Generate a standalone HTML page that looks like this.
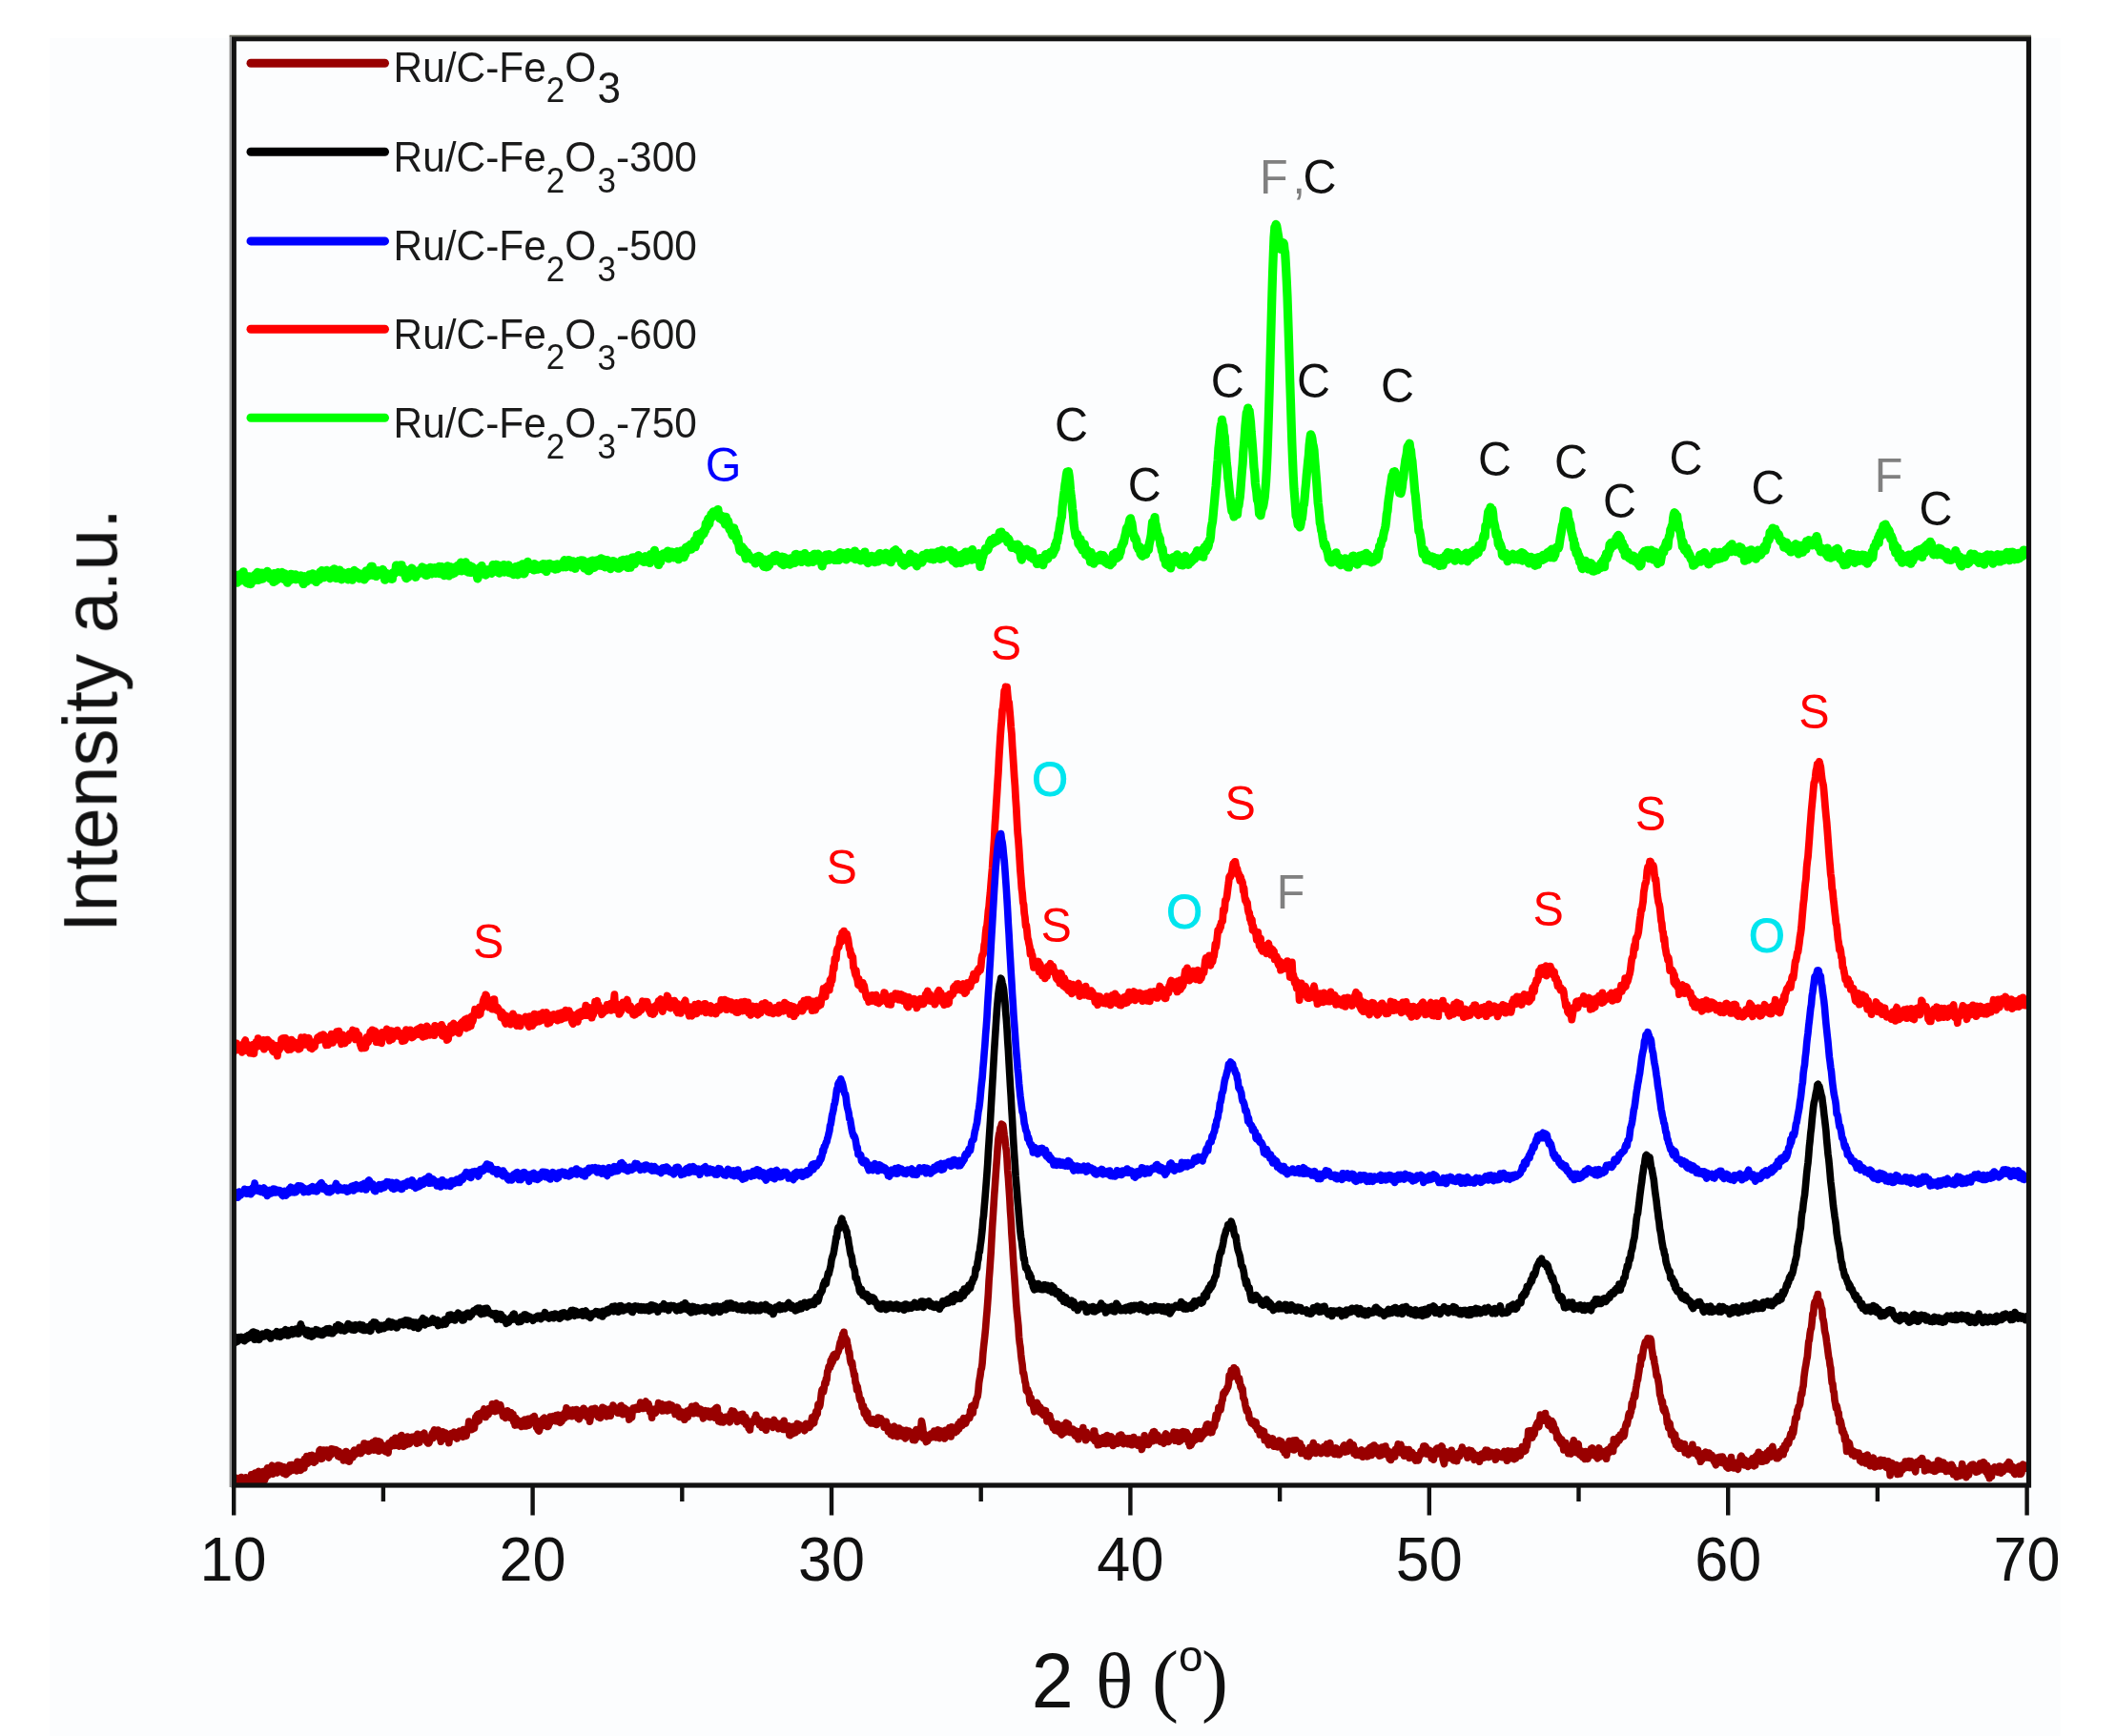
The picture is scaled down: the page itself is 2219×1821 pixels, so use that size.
<!DOCTYPE html>
<html lang="en">
<head>
<meta charset="utf-8">
<title>XRD patterns of Ru/C-Fe2O3 samples</title>
<style>
html,body{margin:0;padding:0;background:#fff;}
body{width:2219px;height:1821px;overflow:hidden;}
svg{display:block;}
#plot{filter:blur(0.75px);}
text{font-family:"Liberation Sans",sans-serif;}
.lg{font-size:42.4px;fill:#1a1a1a;}
.tk{font-size:63px;fill:#111;text-anchor:middle;}
.an{font-size:48.5px;}
.yl{font-size:78.5px;fill:#111;}
.xl{font-size:79px;fill:#111;}
.ser{font-family:"Liberation Serif",serif;}
</style>
</head>
<body>
<svg width="2219" height="1821" viewBox="0 0 2219 1821">
<rect x="0" y="0" width="2219" height="1821" fill="#ffffff"/>
<rect x="52" y="40" width="2109" height="1781" fill="#fcfdfe"/>
<g id="plot">
<defs><clipPath id="cp"><rect x="245.3" y="40.7" width="1882.2" height="1517.3"/></clipPath></defs>
<g clip-path="url(#cp)">
<polyline fill="none" stroke="#00ff00" stroke-width="9.2" stroke-linejoin="round" stroke-linecap="butt" points="243.3,608.8 244.0,610.3 244.7,609.6 245.4,605.2 246.1,603.4 246.8,610.5 247.5,608.2 248.2,603.4 248.9,611.1 249.6,610.4 250.3,604.3 251.0,609.2 251.7,602.5 252.4,604.8 253.1,608.8 253.8,603.6 254.5,603.8 255.2,599.8 255.9,607.8 256.6,605.1 257.3,603.5 258.0,608.6 258.7,611.3 259.4,607.2 260.1,610.0 260.8,612.2 261.5,604.9 262.2,609.1 262.9,612.6 263.6,605.6 264.3,606.0 265.0,608.2 265.7,609.4 266.4,606.0 267.1,607.0 267.8,602.7 268.5,607.7 269.2,603.0 269.9,600.4 270.6,608.5 271.3,605.5 272.0,604.5 272.7,607.8 273.4,603.6 274.1,601.1 274.8,605.7 275.5,607.2 276.2,605.1 276.9,601.1 277.6,604.5 278.3,603.8 279.0,603.2 279.7,600.2 280.4,599.3 281.1,602.8 281.8,605.0 282.5,601.6 283.2,606.8 283.9,605.8 284.6,603.2 285.3,607.6 286.0,606.9 286.7,610.4 287.4,601.7 288.1,608.4 288.8,609.3 289.5,607.7 290.2,604.2 290.9,607.9 291.6,600.7 292.3,602.3 293.0,606.5 293.7,604.1 294.4,605.0 295.1,602.9 295.8,600.4 296.5,602.9 297.2,606.9 297.9,607.7 298.6,601.8 299.3,606.3 300.0,606.0 300.7,605.6 301.4,611.2 302.1,607.2 302.8,605.0 303.5,605.1 304.2,608.6 304.9,602.3 305.6,605.2 306.3,604.8 307.0,605.3 307.7,602.9 308.4,606.0 309.1,607.1 309.8,602.8 310.5,607.7 311.2,606.2 311.9,606.7 312.6,604.8 313.3,605.5 314.0,606.8 314.7,605.1 315.4,603.8 316.1,608.8 316.8,605.7 317.5,608.2 318.2,612.5 318.9,609.3 319.6,604.7 320.3,605.8 321.0,609.6 321.7,609.9 322.4,608.3 323.1,607.9 323.8,604.0 324.5,602.8 325.2,602.9 325.9,606.6 326.6,608.0 327.3,602.9 328.0,601.8 328.7,605.2 329.4,602.7 330.1,606.1 330.8,604.7 331.5,610.4 332.2,604.1 332.9,606.1 333.6,606.1 334.3,605.2 335.0,607.7 335.7,600.0 336.4,605.3 337.1,599.8 337.8,598.5 338.5,599.1 339.2,603.5 339.9,605.7 340.6,602.9 341.3,600.2 342.0,601.9 342.7,598.3 343.4,601.7 344.1,600.5 344.8,599.7 345.5,601.8 346.2,606.6 346.9,604.1 347.6,600.7 348.3,598.2 349.0,605.7 349.7,599.1 350.4,596.8 351.1,597.3 351.8,604.2 352.5,606.5 353.2,598.3 353.9,604.0 354.6,603.8 355.3,602.9 356.0,598.1 356.7,606.4 357.4,603.9 358.1,607.8 358.8,607.4 359.5,605.3 360.2,600.7 360.9,602.4 361.6,603.5 362.3,605.8 363.0,601.9 363.7,602.7 364.4,604.6 365.1,607.8 365.8,600.4 366.5,602.6 367.2,603.4 367.9,604.2 368.6,602.5 369.3,608.2 370.0,605.2 370.7,599.5 371.4,598.4 372.1,601.2 372.8,603.2 373.5,599.9 374.2,600.4 374.9,604.7 375.6,604.4 376.3,606.3 377.0,606.8 377.7,602.0 378.4,603.5 379.1,604.8 379.8,605.7 380.5,605.9 381.2,607.2 381.9,608.0 382.6,607.1 383.3,600.2 384.0,598.9 384.7,599.9 385.4,604.4 386.1,599.3 386.8,603.6 387.5,601.3 388.2,603.1 388.9,594.4 389.6,598.2 390.3,594.3 391.0,601.8 391.7,603.4 392.4,601.8 393.1,601.0 393.8,603.5 394.5,604.5 395.2,601.8 395.9,602.8 396.6,598.7 397.3,602.5 398.0,602.4 398.7,601.1 399.4,602.9 400.1,602.6 400.8,600.9 401.5,597.4 402.2,600.3 402.9,601.1 403.6,608.2 404.3,605.0 405.0,605.9 405.7,601.6 406.4,603.4 407.1,604.3 407.8,603.0 408.5,603.8 409.2,603.8 409.9,607.1 410.6,606.6 411.3,607.4 412.0,600.8 412.7,601.9 413.4,602.1 414.1,599.4 414.8,600.6 415.5,593.0 416.2,598.7 416.9,593.3 417.6,597.5 418.3,596.8 419.0,596.5 419.7,599.9 420.4,592.9 421.1,592.9 421.8,600.5 422.5,598.2 423.2,598.9 423.9,597.0 424.6,601.2 425.3,604.8 426.0,606.6 426.7,601.5 427.4,599.0 428.1,605.2 428.8,601.3 429.5,602.6 430.2,602.7 430.9,603.3 431.6,596.2 432.3,596.6 433.0,599.1 433.7,601.9 434.4,599.7 435.1,599.4 435.8,605.3 436.5,599.9 437.2,599.7 437.9,600.1 438.6,602.1 439.3,598.5 440.0,599.6 440.7,600.1 441.4,601.0 442.1,598.6 442.8,594.9 443.5,599.3 444.2,599.2 444.9,598.8 445.6,596.2 446.3,603.3 447.0,597.3 447.7,603.5 448.4,601.2 449.1,598.0 449.8,601.9 450.5,601.0 451.2,595.4 451.9,598.9 452.6,601.9 453.3,599.3 454.0,596.0 454.7,596.6 455.4,600.9 456.1,595.7 456.8,601.4 457.5,598.6 458.2,598.2 458.9,598.7 459.6,598.5 460.3,594.4 461.0,601.6 461.7,597.2 462.4,600.0 463.1,594.6 463.8,602.3 464.5,601.0 465.2,596.2 465.9,603.6 466.6,602.5 467.3,598.7 468.0,596.6 468.7,600.5 469.4,593.9 470.1,602.9 470.8,603.9 471.5,594.7 472.2,602.1 472.9,596.7 473.6,601.1 474.3,602.2 475.0,595.4 475.7,596.1 476.4,601.2 477.1,598.9 477.8,599.3 478.5,595.2 479.2,599.2 479.9,593.3 480.6,594.0 481.3,594.5 482.0,594.1 482.7,596.4 483.4,590.1 484.1,598.9 484.8,593.8 485.5,595.6 486.2,594.4 486.9,591.6 487.6,594.2 488.3,589.9 489.0,593.2 489.7,599.4 490.4,593.5 491.1,600.1 491.8,599.1 492.5,593.5 493.2,596.3 493.9,600.5 494.6,594.8 495.3,594.9 496.0,595.5 496.7,600.0 497.4,599.6 498.1,598.9 498.8,601.0 499.5,601.8 500.2,603.8 500.9,607.0 501.6,603.1 502.3,596.7 503.0,595.6 503.7,596.1 504.4,601.7 505.1,593.5 505.8,598.9 506.5,597.9 507.2,597.1 507.9,601.0 508.6,602.7 509.3,603.1 510.0,598.9 510.7,597.9 511.4,598.5 512.1,598.3 512.8,597.7 513.5,600.1 514.2,597.9 514.9,599.2 515.6,601.3 516.3,600.1 517.0,592.6 517.7,599.7 518.4,597.2 519.1,594.6 519.8,593.5 520.5,592.3 521.2,595.0 521.9,598.0 522.6,593.0 523.3,601.1 524.0,597.1 524.7,595.9 525.4,593.5 526.1,599.5 526.8,598.6 527.5,596.2 528.2,592.5 528.9,600.1 529.6,596.8 530.3,593.8 531.0,595.5 531.7,599.3 532.4,598.3 533.1,592.9 533.8,600.6 534.5,596.9 535.2,599.8 535.9,596.2 536.6,600.4 537.3,601.7 538.0,595.7 538.7,602.6 539.4,602.0 540.1,600.7 540.8,594.6 541.5,600.6 542.2,601.0 542.9,602.8 543.6,597.6 544.3,593.5 545.0,600.7 545.7,596.2 546.4,594.3 547.1,597.6 547.8,591.8 548.5,592.1 549.2,602.0 549.9,601.5 550.6,599.3 551.3,596.4 552.0,595.9 552.7,592.6 553.4,589.3 554.1,593.1 554.8,590.8 555.5,596.5 556.2,592.4 556.9,595.0 557.6,595.7 558.3,595.7 559.0,594.6 559.7,597.9 560.4,591.5 561.1,596.8 561.8,597.4 562.5,596.2 563.2,593.0 563.9,596.8 564.6,597.1 565.3,594.2 566.0,594.2 566.7,594.4 567.4,592.9 568.1,592.6 568.8,592.8 569.5,591.6 570.2,597.3 570.9,592.9 571.6,591.8 572.3,596.6 573.0,599.5 573.7,592.7 574.4,591.9 575.1,592.9 575.8,591.8 576.5,591.4 577.2,593.0 577.9,594.7 578.6,594.4 579.3,595.9 580.0,594.0 580.7,594.3 581.4,592.5 582.1,597.1 582.8,594.8 583.5,593.8 584.2,591.8 584.9,596.6 585.6,594.1 586.3,595.5 587.0,593.0 587.7,594.0 588.4,594.7 589.1,592.5 589.8,590.8 590.5,594.8 591.2,590.3 591.9,587.6 592.6,591.1 593.3,594.8 594.0,589.8 594.7,591.6 595.4,592.4 596.1,587.5 596.8,587.8 597.5,588.1 598.2,592.4 598.9,589.9 599.6,595.0 600.3,594.0 601.0,588.8 601.7,593.9 602.4,591.3 603.1,596.3 603.8,591.0 604.5,590.6 605.2,592.1 605.9,592.4 606.6,592.2 607.3,588.3 608.0,588.3 608.7,588.5 609.4,587.8 610.1,593.0 610.8,592.8 611.5,588.1 612.2,594.2 612.9,596.1 613.6,595.1 614.3,595.7 615.0,590.1 615.7,595.3 616.4,589.9 617.1,598.7 617.8,598.8 618.5,597.9 619.2,589.9 619.9,588.6 620.6,594.1 621.3,588.0 622.0,588.9 622.7,594.6 623.4,595.3 624.1,588.4 624.8,588.0 625.5,593.6 626.2,590.3 626.9,590.8 627.6,587.4 628.3,589.1 629.0,593.2 629.7,590.6 630.4,585.8 631.1,588.3 631.8,593.5 632.5,591.3 633.2,587.1 633.9,591.5 634.6,594.8 635.3,593.3 636.0,593.0 636.7,587.5 637.4,593.1 638.1,592.7 638.8,593.9 639.5,591.3 640.2,596.6 640.9,595.3 641.6,590.3 642.3,588.7 643.0,593.0 643.7,588.7 644.4,590.7 645.1,590.6 645.8,592.2 646.5,590.1 647.2,594.3 647.9,596.1 648.6,590.6 649.3,596.1 650.0,595.5 650.7,592.2 651.4,588.2 652.1,594.3 652.8,592.9 653.5,587.4 654.2,589.2 654.9,593.4 655.6,590.9 656.3,587.6 657.0,590.1 657.7,586.9 658.4,595.4 659.1,595.0 659.8,589.7 660.5,592.0 661.2,595.2 661.9,592.2 662.6,585.2 663.3,591.1 664.0,590.7 664.7,584.9 665.4,591.6 666.1,587.1 666.8,586.5 667.5,585.7 668.2,587.2 668.9,584.6 669.6,582.5 670.3,584.1 671.0,587.8 671.7,586.3 672.4,586.6 673.1,585.0 673.8,585.5 674.5,588.7 675.2,589.5 675.9,585.5 676.6,583.7 677.3,585.7 678.0,586.3 678.7,585.7 679.4,589.3 680.1,589.3 680.8,587.9 681.5,590.5 682.2,581.5 682.9,582.8 683.6,585.4 684.3,581.8 685.0,581.6 685.7,582.6 686.4,577.4 687.1,584.7 687.8,583.7 688.5,587.5 689.2,582.0 689.9,584.9 690.6,592.5 691.3,585.5 692.0,589.1 692.7,589.6 693.4,584.9 694.1,584.0 694.8,584.1 695.5,580.9 696.2,582.4 696.9,582.3 697.6,582.1 698.3,580.4 699.0,581.3 699.7,578.7 700.4,578.1 701.1,585.9 701.8,581.6 702.5,583.9 703.2,584.2 703.9,580.1 704.6,579.1 705.3,582.4 706.0,581.4 706.7,584.8 707.4,583.7 708.1,581.7 708.8,584.2 709.5,582.8 710.2,578.7 710.9,583.8 711.6,586.7 712.3,585.4 713.0,579.8 713.7,581.3 714.4,577.9 715.1,583.3 715.8,580.0 716.5,581.6 717.2,584.6 717.9,581.6 718.6,581.8 719.3,574.4 720.0,575.6 720.7,577.6 721.4,573.3 722.1,577.1 722.8,574.6 723.5,574.7 724.2,571.2 724.9,576.1 725.6,571.4 726.3,573.1 727.0,569.7 727.7,569.3 728.4,566.7 729.1,573.7 729.8,571.1 730.5,567.7 731.2,561.2 731.9,562.0 732.6,567.4 733.3,567.5 734.0,559.8 734.7,562.0 735.4,562.6 736.1,561.0 736.8,560.7 737.5,557.2 738.2,559.5 738.9,555.3 739.6,556.5 740.3,549.0 741.0,551.4 741.7,552.6 742.4,545.2 743.1,543.7 743.8,549.5 744.5,542.8 745.2,544.3 745.9,539.3 746.6,542.0 747.3,541.8 748.0,536.8 748.7,537.2 749.4,537.7 750.1,539.1 750.8,537.1 751.5,538.8 752.2,539.5 752.9,534.5 753.6,542.1 753.8,538.6 754.3,540.7 755.0,543.9 755.7,543.1 756.4,541.3 757.1,545.1 757.8,543.4 758.5,541.9 759.2,547.2 759.9,544.9 760.6,550.0 761.3,542.4 762.0,548.4 762.7,548.6 763.4,546.2 764.1,549.0 764.8,554.4 765.5,556.1 766.2,554.4 766.9,555.9 767.6,560.1 768.3,561.7 769.0,556.9 769.7,553.9 770.4,561.0 771.1,557.6 771.8,559.5 772.5,566.9 773.2,568.4 773.9,564.3 774.6,570.4 775.3,574.6 776.0,577.6 776.7,574.7 777.4,578.8 778.1,573.6 778.8,576.3 779.5,575.1 780.2,577.6 780.9,577.2 781.6,583.3 782.3,586.0 783.0,582.3 783.7,579.8 784.4,582.1 785.1,581.9 785.8,583.4 786.5,584.5 787.2,584.9 787.9,585.5 788.6,587.0 789.3,586.1 790.0,587.1 790.7,586.4 791.4,586.3 792.1,590.9 792.8,585.3 793.5,584.2 794.2,587.0 794.9,588.5 795.6,583.3 796.3,587.2 797.0,584.1 797.7,585.9 798.4,588.9 799.1,590.0 799.8,587.8 800.5,593.2 801.2,594.4 801.9,587.0 802.6,592.7 803.3,588.3 804.0,594.8 804.7,590.9 805.4,594.1 806.1,588.3 806.8,592.4 807.5,586.1 808.2,589.7 808.9,589.1 809.6,587.6 810.3,586.6 811.0,586.9 811.7,583.1 812.4,588.5 813.1,586.1 813.8,582.3 814.5,586.8 815.2,585.0 815.9,588.1 816.6,586.5 817.3,589.0 818.0,588.3 818.7,590.1 819.4,591.3 820.1,584.1 820.8,590.0 821.5,592.6 822.2,584.6 822.9,591.0 823.6,588.0 824.3,589.6 825.0,586.0 825.7,590.4 826.4,591.6 827.1,590.0 827.8,590.0 828.5,592.1 829.2,589.6 829.9,585.5 830.6,588.2 831.3,590.9 832.0,586.1 832.7,585.7 833.4,590.4 834.1,581.6 834.8,581.4 835.5,582.7 836.2,588.9 836.9,583.5 837.6,585.9 838.3,587.3 839.0,582.4 839.7,588.3 840.4,589.5 841.1,582.1 841.8,585.4 842.5,583.3 843.2,587.4 843.9,580.5 844.6,583.6 845.3,583.3 846.0,587.2 846.7,583.5 847.4,589.9 848.1,585.8 848.8,583.8 849.5,585.6 850.2,588.5 850.9,584.7 851.6,582.9 852.3,589.5 853.0,586.9 853.7,581.4 854.4,587.6 855.1,581.3 855.8,586.6 856.5,587.8 857.2,583.3 857.9,581.2 858.6,586.3 859.3,587.3 860.0,586.2 860.7,586.9 861.4,583.9 862.1,593.8 862.8,586.2 863.5,589.1 864.2,586.8 864.9,588.7 865.6,584.6 866.3,582.0 867.0,585.3 867.7,582.4 868.4,584.7 869.1,581.5 869.8,587.1 870.5,584.0 871.2,583.5 871.9,583.0 872.6,584.7 873.3,584.3 874.0,585.6 874.7,583.0 875.4,587.5 876.1,584.1 876.8,582.2 877.5,586.8 878.2,587.3 878.9,584.3 879.6,587.4 880.3,581.7 881.0,579.6 881.7,580.6 882.4,585.9 883.1,580.3 883.8,583.3 884.5,583.1 885.2,583.1 885.9,582.9 886.6,583.2 887.3,586.9 888.0,582.8 888.7,579.6 889.4,584.4 890.1,581.2 890.8,580.4 891.5,581.9 892.2,583.1 892.9,584.8 893.6,583.2 894.3,580.1 895.0,580.0 895.7,582.8 896.4,578.0 897.1,586.7 897.8,585.3 898.5,584.6 899.2,586.2 899.9,581.0 900.6,586.1 901.3,586.0 902.0,587.5 902.7,587.9 903.4,585.9 904.1,583.5 904.8,587.4 905.5,585.1 906.2,582.1 906.9,579.0 907.6,585.9 908.3,588.4 909.0,585.4 909.7,587.6 910.4,590.6 911.1,588.9 911.8,585.1 912.5,587.5 913.2,586.7 913.9,583.3 914.6,585.5 915.3,588.5 916.0,589.0 916.7,584.1 917.4,589.7 918.1,583.6 918.8,583.8 919.5,584.4 920.2,583.8 920.9,588.9 921.6,581.9 922.3,580.5 923.0,580.6 923.7,585.6 924.4,582.2 925.1,583.8 925.8,583.2 926.5,587.1 927.2,582.6 927.9,585.2 928.6,586.6 929.3,580.2 930.0,587.2 930.7,581.2 931.4,584.2 932.1,581.4 932.8,588.7 933.5,581.7 934.2,589.7 934.9,586.7 935.6,586.8 936.3,586.2 937.0,578.4 937.7,582.9 938.4,577.8 939.1,576.7 939.8,584.8 940.5,578.5 941.2,584.0 941.9,579.4 942.6,583.7 943.3,585.4 944.0,583.1 944.7,584.9 945.4,590.5 946.1,585.9 946.8,585.0 947.5,591.2 948.2,593.2 948.9,588.8 949.6,586.8 950.3,586.6 951.0,588.7 951.7,590.7 952.4,587.0 953.1,588.1 953.8,583.2 954.5,581.1 955.2,583.7 955.9,587.9 956.6,585.3 957.3,589.7 958.0,586.5 958.7,586.4 959.4,584.1 960.1,587.3 960.8,592.1 961.5,593.8 962.2,589.6 962.9,590.7 963.6,586.3 964.3,587.0 965.0,585.6 965.7,590.1 966.4,588.5 967.1,589.9 967.8,582.4 968.5,582.5 969.2,586.4 969.9,581.9 970.6,584.3 971.3,582.6 972.0,580.3 972.7,584.1 973.4,582.3 974.1,582.1 974.8,582.9 975.5,586.2 976.2,580.2 976.9,580.0 977.6,580.2 978.3,580.2 979.0,586.8 979.7,584.9 980.4,580.1 981.1,581.4 981.8,580.2 982.5,583.6 983.2,584.4 983.9,578.6 984.6,585.7 985.3,584.6 986.0,586.4 986.7,582.2 987.4,582.7 988.1,577.2 988.8,585.6 989.5,584.5 990.2,583.5 990.9,583.9 991.6,579.0 992.3,582.7 993.0,583.4 993.7,579.3 994.4,583.8 995.1,580.2 995.8,581.8 996.5,577.3 997.2,584.6 997.9,579.9 998.6,586.1 999.3,588.2 1000.0,579.5 1000.7,585.9 1001.4,581.6 1002.1,585.0 1002.8,591.0 1003.5,588.2 1004.2,589.9 1004.9,586.1 1005.6,583.7 1006.3,582.7 1007.0,586.2 1007.7,590.3 1008.4,585.2 1009.1,585.1 1009.8,587.6 1010.5,580.9 1011.2,586.4 1011.9,586.8 1012.6,579.0 1013.3,588.2 1014.0,585.4 1014.7,586.0 1015.4,579.2 1016.1,581.6 1016.8,583.6 1017.5,583.1 1018.2,580.5 1018.9,587.1 1019.6,576.6 1020.3,583.1 1021.0,586.5 1021.7,585.3 1022.4,585.8 1023.1,581.3 1023.8,586.6 1024.5,584.2 1025.2,582.4 1025.9,584.5 1026.6,580.7 1027.3,584.6 1028.0,594.4 1028.7,588.7 1029.4,590.0 1030.1,584.7 1030.8,584.0 1031.5,579.7 1032.2,580.0 1032.9,577.4 1033.6,575.3 1034.3,576.5 1035.0,576.6 1035.7,577.0 1036.4,575.5 1037.1,571.7 1037.8,568.7 1038.5,571.6 1039.2,566.4 1039.9,567.1 1040.6,569.0 1041.3,569.8 1042.0,566.8 1042.7,564.3 1043.4,566.9 1044.1,567.9 1044.8,566.5 1045.5,567.4 1046.2,563.5 1046.9,566.4 1047.6,562.2 1048.3,558.6 1049.0,558.8 1049.7,563.4 1050.0,558.1 1050.4,561.0 1051.1,562.3 1051.8,560.5 1052.5,564.2 1053.2,565.0 1053.9,561.8 1054.6,562.0 1055.3,563.5 1056.0,564.4 1056.7,568.9 1057.4,565.0 1058.1,566.3 1058.8,569.7 1059.5,570.1 1060.2,570.5 1060.9,574.4 1061.6,572.2 1062.3,571.5 1063.0,571.4 1063.7,574.6 1064.4,572.7 1065.1,573.5 1065.8,575.9 1066.5,571.5 1067.2,571.1 1067.9,574.7 1068.6,572.5 1069.3,578.9 1070.0,580.3 1070.7,585.1 1071.4,587.1 1072.1,580.2 1072.8,582.2 1073.5,576.7 1074.2,581.3 1074.9,578.7 1075.6,582.0 1076.3,578.1 1077.0,576.2 1077.7,581.0 1078.4,582.8 1079.1,582.1 1079.8,580.5 1080.5,584.4 1081.2,578.5 1081.9,582.7 1082.6,579.5 1083.3,586.3 1084.0,584.2 1084.7,585.1 1085.4,586.4 1086.1,587.3 1086.8,587.4 1087.5,591.5 1088.2,588.0 1088.9,588.7 1089.6,586.7 1090.3,585.7 1091.0,586.6 1091.7,587.3 1092.4,585.4 1093.1,587.0 1093.8,592.6 1094.5,589.0 1095.2,588.3 1095.9,587.8 1096.6,581.6 1097.3,582.6 1098.0,584.5 1098.7,586.3 1099.4,582.5 1100.1,583.2 1100.8,580.3 1101.5,579.4 1102.2,581.5 1102.9,578.8 1103.6,581.8 1104.3,580.8 1105.0,576.3 1105.7,578.0 1106.4,571.9 1107.1,575.1 1107.8,568.1 1108.5,568.6 1109.2,564.8 1109.9,559.5 1110.6,558.2 1111.3,552.1 1112.0,547.9 1112.7,544.3 1113.4,542.2 1114.1,531.5 1114.8,526.0 1115.5,519.8 1116.2,514.8 1116.9,508.4 1117.6,504.5 1118.3,498.9 1119.0,495.0 1119.3,499.7 1119.7,494.8 1120.4,494.6 1121.1,498.8 1121.8,505.1 1122.5,513.9 1123.2,520.4 1123.9,525.4 1124.6,534.2 1125.3,538.1 1126.0,548.4 1126.7,554.0 1127.4,558.3 1128.1,562.4 1128.8,562.2 1129.5,560.1 1130.2,562.6 1130.9,570.4 1131.6,568.3 1132.3,572.3 1133.0,565.5 1133.7,574.4 1134.4,569.3 1135.1,577.2 1135.8,574.3 1136.5,577.6 1137.2,570.8 1137.9,575.4 1138.6,581.9 1139.3,578.3 1140.0,576.8 1140.7,579.6 1141.4,584.1 1142.1,582.2 1142.8,580.0 1143.5,589.4 1144.2,579.6 1144.9,585.6 1145.6,585.2 1146.3,587.3 1147.0,591.2 1147.7,588.5 1148.4,585.1 1149.1,588.9 1149.8,585.7 1150.5,588.1 1151.2,583.7 1151.9,584.4 1152.6,586.4 1153.3,584.1 1154.0,582.1 1154.7,587.6 1155.4,586.4 1156.1,583.5 1156.8,582.5 1157.5,583.7 1158.2,584.7 1158.9,589.4 1159.6,590.2 1160.3,589.3 1161.0,588.0 1161.7,591.6 1162.4,590.1 1163.1,590.6 1163.8,591.0 1164.5,592.7 1165.2,587.6 1165.9,590.7 1166.6,590.5 1167.3,581.5 1168.0,584.2 1168.7,586.8 1169.4,582.2 1170.1,579.6 1170.8,584.2 1171.5,585.4 1172.2,579.3 1172.9,582.7 1173.6,583.6 1174.3,579.8 1175.0,579.6 1175.7,575.1 1176.4,572.6 1177.1,571.8 1177.8,569.0 1178.5,569.1 1179.2,564.8 1179.9,561.8 1180.6,559.3 1181.3,554.6 1182.0,553.3 1182.7,552.3 1183.4,552.0 1184.1,548.4 1184.8,544.9 1185.0,547.5 1185.5,543.9 1186.2,546.7 1186.9,548.8 1187.6,553.8 1188.3,560.4 1189.0,560.6 1189.7,564.9 1190.4,563.5 1191.1,565.4 1191.8,567.0 1192.5,573.5 1193.2,573.3 1193.9,576.1 1194.6,574.3 1195.3,573.7 1196.0,580.9 1196.7,581.8 1197.4,582.7 1198.1,583.3 1198.8,579.2 1199.5,576.1 1200.2,581.2 1200.9,577.7 1201.6,581.4 1202.3,577.3 1203.0,577.7 1203.7,573.9 1204.4,576.8 1205.1,571.1 1205.8,568.2 1206.5,565.0 1207.2,561.2 1207.9,554.1 1208.6,547.6 1209.3,549.0 1210.0,548.6 1210.7,546.3 1211.0,542.5 1211.4,548.6 1212.1,550.1 1212.8,554.5 1213.5,557.2 1214.2,562.6 1214.9,561.4 1215.6,565.0 1216.3,565.1 1217.0,572.0 1217.7,572.8 1218.4,578.0 1219.1,575.6 1219.8,582.3 1220.5,586.1 1221.2,584.1 1221.9,586.8 1222.6,592.1 1223.3,592.6 1224.0,585.4 1224.7,591.8 1225.4,589.6 1226.1,590.4 1226.8,588.9 1227.5,596.0 1228.2,592.7 1228.9,589.5 1229.6,590.2 1230.3,584.6 1231.0,589.9 1231.7,589.4 1232.4,588.1 1233.1,583.7 1233.8,587.8 1234.5,581.9 1235.2,582.9 1235.9,587.0 1236.6,587.6 1237.3,591.5 1238.0,592.5 1238.7,589.8 1239.4,585.8 1240.1,593.0 1240.8,590.4 1241.5,591.9 1242.2,585.8 1242.9,583.1 1243.6,584.0 1244.3,588.2 1245.0,589.8 1245.7,586.3 1246.4,592.3 1247.1,590.5 1247.8,586.3 1248.5,590.0 1249.2,589.2 1249.9,588.6 1250.6,585.0 1251.3,584.4 1252.0,583.6 1252.7,586.3 1253.4,582.2 1254.1,580.6 1254.8,582.6 1255.5,577.7 1256.2,580.8 1256.9,578.2 1257.6,580.2 1258.3,581.2 1259.0,583.3 1259.7,579.5 1260.4,583.3 1261.1,576.6 1261.8,584.2 1262.5,577.4 1263.2,573.8 1263.9,576.7 1264.6,578.0 1265.3,572.3 1266.0,570.3 1266.7,574.4 1267.4,571.7 1268.1,567.0 1268.8,567.2 1269.5,562.9 1270.2,554.1 1270.9,550.3 1271.6,546.8 1272.3,539.6 1273.0,531.7 1273.7,524.6 1274.4,516.1 1275.1,509.7 1275.8,500.5 1276.5,489.9 1277.2,482.3 1277.9,470.3 1278.6,464.4 1279.3,456.5 1280.0,448.6 1280.7,445.0 1281.3,444.7 1281.4,440.4 1282.1,445.4 1282.8,446.8 1283.5,455.0 1284.2,457.6 1284.9,467.9 1285.6,475.6 1286.3,486.2 1287.0,491.4 1287.7,501.4 1288.4,506.2 1289.1,513.7 1289.8,520.2 1290.5,525.0 1291.2,531.5 1291.9,536.2 1292.6,531.8 1293.3,536.5 1294.0,542.0 1294.7,538.2 1295.4,536.6 1296.1,539.5 1296.8,536.8 1297.5,539.5 1298.2,531.6 1298.9,531.0 1299.6,525.6 1300.3,521.2 1301.0,512.9 1301.7,503.5 1302.4,494.1 1303.1,486.9 1303.8,474.7 1304.5,466.7 1305.2,457.7 1305.9,447.2 1306.6,440.3 1307.3,432.9 1308.0,431.8 1308.7,428.0 1308.8,432.3 1309.4,431.0 1310.1,430.8 1310.8,436.7 1311.5,443.0 1312.2,453.2 1312.9,460.8 1313.6,469.5 1314.3,479.3 1315.0,490.4 1315.7,495.8 1316.4,507.1 1317.1,511.9 1317.8,516.5 1318.5,524.7 1319.2,525.2 1319.9,530.2 1320.6,539.1 1321.3,536.3 1322.0,540.7 1322.7,536.7 1323.4,533.1 1324.1,532.7 1324.8,530.2 1325.5,526.1 1326.2,521.8 1326.9,513.8 1327.6,505.4 1328.3,492.6 1329.0,477.2 1329.7,457.4 1330.4,435.8 1331.1,412.4 1331.8,386.1 1332.5,360.3 1333.2,334.4 1333.9,308.8 1334.6,285.4 1335.3,266.6 1336.0,249.2 1336.7,240.9 1336.8,238.5 1337.4,238.4 1338.1,235.4 1338.8,237.2 1339.5,241.3 1340.2,245.5 1340.9,249.8 1341.5,257.4 1341.6,258.4 1342.3,257.6 1343.0,261.5 1343.7,257.9 1344.4,257.5 1345.1,257.5 1345.8,254.6 1346.5,256.3 1347.2,263.9 1347.6,264.2 1347.9,269.1 1348.6,281.5 1349.3,295.3 1350.0,311.0 1350.7,332.2 1351.4,354.0 1352.1,377.7 1352.8,401.1 1353.5,422.7 1354.2,445.2 1354.9,466.2 1355.6,483.9 1356.3,500.1 1357.0,512.9 1357.7,521.5 1358.4,530.5 1359.1,541.4 1359.8,541.3 1360.5,546.0 1361.2,550.5 1361.9,550.3 1362.6,548.6 1363.3,552.9 1364.0,550.2 1364.7,545.4 1365.4,543.8 1366.1,537.9 1366.8,530.6 1367.5,528.9 1368.2,521.9 1368.9,513.7 1369.6,506.8 1370.3,497.7 1371.0,491.2 1371.7,483.8 1372.4,477.5 1373.1,467.1 1373.8,460.9 1374.5,455.8 1375.2,461.8 1375.4,457.7 1375.9,459.9 1376.6,465.4 1377.3,468.0 1378.0,472.1 1378.7,481.7 1379.4,489.8 1380.1,498.6 1380.8,507.1 1381.5,517.4 1382.2,527.6 1382.9,532.7 1383.6,539.9 1384.3,548.6 1385.0,550.9 1385.7,556.5 1386.4,558.4 1387.1,563.7 1387.8,567.9 1388.5,571.9 1389.2,573.2 1389.9,570.7 1390.6,574.0 1391.3,576.7 1392.0,578.6 1392.7,581.4 1393.4,586.2 1394.1,585.0 1394.8,588.0 1395.5,582.9 1396.2,590.0 1396.9,582.7 1397.6,586.8 1398.3,584.3 1399.0,587.9 1399.7,586.9 1400.4,583.2 1401.1,579.8 1401.8,585.3 1402.5,586.7 1403.2,589.9 1403.9,584.7 1404.6,591.5 1405.3,590.4 1406.0,592.7 1406.7,586.7 1407.4,587.9 1408.1,590.2 1408.8,588.5 1409.5,589.6 1410.2,587.0 1410.9,585.8 1411.6,587.4 1412.3,594.0 1413.0,588.3 1413.7,595.0 1414.4,595.0 1415.1,587.2 1415.8,588.4 1416.5,589.8 1417.2,590.2 1417.9,586.1 1418.6,583.2 1419.3,583.1 1420.0,584.4 1420.7,585.3 1421.4,590.7 1422.1,585.5 1422.8,588.3 1423.5,592.1 1424.2,586.0 1424.9,583.8 1425.6,583.0 1426.3,588.2 1427.0,588.8 1427.7,585.4 1428.4,585.2 1429.1,582.0 1429.8,585.5 1430.5,588.0 1431.2,584.9 1431.9,587.5 1432.6,580.4 1433.3,584.0 1434.0,588.3 1434.7,582.1 1435.4,588.7 1436.1,585.9 1436.8,585.4 1437.5,586.1 1438.2,589.9 1438.9,587.4 1439.6,588.6 1440.3,589.1 1441.0,584.3 1441.7,585.9 1442.4,584.2 1443.1,585.0 1443.8,586.9 1444.5,579.3 1445.2,584.5 1445.9,580.3 1446.6,573.0 1447.3,572.8 1448.0,571.7 1448.7,566.6 1449.4,565.9 1450.1,565.5 1450.8,560.9 1451.5,557.5 1452.2,555.3 1452.9,552.2 1453.6,546.8 1454.3,539.0 1455.0,536.2 1455.7,528.0 1456.4,522.6 1457.1,518.6 1457.8,512.1 1458.5,508.5 1459.2,503.7 1459.9,498.9 1460.6,501.7 1460.9,500.2 1461.3,495.0 1462.0,501.4 1462.7,494.6 1463.4,496.8 1464.1,504.3 1464.8,504.4 1465.5,504.5 1466.2,509.2 1466.9,514.3 1467.6,517.0 1468.3,516.5 1469.0,517.6 1469.7,514.7 1470.4,510.8 1471.1,503.8 1471.8,501.4 1472.5,492.5 1473.2,487.8 1473.9,482.3 1474.6,479.3 1475.3,475.7 1476.0,469.1 1476.7,467.4 1477.4,468.3 1477.7,468.0 1478.1,465.2 1478.8,470.7 1479.5,472.5 1480.2,480.0 1480.9,483.4 1481.6,491.9 1482.3,498.7 1483.0,506.8 1483.7,515.6 1484.4,519.8 1485.1,528.0 1485.8,535.2 1486.5,543.9 1487.2,548.3 1487.9,557.4 1488.6,556.7 1489.3,561.0 1490.0,565.3 1490.7,571.6 1491.4,576.5 1492.1,581.2 1492.8,576.7 1493.5,576.8 1494.2,582.2 1494.9,583.7 1495.6,587.1 1496.3,581.3 1497.0,587.4 1497.7,587.6 1498.4,585.2 1499.1,587.9 1499.8,587.1 1500.5,588.6 1501.2,586.8 1501.9,583.9 1502.6,588.1 1503.3,584.5 1504.0,588.7 1504.7,591.2 1505.4,590.1 1506.1,585.7 1506.8,591.1 1507.5,585.9 1508.2,589.6 1508.9,590.8 1509.6,593.5 1510.3,590.8 1511.0,588.3 1511.7,585.9 1512.4,585.3 1513.1,592.8 1513.8,589.7 1514.5,585.8 1515.2,586.1 1515.9,582.7 1516.6,584.6 1517.3,587.4 1518.0,579.7 1518.7,582.2 1519.4,585.2 1520.1,584.9 1520.8,585.7 1521.5,580.3 1522.2,582.6 1522.9,582.6 1523.6,581.6 1524.3,584.9 1525.0,581.9 1525.7,588.1 1526.4,583.2 1527.1,584.0 1527.8,579.6 1528.5,580.5 1529.2,585.5 1529.9,582.1 1530.6,585.3 1531.3,582.7 1532.0,585.6 1532.7,587.8 1533.4,584.6 1534.1,584.5 1534.8,583.5 1535.5,581.9 1536.2,585.0 1536.9,581.1 1537.6,580.1 1538.3,587.7 1539.0,588.9 1539.7,582.0 1540.4,585.9 1541.1,586.0 1541.8,582.0 1542.5,584.9 1543.2,579.0 1543.9,578.7 1544.6,582.3 1545.3,580.6 1546.0,577.0 1546.7,581.7 1547.4,582.0 1548.1,577.0 1548.8,576.8 1549.5,575.5 1550.2,579.9 1550.9,572.4 1551.6,573.8 1552.3,572.4 1553.0,571.1 1553.7,574.5 1554.4,571.1 1555.1,566.3 1555.8,562.6 1556.5,560.6 1557.2,562.9 1557.9,551.4 1558.6,552.8 1559.3,549.7 1560.0,542.6 1560.7,537.2 1561.4,535.6 1562.1,539.2 1562.8,533.8 1563.0,532.2 1563.5,538.3 1564.2,536.3 1564.9,534.3 1565.6,538.5 1566.3,546.8 1567.0,549.0 1567.7,551.9 1568.4,556.8 1569.1,561.5 1569.8,558.7 1570.5,562.9 1571.2,570.9 1571.9,567.8 1572.6,573.6 1573.3,570.8 1574.0,573.2 1574.7,575.3 1575.4,582.3 1576.1,583.4 1576.8,581.8 1577.5,582.0 1578.2,580.5 1578.9,580.3 1579.6,583.7 1580.3,583.9 1581.0,588.7 1581.7,583.7 1582.4,586.9 1583.1,585.0 1583.8,583.3 1584.5,583.5 1585.2,583.4 1585.9,586.2 1586.6,581.2 1587.3,585.7 1588.0,586.9 1588.7,583.9 1589.4,584.3 1590.1,584.9 1590.8,583.7 1591.5,584.8 1592.2,586.9 1592.9,581.3 1593.6,583.9 1594.3,580.6 1595.0,586.4 1595.7,579.5 1596.4,588.1 1597.1,580.3 1597.8,580.8 1598.5,585.3 1599.2,585.2 1599.9,582.6 1600.6,586.0 1601.3,585.4 1602.0,584.2 1602.7,584.4 1603.4,590.9 1604.1,588.5 1604.8,588.7 1605.5,584.3 1606.2,587.8 1606.9,587.9 1607.6,588.4 1608.3,591.6 1609.0,589.5 1609.7,593.3 1610.4,590.5 1611.1,586.9 1611.8,585.0 1612.5,592.2 1613.2,584.7 1613.9,585.8 1614.6,585.4 1615.3,585.5 1616.0,586.8 1616.7,583.5 1617.4,587.4 1618.1,582.3 1618.8,582.5 1619.5,586.3 1620.2,586.0 1620.9,582.0 1621.6,582.7 1622.3,584.3 1623.0,579.5 1623.7,582.1 1624.4,578.7 1625.1,583.4 1625.8,584.7 1626.5,580.0 1627.2,576.2 1627.9,580.8 1628.6,583.6 1629.3,585.0 1630.0,581.6 1630.7,582.1 1631.4,578.2 1632.1,574.2 1632.8,576.1 1633.5,573.5 1634.2,575.3 1634.9,573.2 1635.6,568.6 1636.3,563.5 1637.0,560.2 1637.7,555.5 1638.4,551.1 1639.1,549.7 1639.8,545.6 1640.5,539.3 1641.2,536.1 1641.9,538.1 1642.6,536.3 1642.6,540.0 1643.3,540.8 1644.0,537.3 1644.7,543.9 1645.4,545.3 1646.1,548.2 1646.8,549.8 1647.5,555.9 1648.2,558.7 1648.9,561.2 1649.6,565.9 1650.3,565.7 1651.0,575.1 1651.7,571.0 1652.4,576.9 1653.1,580.8 1653.8,577.4 1654.5,579.6 1655.2,584.9 1655.9,582.6 1656.6,589.6 1657.3,585.8 1658.0,587.2 1658.7,594.8 1659.4,596.6 1660.1,589.3 1660.8,595.1 1661.5,590.3 1662.2,589.0 1662.9,588.4 1663.6,594.7 1664.3,591.2 1665.0,592.0 1665.7,597.0 1666.4,596.2 1667.1,596.6 1667.8,596.2 1668.5,590.7 1669.2,594.3 1669.9,598.8 1670.6,594.0 1671.3,599.1 1672.0,593.7 1672.7,597.3 1673.4,598.3 1674.1,595.4 1674.8,597.4 1675.5,597.7 1676.2,595.3 1676.9,594.9 1677.6,595.6 1678.3,595.6 1679.0,590.7 1679.7,594.1 1680.4,590.2 1681.1,587.8 1681.8,589.4 1682.5,594.6 1683.2,584.3 1683.9,586.9 1684.6,580.6 1685.3,585.6 1686.0,580.4 1686.7,581.8 1687.4,577.1 1688.1,571.0 1688.8,576.0 1689.5,569.4 1690.2,570.1 1690.9,571.5 1691.6,568.6 1692.3,572.5 1693.0,571.2 1693.7,568.8 1694.4,567.1 1695.1,564.1 1695.8,564.6 1696.0,567.6 1696.5,562.1 1697.2,561.4 1697.9,562.3 1698.6,563.3 1699.3,564.6 1700.0,570.9 1700.7,574.1 1701.4,569.5 1702.1,577.2 1702.8,573.0 1703.5,573.6 1704.2,583.0 1704.9,579.3 1705.6,583.3 1706.3,579.8 1707.0,579.1 1707.7,583.4 1708.4,585.5 1709.1,583.3 1709.8,582.4 1710.5,586.0 1711.2,587.3 1711.9,585.0 1712.6,587.3 1713.3,583.2 1714.0,585.0 1714.7,589.0 1715.4,584.8 1716.1,588.9 1716.8,587.7 1717.5,586.8 1718.2,592.2 1718.9,588.9 1719.6,594.0 1720.3,591.1 1721.0,592.4 1721.7,583.7 1722.4,580.9 1723.1,583.1 1723.8,579.3 1724.5,578.4 1725.2,584.2 1725.9,578.5 1726.6,577.5 1727.3,583.5 1728.0,577.3 1728.7,581.1 1729.4,585.7 1730.1,581.3 1730.8,577.8 1731.5,577.1 1732.2,580.9 1732.9,585.3 1733.6,586.9 1734.3,581.3 1735.0,584.7 1735.7,579.0 1736.4,585.9 1737.1,582.8 1737.8,589.1 1738.5,591.3 1739.2,584.6 1739.9,589.8 1740.6,585.3 1741.3,589.7 1742.0,585.7 1742.7,581.8 1743.4,579.3 1744.1,576.0 1744.8,579.0 1745.5,574.1 1746.2,573.5 1746.9,570.6 1747.6,568.2 1748.3,569.9 1749.0,573.4 1749.7,566.2 1750.4,562.6 1751.1,561.8 1751.8,555.6 1752.5,554.7 1753.2,551.8 1753.9,552.9 1754.6,543.8 1755.3,539.6 1756.0,537.7 1756.7,538.4 1757.0,538.7 1757.4,544.4 1758.1,545.7 1758.8,541.3 1759.5,550.1 1760.2,548.8 1760.9,555.6 1761.6,556.7 1762.3,558.9 1763.0,564.2 1763.7,567.2 1764.4,573.5 1765.1,568.7 1765.8,574.4 1766.5,577.0 1767.2,577.3 1767.9,578.4 1768.6,574.7 1769.3,577.0 1770.0,581.6 1770.7,579.2 1771.4,581.7 1772.1,582.3 1772.8,585.3 1773.5,586.8 1774.2,586.3 1774.9,588.6 1775.6,593.1 1776.3,593.1 1777.0,592.5 1777.7,591.8 1778.4,587.8 1779.1,589.7 1779.8,589.9 1780.5,589.1 1781.2,588.2 1781.9,585.3 1782.6,582.2 1783.3,586.3 1784.0,589.1 1784.7,585.4 1785.4,581.1 1786.1,581.2 1786.8,581.2 1787.5,579.6 1788.2,580.8 1788.9,581.9 1789.6,584.6 1790.3,583.9 1791.0,588.1 1791.7,591.8 1792.4,591.6 1793.1,585.9 1793.8,585.3 1794.5,585.7 1795.2,585.2 1795.9,588.4 1796.6,587.6 1797.3,583.0 1798.0,579.0 1798.7,581.5 1799.4,580.9 1800.1,580.9 1800.8,586.6 1801.5,583.2 1802.2,584.6 1802.9,586.1 1803.6,579.3 1804.3,582.5 1805.0,585.5 1805.7,582.9 1806.4,583.9 1807.1,580.9 1807.8,583.2 1808.5,584.4 1809.2,582.9 1809.9,576.9 1810.6,580.5 1811.3,576.3 1812.0,575.1 1812.4,577.6 1812.7,576.4 1813.4,575.9 1814.1,572.7 1814.8,575.4 1815.5,578.7 1816.2,570.8 1816.9,573.8 1817.6,577.0 1818.3,574.0 1819.0,574.4 1819.7,577.0 1820.4,578.6 1821.1,576.0 1821.8,576.7 1822.5,576.7 1823.2,576.8 1823.9,573.6 1824.6,574.1 1825.3,580.8 1826.0,574.5 1826.7,577.2 1827.4,581.6 1828.1,578.9 1828.8,577.7 1829.5,588.2 1830.2,581.3 1830.9,586.8 1831.6,585.9 1832.3,584.8 1833.0,587.0 1833.7,577.9 1834.4,585.7 1835.1,582.7 1835.8,577.1 1836.5,576.8 1837.2,584.7 1837.9,579.8 1838.6,578.5 1839.3,583.6 1840.0,584.6 1840.7,579.5 1841.4,586.2 1842.1,584.5 1842.8,578.6 1843.5,577.2 1844.2,579.1 1844.9,578.5 1845.6,580.3 1846.3,582.1 1847.0,581.2 1847.7,577.9 1848.4,577.8 1849.1,578.3 1849.8,573.7 1850.5,572.8 1851.2,577.3 1851.9,573.8 1852.6,573.1 1853.3,566.4 1854.0,566.9 1854.7,567.0 1855.4,565.6 1856.1,558.3 1856.8,560.3 1857.5,557.3 1858.2,560.7 1858.9,554.0 1859.6,557.7 1860.3,559.7 1861.0,560.5 1861.4,559.6 1861.7,555.1 1862.4,560.0 1863.1,558.0 1863.8,562.4 1864.5,561.9 1865.2,560.4 1865.9,562.7 1866.6,567.1 1867.3,567.8 1868.0,568.0 1868.7,567.5 1869.4,567.2 1870.1,571.1 1870.8,574.2 1871.5,569.2 1872.2,569.9 1872.9,571.5 1873.6,569.2 1874.3,571.2 1875.0,576.0 1875.7,575.2 1876.4,575.7 1877.1,575.1 1877.8,579.0 1878.5,573.9 1879.2,574.2 1879.9,578.1 1880.6,575.3 1881.3,572.0 1882.0,575.4 1882.7,575.9 1883.4,570.7 1884.1,572.5 1884.8,573.7 1885.5,578.1 1886.2,581.0 1886.9,577.3 1887.6,572.4 1888.3,576.6 1889.0,575.6 1889.7,574.0 1890.4,579.3 1891.1,575.5 1891.8,575.3 1892.5,571.2 1893.2,570.2 1893.9,576.2 1894.6,567.9 1895.3,567.9 1896.0,568.1 1896.7,566.7 1897.4,570.5 1898.1,569.1 1898.8,568.5 1899.5,568.8 1900.2,572.0 1900.9,567.1 1901.0,571.5 1901.6,567.5 1902.3,569.6 1903.0,565.9 1903.7,568.2 1904.4,567.1 1905.1,562.5 1905.8,565.3 1906.5,567.7 1907.2,574.4 1907.9,575.3 1908.6,574.9 1909.3,578.8 1910.0,574.8 1910.7,577.1 1911.4,578.2 1912.1,577.1 1912.8,579.4 1913.5,578.6 1914.2,578.6 1914.9,579.0 1915.6,582.2 1916.3,575.1 1917.0,584.3 1917.7,581.2 1918.4,578.2 1919.1,579.8 1919.8,585.1 1920.5,581.0 1921.2,580.8 1921.9,581.7 1922.6,584.0 1923.3,583.4 1924.0,581.3 1924.7,576.6 1925.4,578.8 1926.1,580.5 1926.8,575.4 1927.5,575.9 1928.2,583.4 1928.9,584.1 1929.6,586.3 1930.3,586.6 1931.0,583.0 1931.7,584.1 1932.4,589.4 1933.1,588.2 1933.8,592.7 1934.5,592.2 1935.2,590.4 1935.9,586.9 1936.6,592.1 1937.3,585.2 1938.0,585.5 1938.7,586.7 1939.4,580.6 1940.1,581.0 1940.8,581.2 1941.5,583.0 1942.2,586.3 1942.9,581.6 1943.6,587.2 1944.3,581.7 1945.0,590.3 1945.7,587.2 1946.4,585.7 1947.1,582.5 1947.8,587.3 1948.5,582.2 1949.2,588.4 1949.9,584.4 1950.6,584.9 1951.3,582.9 1952.0,584.7 1952.7,582.1 1953.4,582.0 1954.1,582.4 1954.8,582.4 1955.5,589.1 1956.2,587.8 1956.9,584.7 1957.6,589.7 1958.3,591.2 1959.0,589.0 1959.7,587.0 1960.4,587.6 1961.1,582.7 1961.8,583.5 1962.5,581.9 1963.2,578.7 1963.9,584.8 1964.6,578.6 1965.3,573.3 1966.0,574.2 1966.7,573.8 1967.4,568.9 1968.1,568.4 1968.8,569.3 1969.5,564.4 1970.2,569.5 1970.9,560.9 1971.6,561.7 1972.3,558.2 1973.0,562.0 1973.7,560.4 1974.4,554.3 1975.1,551.4 1975.8,551.4 1976.5,551.5 1976.8,552.5 1977.2,550.0 1977.9,554.8 1978.6,552.7 1979.3,557.6 1980.0,560.8 1980.7,555.8 1981.4,557.6 1982.1,561.9 1982.8,565.3 1983.5,562.3 1984.2,564.6 1984.9,565.9 1985.6,574.7 1986.3,570.6 1987.0,571.4 1987.7,580.0 1988.4,573.6 1989.1,579.8 1989.8,574.8 1990.5,582.6 1991.2,585.7 1991.9,584.6 1992.6,585.6 1993.3,580.7 1994.0,588.9 1994.7,590.2 1995.4,588.7 1996.1,583.8 1996.8,588.4 1997.5,587.4 1998.2,586.5 1998.9,584.2 1999.6,583.6 2000.3,582.9 2001.0,589.8 2001.7,582.0 2002.4,586.2 2003.1,587.2 2003.8,591.2 2004.5,585.4 2005.2,586.8 2005.9,588.3 2006.6,585.6 2007.3,580.5 2008.0,584.1 2008.7,584.0 2009.4,583.5 2010.1,578.0 2010.8,579.8 2011.5,577.1 2012.2,578.5 2012.9,579.6 2013.6,576.3 2014.3,579.3 2015.0,577.8 2015.7,584.4 2016.4,576.0 2017.1,574.8 2017.8,577.9 2018.5,579.9 2019.2,572.8 2019.9,578.3 2020.6,576.0 2021.3,571.0 2022.0,573.3 2022.7,572.9 2023.4,569.6 2024.0,573.5 2024.1,568.3 2024.8,576.5 2025.5,570.5 2026.2,577.2 2026.9,574.8 2027.6,581.8 2028.3,581.1 2029.0,579.8 2029.7,576.4 2030.4,577.8 2031.1,576.0 2031.8,581.8 2032.5,576.1 2033.2,575.1 2033.9,576.7 2034.6,579.3 2035.3,575.7 2036.0,576.9 2036.7,582.2 2037.4,581.7 2038.1,578.4 2038.8,578.7 2039.5,582.2 2040.2,584.0 2040.9,584.2 2041.6,579.3 2042.3,586.8 2043.0,582.8 2043.7,585.7 2044.4,585.7 2045.1,582.5 2045.8,587.5 2046.5,585.7 2047.2,586.0 2047.9,582.8 2048.6,586.0 2049.3,585.4 2050.0,584.9 2050.7,577.5 2051.4,584.6 2052.1,580.5 2052.8,584.2 2053.5,587.2 2054.2,587.3 2054.9,584.1 2055.6,591.5 2056.3,592.6 2057.0,593.9 2057.7,588.9 2058.4,586.9 2059.1,586.4 2059.8,587.3 2060.5,586.2 2061.2,588.6 2061.9,590.7 2062.6,589.3 2063.3,591.5 2064.0,590.6 2064.7,590.3 2065.4,589.3 2066.1,583.5 2066.8,580.9 2067.5,585.4 2068.2,585.1 2068.9,584.4 2069.6,583.2 2070.3,581.3 2071.0,583.3 2071.7,587.4 2072.4,586.9 2073.1,583.4 2073.8,586.1 2074.5,588.8 2075.2,590.4 2075.9,584.1 2076.6,585.3 2077.3,585.1 2078.0,590.1 2078.7,590.8 2079.4,584.6 2080.1,590.9 2080.8,592.1 2081.5,583.5 2082.2,587.8 2082.9,583.7 2083.6,585.7 2084.3,581.9 2085.0,586.4 2085.7,587.6 2086.4,585.4 2087.1,585.8 2087.8,582.1 2088.5,588.6 2089.2,586.5 2089.9,591.1 2090.6,583.0 2091.3,588.2 2092.0,585.6 2092.7,587.2 2093.4,586.0 2094.1,584.5 2094.8,581.6 2095.5,588.8 2096.2,584.0 2096.9,588.1 2097.6,589.0 2098.3,582.0 2099.0,586.3 2099.7,586.3 2100.4,582.5 2101.1,587.7 2101.8,584.8 2102.5,582.7 2103.2,585.2 2103.9,580.8 2104.6,579.4 2105.3,581.9 2106.0,583.7 2106.7,583.1 2107.4,587.7 2108.1,579.4 2108.8,583.8 2109.5,579.3 2110.2,584.4 2110.9,579.2 2111.6,584.5 2112.3,586.8 2113.0,584.6 2113.7,584.8 2114.4,581.3 2115.1,581.9 2115.8,586.4 2116.5,580.3 2117.2,583.1 2117.9,585.5 2118.6,584.2 2119.3,580.5 2120.0,580.0 2120.7,583.8 2121.4,580.5 2122.1,577.0 2122.8,577.3 2123.5,581.4 2124.2,579.6 2124.9,581.6 2125.6,577.3 2126.3,580.1 2127.0,580.7 2127.7,579.8 2128.4,579.7 2129.1,578.8"/>
<polyline fill="none" stroke="#ff0000" stroke-width="7.8" stroke-linejoin="round" stroke-linecap="butt" points="243.3,1096.5 244.0,1097.8 244.7,1104.2 245.4,1099.6 246.1,1093.7 246.8,1097.3 247.5,1097.1 248.2,1094.4 248.9,1101.3 249.6,1096.7 250.3,1099.2 251.0,1099.4 251.7,1097.1 252.4,1099.8 253.1,1102.1 253.8,1103.8 254.5,1095.6 255.2,1097.6 255.9,1095.1 256.6,1092.4 257.3,1091.2 258.0,1102.0 258.7,1096.0 259.4,1095.6 260.1,1100.9 260.8,1098.9 261.5,1099.2 262.2,1104.7 262.9,1096.9 263.6,1104.8 264.3,1100.9 265.0,1096.0 265.7,1102.0 266.4,1105.2 267.1,1095.3 267.8,1097.5 268.5,1093.2 269.2,1098.4 269.9,1095.0 270.6,1089.2 271.3,1096.4 272.0,1092.3 272.7,1093.7 273.4,1097.0 274.1,1095.1 274.8,1097.6 275.5,1098.7 276.2,1090.8 276.9,1100.5 277.6,1093.4 278.3,1096.2 279.0,1091.5 279.7,1097.1 280.4,1090.6 281.1,1098.2 281.8,1092.1 282.5,1096.3 283.2,1094.8 283.9,1098.1 284.6,1094.0 285.3,1094.9 286.0,1102.4 286.7,1103.2 287.4,1100.7 288.1,1103.7 288.8,1096.6 289.5,1103.2 290.2,1097.9 290.9,1107.6 291.6,1101.3 292.3,1097.7 293.0,1101.4 293.7,1097.6 294.4,1099.0 295.1,1090.1 295.8,1092.9 296.5,1089.3 297.2,1089.9 297.9,1089.2 298.6,1095.8 299.3,1088.9 300.0,1093.9 300.7,1096.1 301.4,1100.1 302.1,1101.1 302.8,1098.8 303.5,1094.9 304.2,1099.7 304.9,1100.7 305.6,1090.7 306.3,1097.6 307.0,1091.8 307.7,1095.0 308.4,1096.8 309.1,1098.8 309.8,1096.0 310.5,1096.2 311.2,1093.7 311.9,1099.0 312.6,1095.0 313.3,1100.7 314.0,1100.2 314.7,1099.9 315.4,1093.1 316.1,1088.3 316.8,1095.1 317.5,1090.0 318.2,1095.3 318.9,1089.6 319.6,1088.1 320.3,1095.9 321.0,1092.4 321.7,1091.4 322.4,1092.7 323.1,1092.0 323.8,1088.7 324.5,1092.7 325.2,1099.1 325.9,1096.4 326.6,1097.3 327.3,1100.2 328.0,1099.1 328.7,1097.1 329.4,1097.0 330.1,1097.8 330.8,1092.6 331.5,1092.7 332.2,1092.0 332.9,1088.8 333.6,1091.4 334.3,1087.6 335.0,1089.8 335.7,1090.6 336.4,1086.3 337.1,1088.5 337.8,1087.3 338.5,1088.4 339.2,1085.3 339.9,1086.2 340.6,1091.4 341.3,1093.1 342.0,1096.3 342.7,1089.5 343.4,1088.6 344.1,1096.2 344.8,1091.8 345.5,1087.6 346.2,1088.7 346.9,1088.4 347.6,1084.8 348.3,1087.8 349.0,1093.8 349.7,1085.0 350.4,1088.0 351.1,1088.1 351.8,1090.7 352.5,1090.7 353.2,1082.2 353.9,1086.6 354.6,1090.6 355.3,1081.6 356.0,1089.6 356.7,1085.7 357.4,1091.6 358.1,1095.2 358.8,1091.1 359.5,1085.4 360.2,1087.0 360.9,1090.1 361.6,1094.5 362.3,1087.1 363.0,1092.6 363.7,1090.2 364.4,1086.6 365.1,1091.5 365.8,1085.5 366.5,1084.4 367.2,1087.6 367.9,1085.3 368.6,1088.1 369.3,1084.3 370.0,1080.5 370.7,1083.6 371.4,1087.1 372.1,1084.9 372.8,1090.4 373.5,1081.6 374.2,1085.4 374.9,1088.9 375.6,1086.0 376.3,1085.9 377.0,1089.2 377.7,1095.5 378.4,1097.4 379.1,1099.6 379.8,1098.6 380.5,1096.5 381.2,1092.6 381.9,1099.4 382.6,1098.6 383.3,1099.0 384.0,1094.6 384.7,1087.8 385.4,1092.7 386.1,1093.3 386.8,1089.5 387.5,1087.3 388.2,1082.8 388.9,1083.2 389.6,1086.9 390.3,1080.4 391.0,1088.6 391.7,1087.2 392.4,1089.3 393.1,1081.4 393.8,1082.0 394.5,1093.0 395.2,1088.1 395.9,1087.6 396.6,1089.0 397.3,1093.3 398.0,1088.6 398.7,1092.9 399.4,1093.8 400.1,1094.1 400.8,1083.0 401.5,1088.3 402.2,1084.0 402.9,1083.9 403.6,1085.3 404.3,1082.2 405.0,1086.0 405.7,1079.5 406.4,1082.6 407.1,1081.4 407.8,1088.6 408.5,1091.6 409.2,1090.4 409.9,1081.2 410.6,1086.9 411.3,1090.2 412.0,1081.6 412.7,1085.4 413.4,1087.5 414.1,1086.0 414.8,1081.7 415.5,1083.3 416.2,1085.3 416.9,1080.7 417.6,1084.1 418.3,1085.5 419.0,1087.2 419.7,1085.7 420.4,1084.1 421.1,1085.4 421.8,1092.1 422.5,1084.4 423.2,1084.4 423.9,1083.3 424.6,1091.5 425.3,1089.6 426.0,1080.1 426.7,1081.1 427.4,1082.1 428.1,1086.1 428.8,1083.7 429.5,1086.9 430.2,1080.4 430.9,1087.8 431.6,1083.4 432.3,1088.5 433.0,1086.9 433.7,1087.3 434.4,1082.7 435.1,1084.7 435.8,1085.8 436.5,1080.3 437.2,1079.8 437.9,1082.1 438.6,1084.9 439.3,1078.9 440.0,1085.3 440.7,1079.3 441.4,1077.4 442.1,1078.4 442.8,1085.4 443.5,1087.8 444.2,1084.3 444.9,1079.3 445.6,1079.2 446.3,1084.9 447.0,1086.6 447.7,1076.5 448.4,1077.1 449.1,1083.7 449.8,1080.7 450.5,1082.0 451.2,1085.7 451.9,1084.0 452.6,1084.4 453.3,1082.3 454.0,1080.0 454.7,1078.7 455.4,1086.2 456.1,1075.8 456.8,1084.0 457.5,1083.8 458.2,1078.3 458.9,1076.9 459.6,1079.2 460.3,1079.0 461.0,1079.9 461.7,1078.9 462.4,1083.2 463.1,1074.9 463.8,1086.2 464.5,1077.6 465.2,1086.9 465.9,1082.1 466.6,1086.5 467.3,1079.6 468.0,1087.1 468.7,1091.0 469.4,1089.2 470.1,1089.9 470.8,1080.7 471.5,1082.5 472.2,1083.9 472.9,1075.8 473.6,1083.8 474.3,1077.7 475.0,1074.7 475.7,1073.6 476.4,1080.8 477.1,1075.9 477.8,1076.4 478.5,1075.9 479.2,1077.7 479.9,1082.8 480.6,1081.0 481.3,1083.9 482.0,1081.9 482.7,1074.9 483.4,1073.3 484.1,1072.8 484.8,1071.9 485.5,1074.2 486.2,1075.9 486.9,1070.2 487.6,1069.4 488.3,1075.9 489.0,1078.6 489.7,1069.9 490.4,1068.3 491.1,1077.5 491.8,1074.6 492.5,1072.1 493.2,1073.8 493.9,1076.2 494.6,1066.1 495.3,1072.2 496.0,1070.4 496.7,1064.6 497.4,1063.6 498.1,1058.8 498.8,1062.8 499.5,1059.0 500.2,1060.5 500.9,1063.3 501.6,1060.2 502.3,1064.7 503.0,1056.4 503.7,1063.7 504.4,1056.3 505.1,1055.0 505.8,1057.5 506.5,1050.9 507.2,1048.4 507.9,1046.5 508.6,1052.3 509.3,1043.3 510.0,1043.8 510.7,1053.3 511.4,1052.3 512.1,1048.4 512.3,1049.6 512.8,1056.6 513.5,1056.1 514.2,1055.3 514.9,1053.3 515.6,1051.6 516.3,1058.7 517.0,1052.0 517.7,1048.2 518.4,1048.2 519.1,1056.0 519.8,1057.9 520.5,1057.1 521.2,1059.9 521.9,1056.9 522.6,1057.9 523.3,1059.4 524.0,1061.9 524.7,1061.5 525.4,1067.0 526.1,1061.3 526.8,1062.2 527.5,1068.3 528.2,1066.5 528.9,1064.5 529.6,1072.3 530.3,1073.9 531.0,1066.5 531.7,1065.9 532.4,1066.0 533.1,1070.4 533.8,1070.7 534.5,1073.9 535.2,1074.5 535.9,1074.0 536.6,1066.9 537.3,1070.6 538.0,1063.4 538.7,1065.6 539.4,1066.1 540.1,1066.8 540.8,1074.5 541.5,1072.4 542.2,1076.0 542.9,1074.4 543.6,1070.7 544.3,1067.5 545.0,1069.4 545.7,1076.3 546.4,1071.2 547.1,1071.5 547.8,1069.5 548.5,1071.8 549.2,1071.5 549.9,1068.0 550.6,1069.1 551.3,1066.6 552.0,1068.3 552.7,1071.5 553.4,1072.1 554.1,1075.7 554.8,1077.0 555.5,1066.1 556.2,1071.0 556.9,1069.7 557.6,1072.1 558.3,1076.1 559.0,1073.0 559.7,1071.7 560.4,1063.7 561.1,1073.0 561.8,1072.2 562.5,1068.4 563.2,1070.8 563.9,1064.5 564.6,1067.0 565.3,1071.6 566.0,1064.0 566.7,1066.5 567.4,1068.9 568.1,1070.3 568.8,1067.9 569.5,1062.2 570.2,1064.9 570.9,1068.2 571.6,1064.0 572.3,1063.0 573.0,1062.0 573.7,1066.0 574.4,1073.8 575.1,1065.4 575.8,1071.2 576.5,1072.9 577.2,1070.9 577.9,1067.5 578.6,1070.2 579.3,1064.8 580.0,1066.2 580.7,1064.0 581.4,1069.0 582.1,1068.7 582.8,1068.7 583.5,1064.5 584.2,1068.2 584.9,1070.6 585.6,1063.2 586.3,1067.2 587.0,1064.1 587.7,1063.9 588.4,1069.5 589.1,1062.1 589.8,1068.4 590.5,1064.1 591.2,1068.1 591.9,1067.5 592.6,1067.6 593.3,1059.7 594.0,1060.5 594.7,1061.6 595.4,1065.5 596.1,1065.4 596.8,1060.1 597.5,1064.1 598.2,1064.2 598.9,1065.5 599.6,1071.1 600.3,1073.0 601.0,1074.0 601.7,1064.6 602.4,1067.6 603.1,1071.4 603.8,1068.9 604.5,1066.9 605.2,1071.6 605.9,1071.8 606.6,1062.6 607.3,1065.9 608.0,1062.0 608.7,1063.2 609.4,1066.4 610.1,1061.0 610.8,1065.5 611.5,1063.1 612.2,1060.8 612.9,1065.1 613.6,1059.3 614.3,1054.6 615.0,1065.0 615.7,1057.6 616.4,1059.9 617.1,1063.8 617.8,1057.0 618.5,1065.6 619.2,1058.4 619.9,1057.8 620.6,1067.7 621.3,1062.3 622.0,1064.8 622.7,1061.8 623.4,1059.8 624.1,1050.7 624.8,1056.9 625.5,1050.9 626.2,1049.8 626.9,1058.6 627.6,1053.8 628.3,1059.3 629.0,1057.2 629.7,1061.0 630.4,1060.8 631.1,1064.2 631.8,1057.7 632.5,1062.6 633.2,1060.6 633.9,1057.9 634.6,1057.9 635.3,1059.4 636.0,1060.0 636.7,1053.9 637.4,1056.8 638.1,1058.5 638.8,1054.4 639.5,1054.6 640.2,1052.9 640.9,1059.9 641.6,1059.4 642.3,1058.5 643.0,1056.3 643.7,1050.2 644.4,1043.1 645.1,1056.2 645.8,1054.1 646.5,1059.4 647.2,1053.3 647.9,1059.8 648.6,1055.5 649.3,1063.9 650.0,1063.2 650.7,1060.3 651.4,1060.6 652.1,1056.3 652.8,1057.4 653.5,1051.5 654.2,1054.6 654.9,1054.7 655.6,1051.8 656.3,1054.9 657.0,1050.8 657.7,1048.6 658.4,1051.5 659.1,1059.2 659.8,1059.6 660.5,1056.6 661.2,1055.4 661.9,1057.1 662.6,1059.9 663.3,1060.3 664.0,1064.1 664.7,1061.6 665.4,1064.7 666.1,1063.0 666.8,1063.8 667.5,1058.9 668.2,1061.4 668.9,1056.6 669.6,1062.1 670.3,1055.3 671.0,1060.3 671.7,1057.5 672.4,1059.7 673.1,1053.7 673.8,1050.3 674.5,1053.9 675.2,1054.1 675.9,1054.7 676.6,1050.6 677.3,1054.7 678.0,1052.1 678.7,1050.7 679.4,1055.9 680.1,1058.8 680.8,1055.7 681.5,1061.3 682.2,1063.0 682.9,1056.3 683.6,1058.3 684.3,1060.5 685.0,1064.0 685.7,1061.7 686.4,1062.3 687.1,1055.3 687.8,1055.8 688.5,1054.0 689.2,1057.3 689.9,1054.8 690.6,1050.1 691.3,1056.3 692.0,1049.2 692.7,1048.2 693.4,1054.0 694.1,1058.9 694.8,1061.1 695.5,1056.4 696.2,1052.4 696.9,1056.9 697.6,1048.7 698.3,1055.9 699.0,1048.8 699.7,1044.5 700.4,1045.5 701.1,1055.2 701.8,1056.7 702.5,1049.4 703.2,1057.5 703.9,1056.4 704.6,1052.2 705.3,1050.7 706.0,1051.7 706.7,1054.0 707.4,1049.7 708.1,1051.3 708.8,1052.2 709.5,1060.5 710.2,1052.8 710.9,1062.4 711.6,1057.9 712.3,1060.3 713.0,1056.6 713.7,1062.8 714.4,1055.4 715.1,1059.0 715.8,1058.0 716.5,1055.1 717.2,1051.7 717.9,1051.1 718.6,1049.3 719.3,1055.4 720.0,1059.6 720.7,1061.0 721.4,1056.7 722.1,1062.6 722.8,1065.6 723.5,1058.2 724.2,1056.2 724.9,1065.2 725.6,1065.6 726.3,1062.1 727.0,1064.0 727.7,1057.9 728.4,1059.2 729.1,1053.8 729.8,1057.1 730.5,1063.3 731.2,1054.4 731.9,1054.6 732.6,1052.9 733.3,1058.4 734.0,1058.5 734.7,1057.8 735.4,1060.7 736.1,1058.8 736.8,1058.2 737.5,1057.8 738.2,1056.1 738.9,1052.8 739.6,1052.8 740.3,1062.3 741.0,1056.7 741.7,1057.9 742.4,1060.3 743.1,1059.6 743.8,1056.6 744.5,1057.6 745.2,1055.1 745.9,1062.8 746.6,1062.2 747.3,1056.7 748.0,1058.8 748.7,1056.7 749.4,1061.4 750.1,1058.5 750.8,1063.5 751.5,1056.2 752.2,1058.6 752.9,1055.5 753.6,1060.2 754.3,1056.6 755.0,1059.5 755.7,1055.6 756.4,1049.0 757.1,1053.8 757.8,1057.7 758.5,1051.9 759.2,1057.5 759.9,1048.6 760.6,1055.3 761.3,1052.4 762.0,1059.1 762.7,1049.8 763.4,1050.2 764.1,1056.6 764.8,1054.7 765.5,1054.5 766.2,1054.4 766.9,1051.1 767.6,1053.9 768.3,1059.4 769.0,1058.3 769.7,1057.0 770.4,1060.1 771.1,1060.1 771.8,1061.7 772.5,1051.9 773.2,1052.8 773.9,1062.1 774.6,1056.5 775.3,1059.9 776.0,1057.1 776.7,1059.0 777.4,1051.2 778.1,1059.3 778.8,1060.5 779.5,1055.3 780.2,1059.6 780.9,1050.6 781.6,1060.2 782.3,1054.3 783.0,1058.9 783.7,1060.3 784.4,1051.5 785.1,1062.5 785.8,1056.1 786.5,1059.1 787.2,1064.8 787.9,1059.5 788.6,1061.4 789.3,1055.4 790.0,1060.1 790.7,1061.8 791.4,1062.6 792.1,1056.1 792.8,1055.8 793.5,1060.2 794.2,1060.7 794.9,1064.7 795.6,1060.3 796.3,1058.4 797.0,1058.6 797.7,1062.6 798.4,1060.0 799.1,1053.2 799.8,1052.9 800.5,1053.6 801.2,1056.2 801.9,1054.8 802.6,1052.1 803.3,1055.0 804.0,1056.8 804.7,1055.3 805.4,1061.5 806.1,1054.9 806.8,1054.6 807.5,1062.4 808.2,1059.1 808.9,1061.7 809.6,1061.9 810.3,1058.1 811.0,1063.3 811.7,1061.7 812.4,1059.5 813.1,1057.1 813.8,1062.0 814.5,1058.5 815.2,1057.9 815.9,1061.0 816.6,1062.7 817.3,1054.5 818.0,1059.6 818.7,1055.6 819.4,1058.6 820.1,1058.3 820.8,1059.1 821.5,1060.7 822.2,1058.8 822.9,1051.6 823.6,1053.9 824.3,1058.8 825.0,1053.3 825.7,1060.2 826.4,1058.9 827.1,1058.6 827.8,1059.0 828.5,1063.9 829.2,1055.0 829.9,1057.3 830.6,1056.6 831.3,1059.1 832.0,1055.8 832.7,1066.2 833.4,1056.9 834.1,1059.4 834.8,1063.4 835.5,1059.7 836.2,1058.6 836.9,1057.3 837.6,1058.2 838.3,1056.6 839.0,1057.0 839.7,1056.1 840.4,1053.0 841.1,1060.7 841.8,1059.9 842.5,1054.3 843.2,1049.6 843.9,1056.7 844.6,1050.2 845.3,1049.6 846.0,1048.9 846.7,1055.1 847.4,1052.8 848.1,1048.7 848.8,1049.7 849.5,1051.1 850.2,1052.4 850.9,1056.2 851.6,1060.1 852.3,1050.3 853.0,1058.2 853.7,1058.2 854.4,1052.4 855.1,1059.5 855.8,1057.7 856.5,1056.3 857.2,1049.5 857.9,1053.4 858.6,1054.5 859.3,1054.9 860.0,1050.3 860.7,1053.9 861.4,1048.5 862.1,1044.5 862.8,1043.1 863.5,1037.0 864.2,1038.2 864.9,1036.7 865.6,1045.5 866.3,1035.4 867.0,1036.0 867.7,1034.0 868.4,1034.5 869.1,1033.4 869.8,1038.6 870.5,1028.1 871.2,1032.9 871.9,1025.8 872.6,1028.8 873.3,1020.1 874.0,1013.9 874.7,1016.4 875.4,1005.6 876.1,1006.8 876.8,1006.2 877.5,997.4 878.2,995.1 878.9,994.0 879.6,993.4 880.3,989.8 881.0,983.6 881.7,983.4 882.4,987.8 883.1,978.6 883.8,984.8 884.5,983.5 885.0,976.7 885.2,982.0 885.9,984.6 886.6,985.5 887.3,980.8 888.0,979.8 888.7,983.3 889.4,985.5 890.1,990.7 890.8,995.7 891.5,996.0 892.2,1002.4 892.9,1001.2 893.6,1003.1 894.3,1004.0 895.0,1014.9 895.7,1015.3 896.4,1019.5 897.1,1022.5 897.8,1018.0 898.5,1026.0 899.2,1027.6 899.9,1032.8 900.6,1026.8 901.3,1033.8 902.0,1033.3 902.7,1032.9 903.4,1031.9 904.1,1037.8 904.8,1030.8 905.5,1035.6 906.2,1033.7 906.9,1038.5 907.6,1040.9 908.3,1045.3 909.0,1046.9 909.7,1047.4 910.4,1046.5 911.1,1051.0 911.8,1049.1 912.5,1046.9 913.2,1047.6 913.9,1049.4 914.6,1043.9 915.3,1050.0 916.0,1047.3 916.7,1044.9 917.4,1044.2 918.1,1047.1 918.8,1043.6 919.5,1051.4 920.2,1046.6 920.9,1051.1 921.6,1052.3 922.3,1050.2 923.0,1048.4 923.7,1050.6 924.4,1050.0 925.1,1047.0 925.8,1045.3 926.5,1048.4 927.2,1041.1 927.9,1041.5 928.6,1045.1 929.3,1044.7 930.0,1051.0 930.7,1046.8 931.4,1053.4 932.1,1050.0 932.8,1046.8 933.5,1053.9 934.2,1053.9 934.9,1044.9 935.6,1049.1 936.3,1048.9 937.0,1044.9 937.7,1044.8 938.4,1047.1 939.1,1042.1 939.8,1046.3 940.5,1045.5 941.2,1046.9 941.9,1042.5 942.6,1048.7 943.3,1044.6 944.0,1048.9 944.7,1048.2 945.4,1043.0 946.1,1046.1 946.8,1044.4 947.5,1050.1 948.2,1048.4 948.9,1044.8 949.6,1050.6 950.3,1046.4 951.0,1054.9 951.7,1050.8 952.4,1056.5 953.1,1045.9 953.8,1047.3 954.5,1049.1 955.2,1052.9 955.9,1049.6 956.6,1050.0 957.3,1049.5 958.0,1053.2 958.7,1047.8 959.4,1053.9 960.1,1050.0 960.8,1053.9 961.5,1057.4 962.2,1053.2 962.9,1049.0 963.6,1050.0 964.3,1049.7 965.0,1047.7 965.7,1051.4 966.4,1053.4 967.1,1048.8 967.8,1053.4 968.5,1053.0 969.2,1050.7 969.9,1049.5 970.6,1043.3 971.3,1049.1 972.0,1041.7 972.7,1039.5 973.4,1042.5 974.1,1044.3 974.8,1049.8 975.5,1043.2 976.2,1046.7 976.9,1049.2 977.6,1050.7 978.3,1049.1 979.0,1048.6 979.7,1047.0 980.4,1053.7 981.1,1052.1 981.8,1049.7 982.5,1045.8 983.2,1041.2 983.9,1040.1 984.6,1038.8 985.3,1041.0 986.0,1044.0 986.7,1041.2 987.4,1047.3 988.1,1044.9 988.8,1051.7 989.5,1050.4 990.2,1054.1 990.9,1047.4 991.6,1048.7 992.3,1052.8 993.0,1044.6 993.7,1053.0 994.4,1049.0 995.1,1052.1 995.8,1042.8 996.5,1043.8 997.2,1045.0 997.9,1043.6 998.6,1042.7 999.3,1042.9 1000.0,1035.8 1000.7,1040.0 1001.4,1034.4 1002.1,1038.4 1002.8,1038.6 1003.5,1032.1 1004.2,1032.0 1004.9,1036.5 1005.6,1035.9 1006.3,1034.7 1007.0,1036.7 1007.7,1038.7 1008.4,1033.7 1009.1,1032.7 1009.8,1032.2 1010.5,1036.1 1011.2,1035.3 1011.9,1042.0 1012.6,1039.0 1013.3,1040.7 1014.0,1036.5 1014.7,1031.0 1015.4,1031.5 1016.1,1031.9 1016.8,1031.9 1017.5,1035.1 1018.2,1031.9 1018.9,1028.5 1019.6,1025.9 1020.3,1029.0 1021.0,1021.7 1021.7,1023.7 1022.4,1027.3 1023.1,1027.4 1023.8,1022.6 1024.5,1020.7 1025.2,1017.8 1025.9,1019.9 1026.6,1015.9 1027.3,1016.9 1028.0,1017.9 1028.7,1013.8 1029.4,1005.3 1030.1,1002.0 1030.8,1001.4 1031.5,998.7 1032.2,991.0 1032.9,988.4 1033.6,979.0 1034.3,973.1 1035.0,971.2 1035.7,964.3 1036.4,955.7 1037.1,951.5 1037.8,943.0 1038.5,936.5 1039.2,927.3 1039.9,918.9 1040.6,911.0 1041.3,899.4 1042.0,890.3 1042.7,880.1 1043.4,865.7 1044.1,855.2 1044.8,843.3 1045.5,832.4 1046.2,820.6 1046.9,810.3 1047.6,796.0 1048.3,784.7 1049.0,773.2 1049.7,763.2 1050.4,756.0 1051.1,744.7 1051.8,742.2 1052.5,734.4 1053.2,724.9 1053.9,727.8 1054.6,720.3 1055.0,722.3 1055.3,720.6 1056.0,720.7 1056.7,728.8 1057.4,736.4 1058.1,736.7 1058.8,744.6 1059.5,752.7 1060.2,762.6 1060.9,769.5 1061.6,782.6 1062.3,792.8 1063.0,803.8 1063.7,815.3 1064.4,824.3 1065.1,837.4 1065.8,847.4 1066.5,861.0 1067.2,873.5 1067.9,880.6 1068.6,890.6 1069.3,902.1 1070.0,913.4 1070.7,921.4 1071.4,931.9 1072.1,937.0 1072.8,946.2 1073.5,948.9 1074.2,958.2 1074.9,962.3 1075.6,971.1 1076.3,970.5 1077.0,976.4 1077.7,984.1 1078.4,986.0 1079.1,990.1 1079.8,992.9 1080.5,1000.8 1081.2,997.0 1081.9,1000.8 1082.6,1002.1 1083.3,1010.5 1084.0,1014.8 1084.7,1008.1 1085.4,1014.1 1086.1,1014.1 1086.8,1009.8 1087.5,1013.5 1088.2,1013.8 1088.9,1008.5 1089.6,1019.3 1090.3,1010.6 1091.0,1012.1 1091.7,1019.9 1092.4,1019.8 1093.1,1023.5 1093.8,1023.5 1094.5,1017.8 1095.2,1022.0 1095.9,1026.4 1096.6,1019.4 1097.3,1018.4 1098.0,1024.0 1098.7,1014.0 1099.4,1015.7 1099.5,1018.6 1100.1,1018.7 1100.8,1012.3 1101.5,1010.7 1102.2,1016.4 1102.9,1018.3 1103.6,1019.0 1104.3,1013.5 1105.0,1017.4 1105.7,1020.2 1106.4,1019.1 1107.1,1023.7 1107.8,1026.3 1108.5,1023.9 1109.2,1027.5 1109.9,1024.1 1110.6,1028.1 1111.3,1031.4 1112.0,1025.7 1112.7,1020.8 1113.4,1023.4 1114.1,1032.7 1114.8,1034.0 1115.5,1033.4 1116.2,1026.2 1116.9,1028.9 1117.6,1035.8 1118.3,1033.1 1119.0,1033.6 1119.7,1038.2 1120.4,1039.1 1121.1,1031.7 1121.8,1038.3 1122.5,1039.5 1123.2,1040.6 1123.9,1042.3 1124.6,1041.7 1125.3,1032.6 1126.0,1035.8 1126.7,1034.2 1127.4,1038.0 1128.1,1035.5 1128.8,1040.2 1129.5,1033.8 1130.2,1032.6 1130.9,1031.7 1131.6,1036.9 1132.3,1045.0 1133.0,1041.5 1133.7,1037.4 1134.4,1040.6 1135.1,1042.8 1135.8,1038.7 1136.5,1036.1 1137.2,1043.8 1137.9,1041.6 1138.6,1034.6 1139.3,1039.8 1140.0,1039.1 1140.7,1042.4 1141.4,1044.7 1142.1,1043.3 1142.8,1040.8 1143.5,1045.1 1144.2,1039.1 1144.9,1044.1 1145.6,1040.6 1146.3,1042.5 1147.0,1043.6 1147.7,1047.0 1148.4,1051.1 1149.1,1050.3 1149.8,1052.3 1150.5,1044.8 1151.2,1054.1 1151.9,1052.2 1152.6,1047.5 1153.3,1045.2 1154.0,1046.2 1154.7,1047.3 1155.4,1048.8 1156.1,1051.4 1156.8,1051.9 1157.5,1052.3 1158.2,1051.8 1158.9,1051.2 1159.6,1052.6 1160.3,1050.6 1161.0,1045.3 1161.7,1051.0 1162.4,1049.4 1163.1,1053.1 1163.8,1049.2 1164.5,1054.3 1165.2,1047.5 1165.9,1048.5 1166.6,1043.9 1167.3,1051.0 1168.0,1050.8 1168.7,1051.0 1169.4,1042.5 1170.1,1043.7 1170.8,1052.2 1171.5,1052.3 1172.2,1046.0 1172.9,1051.9 1173.6,1047.1 1174.3,1054.3 1175.0,1054.4 1175.7,1054.6 1176.4,1053.8 1177.1,1048.3 1177.8,1048.0 1178.5,1050.2 1179.2,1045.9 1179.9,1052.4 1180.6,1046.7 1181.3,1046.9 1182.0,1051.7 1182.7,1043.6 1183.4,1044.8 1184.1,1040.6 1184.8,1049.4 1185.5,1043.6 1186.2,1041.8 1186.9,1047.2 1187.6,1047.1 1188.3,1041.3 1189.0,1040.1 1189.7,1047.9 1190.4,1049.2 1191.1,1043.8 1191.8,1047.7 1192.5,1041.7 1193.2,1046.1 1193.9,1043.1 1194.6,1042.5 1195.3,1041.6 1196.0,1047.3 1196.7,1048.0 1197.4,1046.7 1198.1,1050.1 1198.8,1042.6 1199.5,1044.0 1200.2,1043.5 1200.9,1044.9 1201.6,1048.4 1202.3,1042.2 1203.0,1049.9 1203.7,1043.0 1204.4,1041.8 1205.1,1044.2 1205.8,1050.4 1206.5,1040.5 1207.2,1046.6 1207.9,1044.3 1208.6,1045.1 1209.3,1044.1 1210.0,1042.8 1210.7,1040.0 1211.4,1045.9 1212.1,1040.8 1212.8,1046.8 1213.5,1046.9 1214.2,1041.9 1214.9,1044.4 1215.6,1038.2 1216.3,1034.5 1217.0,1042.6 1217.7,1037.3 1218.4,1037.2 1219.1,1038.2 1219.8,1038.1 1220.5,1046.1 1221.2,1046.9 1221.9,1044.2 1222.6,1047.3 1223.3,1040.2 1224.0,1040.3 1224.7,1039.7 1225.4,1041.6 1226.1,1034.1 1226.8,1033.0 1227.5,1029.9 1228.2,1028.5 1228.9,1031.5 1229.6,1029.4 1230.3,1031.6 1231.0,1033.5 1231.7,1033.6 1232.4,1037.2 1233.1,1032.0 1233.8,1035.5 1234.5,1040.4 1235.2,1029.1 1235.9,1033.5 1236.6,1029.0 1237.3,1028.3 1238.0,1038.0 1238.7,1035.6 1239.4,1033.3 1240.1,1034.7 1240.8,1033.0 1241.5,1027.6 1242.2,1023.2 1242.9,1018.4 1243.6,1025.7 1244.3,1022.0 1245.0,1015.4 1245.7,1019.6 1246.4,1019.9 1247.1,1028.5 1247.8,1021.5 1248.5,1019.9 1249.2,1027.1 1249.9,1022.0 1250.6,1019.9 1251.3,1018.6 1252.0,1019.2 1252.7,1021.6 1253.4,1018.8 1254.1,1022.8 1254.8,1027.3 1255.5,1019.8 1256.2,1017.7 1256.9,1025.4 1257.6,1024.9 1258.3,1028.2 1259.0,1021.4 1259.7,1026.5 1260.4,1023.4 1261.1,1018.7 1261.8,1019.2 1262.5,1020.3 1263.2,1014.0 1263.9,1007.7 1264.6,1005.1 1265.3,1009.6 1266.0,1008.1 1266.7,1004.7 1267.4,1012.0 1268.1,1002.4 1268.8,1010.5 1269.5,1012.7 1270.2,1008.1 1270.9,1007.7 1271.6,1008.7 1272.3,1004.0 1273.0,1003.1 1273.7,998.1 1274.4,990.5 1275.1,993.9 1275.8,989.3 1276.5,982.7 1277.2,975.9 1277.9,976.4 1278.6,976.3 1279.3,971.8 1280.0,972.7 1280.7,967.7 1281.4,966.8 1282.1,966.2 1282.8,954.5 1283.5,956.4 1284.2,954.3 1284.9,944.5 1285.6,944.1 1286.3,942.2 1287.0,937.2 1287.7,931.3 1288.4,926.4 1289.1,919.9 1289.8,918.7 1290.5,919.7 1291.2,917.4 1291.9,913.8 1292.6,909.7 1293.3,905.6 1294.0,905.3 1294.7,904.2 1295.4,905.4 1295.4,903.8 1296.1,908.0 1296.8,913.8 1297.5,911.2 1298.2,917.5 1298.9,915.9 1299.6,920.2 1300.3,923.6 1301.0,919.7 1301.7,923.0 1302.4,924.1 1303.1,926.3 1303.8,934.5 1304.5,931.3 1305.2,939.9 1305.9,944.4 1306.6,943.7 1307.3,947.3 1308.0,946.8 1308.7,954.2 1309.4,957.4 1310.1,957.2 1310.8,963.8 1311.5,962.5 1312.2,968.4 1312.9,964.9 1313.6,975.5 1314.3,971.6 1315.0,976.7 1315.7,977.4 1316.4,976.5 1317.1,980.1 1317.8,985.7 1318.5,983.7 1319.2,977.8 1319.9,985.0 1320.6,991.9 1321.3,984.9 1322.0,984.3 1322.7,995.7 1323.4,994.3 1324.1,997.7 1324.8,993.4 1325.5,997.1 1326.2,991.9 1326.9,992.4 1327.6,996.8 1328.3,1000.3 1329.0,996.0 1329.7,990.8 1330.4,989.7 1331.1,998.2 1331.8,995.1 1332.0,994.1 1332.5,994.3 1333.2,1001.9 1333.9,997.6 1334.6,996.1 1335.3,998.7 1336.0,997.8 1336.7,1006.4 1337.4,1004.1 1338.1,1006.9 1338.8,1003.4 1339.5,1005.5 1340.2,1010.4 1340.9,1012.3 1341.6,1009.2 1342.3,1008.4 1343.0,1017.7 1343.7,1012.8 1344.4,1010.7 1345.1,1010.1 1345.8,1012.8 1346.5,1016.3 1347.2,1013.3 1347.9,1015.1 1348.6,1012.2 1349.3,1013.6 1350.0,1008.2 1350.7,1014.6 1351.4,1014.3 1352.1,1016.6 1352.8,1025.0 1353.5,1016.3 1354.2,1017.1 1354.9,1009.4 1355.6,1022.7 1356.3,1022.4 1357.0,1026.8 1357.7,1030.9 1358.4,1027.6 1359.1,1032.3 1359.8,1036.5 1360.5,1030.3 1361.2,1035.4 1361.9,1035.3 1362.6,1049.1 1363.3,1040.1 1364.0,1038.2 1364.7,1031.5 1365.4,1037.3 1366.1,1036.3 1366.8,1041.0 1367.5,1043.1 1368.2,1038.3 1368.9,1034.7 1369.6,1036.9 1370.3,1042.9 1371.0,1046.7 1371.7,1047.1 1372.4,1047.2 1373.1,1047.1 1373.8,1042.6 1374.5,1044.7 1375.2,1040.2 1375.9,1042.8 1376.6,1038.2 1377.3,1036.6 1378.0,1034.3 1378.7,1038.0 1379.4,1047.2 1380.1,1046.0 1380.8,1044.4 1381.5,1053.1 1382.2,1043.8 1382.9,1052.4 1383.6,1051.5 1384.3,1042.2 1385.0,1050.9 1385.7,1048.8 1386.4,1042.9 1387.1,1048.6 1387.8,1051.2 1388.5,1041.3 1389.2,1044.1 1389.9,1042.3 1390.6,1050.3 1391.3,1043.3 1392.0,1044.2 1392.7,1043.7 1393.4,1050.7 1394.1,1043.1 1394.8,1050.7 1395.5,1040.3 1396.2,1045.6 1396.9,1043.8 1397.6,1044.6 1398.3,1043.5 1399.0,1046.9 1399.7,1043.9 1400.4,1046.3 1401.1,1053.8 1401.8,1052.4 1402.5,1047.0 1403.2,1050.4 1403.9,1053.4 1404.6,1049.7 1405.3,1048.7 1406.0,1049.5 1406.7,1052.8 1407.4,1054.4 1408.1,1052.9 1408.8,1048.1 1409.5,1047.1 1410.2,1048.3 1410.9,1055.8 1411.6,1048.8 1412.3,1046.5 1413.0,1046.4 1413.7,1051.5 1414.4,1046.6 1415.1,1050.9 1415.8,1049.9 1416.5,1052.6 1417.2,1053.3 1417.9,1055.0 1418.6,1051.1 1419.3,1048.4 1420.0,1052.5 1420.7,1044.8 1421.4,1043.1 1422.1,1040.7 1422.8,1051.7 1423.5,1047.0 1424.2,1048.5 1424.9,1043.5 1425.6,1054.8 1426.3,1048.7 1427.0,1057.8 1427.7,1059.2 1428.4,1057.2 1429.1,1052.4 1429.8,1061.1 1430.5,1051.3 1431.2,1054.8 1431.9,1058.5 1432.6,1059.7 1433.3,1052.7 1434.0,1054.0 1434.7,1056.0 1435.4,1062.9 1436.1,1064.5 1436.8,1054.5 1437.5,1060.1 1438.2,1053.8 1438.9,1051.7 1439.6,1056.0 1440.3,1052.1 1441.0,1059.4 1441.7,1059.9 1442.4,1056.4 1443.1,1056.1 1443.8,1063.6 1444.5,1064.7 1445.2,1055.9 1445.9,1063.0 1446.6,1057.0 1447.3,1054.2 1448.0,1059.1 1448.7,1058.4 1449.4,1052.4 1450.1,1056.8 1450.8,1054.3 1451.5,1058.3 1452.2,1056.7 1452.9,1059.6 1453.6,1063.3 1454.3,1061.6 1455.0,1060.6 1455.7,1062.9 1456.4,1059.4 1457.1,1055.7 1457.8,1056.2 1458.5,1050.5 1459.2,1051.1 1459.9,1051.4 1460.6,1056.5 1461.3,1060.1 1462.0,1051.7 1462.7,1059.5 1463.4,1059.6 1464.1,1053.4 1464.8,1057.0 1465.5,1053.5 1466.2,1059.4 1466.9,1057.7 1467.6,1054.9 1468.3,1057.6 1469.0,1056.2 1469.7,1062.3 1470.4,1059.2 1471.1,1051.3 1471.8,1057.2 1472.5,1057.0 1473.2,1060.3 1473.9,1060.6 1474.6,1050.9 1475.3,1058.0 1476.0,1057.6 1476.7,1057.6 1477.4,1055.3 1478.1,1063.3 1478.8,1060.3 1479.5,1061.6 1480.2,1066.8 1480.9,1057.5 1481.6,1062.1 1482.3,1055.7 1483.0,1058.6 1483.7,1065.4 1484.4,1058.6 1485.1,1064.7 1485.8,1065.9 1486.5,1061.4 1487.2,1064.1 1487.9,1056.9 1488.6,1055.5 1489.3,1056.4 1490.0,1054.3 1490.7,1054.8 1491.4,1052.1 1492.1,1051.3 1492.8,1053.4 1493.5,1060.3 1494.2,1056.6 1494.9,1064.4 1495.6,1058.6 1496.3,1062.9 1497.0,1061.7 1497.7,1063.5 1498.4,1063.4 1499.1,1056.4 1499.8,1052.7 1500.5,1051.7 1501.2,1062.7 1501.9,1057.0 1502.6,1065.3 1503.3,1063.3 1504.0,1065.5 1504.7,1057.4 1505.4,1064.5 1506.1,1052.2 1506.8,1063.6 1507.5,1055.0 1508.2,1066.2 1508.9,1055.1 1509.6,1053.8 1510.3,1055.6 1511.0,1051.8 1511.7,1051.5 1512.4,1056.1 1513.1,1049.7 1513.8,1056.7 1514.5,1058.0 1515.2,1056.0 1515.9,1057.3 1516.6,1055.3 1517.3,1057.9 1518.0,1059.1 1518.7,1063.2 1519.4,1060.7 1520.1,1065.7 1520.8,1058.8 1521.5,1062.6 1522.2,1063.6 1522.9,1056.7 1523.6,1063.9 1524.3,1063.8 1525.0,1053.5 1525.7,1058.0 1526.4,1053.9 1527.1,1052.1 1527.8,1051.5 1528.5,1051.8 1529.2,1061.8 1529.9,1062.4 1530.6,1060.0 1531.3,1053.2 1532.0,1062.1 1532.7,1058.6 1533.4,1063.2 1534.1,1059.0 1534.8,1067.0 1535.5,1060.2 1536.2,1063.5 1536.9,1058.5 1537.6,1059.7 1538.3,1064.9 1539.0,1065.5 1539.7,1062.9 1540.4,1060.1 1541.1,1063.3 1541.8,1064.9 1542.5,1061.9 1543.2,1061.7 1543.9,1057.5 1544.6,1057.9 1545.3,1060.7 1546.0,1054.5 1546.7,1057.1 1547.4,1054.3 1548.1,1058.2 1548.8,1057.3 1549.5,1064.2 1550.2,1065.0 1550.9,1058.2 1551.6,1063.3 1552.3,1062.9 1553.0,1063.9 1553.7,1062.9 1554.4,1056.9 1555.1,1061.0 1555.8,1057.3 1556.5,1059.4 1557.2,1056.0 1557.9,1056.3 1558.6,1066.2 1559.3,1060.6 1560.0,1059.2 1560.7,1060.4 1561.4,1053.3 1562.1,1060.7 1562.8,1062.9 1563.5,1055.1 1564.2,1062.4 1564.9,1058.9 1565.6,1057.8 1566.3,1057.8 1567.0,1055.3 1567.7,1057.1 1568.4,1056.4 1569.1,1062.5 1569.8,1061.3 1570.5,1066.3 1571.2,1056.7 1571.9,1063.6 1572.6,1060.5 1573.3,1056.7 1574.0,1060.6 1574.7,1055.9 1575.4,1059.5 1576.1,1053.8 1576.8,1056.6 1577.5,1059.0 1578.2,1054.9 1578.9,1062.7 1579.6,1055.4 1580.3,1061.9 1581.0,1061.1 1581.7,1060.9 1582.4,1057.7 1583.1,1059.6 1583.8,1057.9 1584.5,1061.9 1585.2,1058.6 1585.9,1051.2 1586.6,1054.3 1587.3,1048.1 1588.0,1052.0 1588.7,1048.0 1589.4,1051.3 1590.1,1053.2 1590.8,1045.5 1591.5,1050.4 1592.2,1046.9 1592.9,1050.8 1593.6,1050.0 1594.3,1045.8 1595.0,1048.9 1595.7,1054.0 1596.4,1051.1 1597.1,1045.4 1597.8,1045.4 1598.5,1042.9 1599.2,1044.3 1599.9,1049.3 1600.6,1046.9 1601.3,1049.3 1602.0,1043.6 1602.7,1050.7 1603.4,1050.8 1604.1,1050.0 1604.8,1047.7 1605.5,1045.3 1606.2,1047.4 1606.9,1037.6 1607.6,1035.7 1608.3,1036.7 1609.0,1040.2 1609.7,1032.7 1610.4,1032.9 1611.1,1028.3 1611.8,1029.4 1612.5,1028.6 1613.2,1025.4 1613.9,1018.6 1614.6,1020.6 1615.3,1020.0 1616.0,1015.5 1616.7,1016.1 1617.4,1022.0 1618.1,1014.9 1618.8,1017.6 1619.5,1018.7 1620.2,1021.0 1620.9,1015.3 1621.4,1013.2 1621.6,1023.5 1622.3,1017.3 1623.0,1019.0 1623.7,1016.9 1624.4,1017.5 1625.1,1013.6 1625.8,1013.7 1626.5,1021.3 1627.2,1016.7 1627.9,1021.1 1628.6,1022.6 1629.3,1020.7 1630.0,1019.4 1630.7,1026.3 1631.4,1026.1 1632.1,1025.9 1632.8,1030.4 1633.5,1034.4 1634.2,1030.3 1634.9,1035.0 1635.6,1036.1 1636.3,1038.4 1637.0,1036.3 1637.7,1037.8 1638.4,1037.9 1639.1,1038.0 1639.8,1040.5 1640.5,1046.8 1641.2,1049.9 1641.9,1055.2 1642.6,1054.9 1643.3,1053.7 1644.0,1061.4 1644.7,1062.6 1645.4,1058.1 1646.1,1058.3 1646.8,1064.5 1647.5,1062.2 1648.2,1069.7 1648.9,1066.0 1649.6,1061.5 1650.3,1056.8 1651.0,1056.8 1651.7,1055.4 1652.4,1055.2 1653.1,1050.4 1653.8,1050.2 1654.5,1057.4 1655.2,1054.1 1655.9,1053.5 1656.6,1053.1 1657.3,1052.7 1658.0,1049.3 1658.7,1049.9 1659.4,1049.1 1660.1,1051.5 1660.8,1044.9 1661.5,1048.6 1662.2,1053.1 1662.9,1049.2 1663.6,1049.3 1664.3,1050.7 1665.0,1048.1 1665.7,1048.3 1666.4,1046.6 1667.1,1050.5 1667.8,1058.8 1668.5,1047.9 1669.2,1057.9 1669.9,1058.1 1670.6,1057.9 1671.3,1048.8 1672.0,1056.2 1672.7,1056.2 1673.4,1051.1 1674.1,1047.3 1674.8,1049.4 1675.5,1049.7 1676.2,1049.3 1676.9,1044.6 1677.6,1047.3 1678.3,1048.1 1679.0,1051.0 1679.7,1052.0 1680.4,1041.4 1681.1,1051.6 1681.8,1050.7 1682.5,1050.0 1683.2,1047.7 1683.9,1046.6 1684.6,1045.7 1685.3,1048.1 1686.0,1045.8 1686.7,1045.7 1687.4,1046.0 1688.1,1043.4 1688.8,1044.2 1689.5,1046.0 1690.2,1041.5 1690.9,1049.8 1691.6,1049.3 1692.3,1043.3 1693.0,1047.2 1693.7,1048.2 1694.4,1046.8 1695.1,1040.3 1695.8,1045.5 1696.5,1048.2 1697.2,1045.8 1697.9,1039.2 1698.6,1038.7 1699.3,1039.8 1700.0,1033.7 1700.7,1040.2 1701.4,1037.6 1702.1,1034.1 1702.8,1031.7 1703.5,1035.8 1704.2,1026.2 1704.9,1034.6 1705.6,1028.6 1706.3,1030.6 1707.0,1028.9 1707.7,1026.2 1708.4,1023.4 1709.1,1021.2 1709.8,1017.5 1710.5,1011.3 1711.2,1006.0 1711.9,1004.2 1712.6,1003.3 1713.3,995.4 1714.0,991.6 1714.7,994.9 1715.4,985.2 1716.1,983.2 1716.8,983.0 1717.5,980.8 1718.2,977.9 1718.9,971.8 1719.6,965.5 1720.3,960.7 1721.0,954.7 1721.7,954.6 1722.4,949.7 1723.1,945.5 1723.8,935.5 1724.5,932.0 1725.2,927.0 1725.9,926.3 1726.6,922.3 1727.3,913.5 1728.0,909.8 1728.7,913.5 1729.4,909.0 1730.1,903.6 1730.8,904.0 1731.0,903.5 1731.5,906.8 1732.2,908.9 1732.9,911.3 1733.6,907.5 1734.3,910.3 1735.0,918.0 1735.7,922.6 1736.4,922.1 1737.1,929.1 1737.8,937.7 1738.5,942.2 1739.2,946.7 1739.9,948.4 1740.6,951.8 1741.3,958.4 1742.0,965.7 1742.7,968.4 1743.4,976.5 1744.1,977.8 1744.8,986.2 1745.5,983.9 1746.2,993.3 1746.9,997.0 1747.6,1001.4 1748.3,1002.4 1749.0,1006.8 1749.7,1004.5 1750.4,1008.8 1751.1,1018.0 1751.8,1017.4 1752.5,1017.0 1753.2,1017.4 1753.9,1018.2 1754.6,1019.4 1755.3,1030.3 1756.0,1022.9 1756.7,1032.3 1757.4,1028.2 1758.1,1029.6 1758.8,1034.7 1759.5,1032.5 1760.2,1033.7 1760.9,1043.1 1761.6,1041.7 1762.3,1041.0 1763.0,1041.5 1763.7,1034.2 1764.4,1033.2 1765.1,1035.0 1765.8,1039.1 1766.5,1042.1 1767.2,1040.2 1767.9,1038.4 1768.6,1035.0 1769.3,1036.2 1770.0,1041.1 1770.7,1039.5 1771.4,1042.3 1772.1,1044.2 1772.8,1041.0 1773.5,1047.4 1774.2,1045.7 1774.9,1052.5 1775.6,1047.2 1776.3,1049.1 1777.0,1056.0 1777.7,1049.9 1778.4,1055.0 1779.1,1056.8 1779.8,1050.8 1780.5,1052.6 1781.2,1053.4 1781.9,1051.9 1782.6,1053.4 1783.3,1053.4 1784.0,1057.5 1784.7,1060.7 1785.4,1050.9 1786.1,1059.4 1786.8,1058.7 1787.5,1052.5 1788.2,1058.5 1788.9,1054.2 1789.6,1049.3 1790.3,1051.3 1791.0,1056.8 1791.7,1058.7 1792.4,1053.6 1793.1,1058.2 1793.8,1051.2 1794.5,1051.1 1795.2,1057.1 1795.9,1051.4 1796.6,1054.4 1797.3,1053.4 1798.0,1053.0 1798.7,1055.2 1799.4,1055.5 1800.1,1059.6 1800.8,1058.0 1801.5,1057.0 1802.2,1056.4 1802.9,1058.8 1803.6,1054.7 1804.3,1062.0 1805.0,1059.9 1805.7,1056.0 1806.4,1061.3 1807.1,1061.3 1807.8,1062.1 1808.5,1061.0 1809.2,1056.3 1809.9,1052.6 1810.6,1052.5 1811.3,1053.4 1812.0,1054.1 1812.7,1060.9 1813.4,1054.5 1814.1,1060.1 1814.8,1062.9 1815.5,1057.2 1816.2,1062.9 1816.9,1061.9 1817.6,1059.5 1818.3,1053.7 1819.0,1059.2 1819.7,1053.7 1820.4,1054.0 1821.1,1062.8 1821.8,1065.0 1822.5,1065.8 1823.2,1059.7 1823.9,1061.9 1824.6,1062.9 1825.3,1065.9 1826.0,1062.3 1826.7,1065.2 1827.4,1066.7 1828.1,1066.4 1828.8,1065.5 1829.5,1061.9 1830.2,1061.8 1830.9,1059.2 1831.6,1060.8 1832.3,1063.3 1833.0,1059.0 1833.7,1061.4 1834.4,1055.2 1835.1,1052.5 1835.8,1062.5 1836.5,1054.4 1837.2,1063.3 1837.9,1066.3 1838.6,1056.8 1839.3,1058.8 1840.0,1063.3 1840.7,1062.9 1841.4,1059.7 1842.1,1061.7 1842.8,1059.6 1843.5,1062.3 1844.2,1057.3 1844.9,1063.7 1845.6,1065.7 1846.3,1058.1 1847.0,1065.4 1847.7,1063.6 1848.4,1063.4 1849.1,1060.3 1849.8,1056.5 1850.5,1053.7 1851.2,1059.7 1851.9,1056.4 1852.6,1061.1 1853.3,1056.3 1854.0,1062.1 1854.7,1062.2 1855.4,1063.0 1856.1,1062.1 1856.8,1057.7 1857.5,1063.5 1858.2,1055.9 1858.9,1055.1 1859.6,1058.7 1860.3,1057.8 1861.0,1054.1 1861.7,1048.8 1862.4,1055.6 1863.1,1059.4 1863.8,1060.9 1864.5,1055.2 1865.2,1059.9 1865.9,1060.5 1866.6,1062.4 1867.3,1059.3 1868.0,1057.0 1868.7,1052.7 1869.4,1049.5 1870.1,1052.0 1870.8,1045.0 1871.5,1049.3 1872.2,1041.8 1872.9,1041.6 1873.6,1037.6 1874.3,1036.5 1875.0,1035.7 1875.7,1035.1 1876.4,1033.2 1877.1,1031.5 1877.8,1036.0 1878.5,1030.8 1879.2,1025.2 1879.9,1023.5 1880.6,1026.1 1881.3,1020.4 1882.0,1014.2 1882.7,1008.1 1883.4,1007.8 1884.1,1003.8 1884.8,999.4 1885.5,998.6 1886.2,993.6 1886.9,988.9 1887.6,982.8 1888.3,979.1 1889.0,973.2 1889.7,964.6 1890.4,956.4 1891.1,948.3 1891.8,943.3 1892.5,934.0 1893.2,926.9 1893.9,922.0 1894.6,910.1 1895.3,903.5 1896.0,898.6 1896.7,889.0 1897.4,880.0 1898.1,869.2 1898.8,860.8 1899.5,851.3 1900.2,843.9 1900.9,836.6 1901.6,828.3 1902.3,821.0 1903.0,820.0 1903.7,815.2 1904.4,808.6 1905.1,806.1 1905.8,801.3 1906.5,801.3 1907.0,800.4 1907.2,804.3 1907.9,798.9 1908.6,801.8 1909.3,804.7 1910.0,811.3 1910.7,817.2 1911.4,820.9 1912.1,823.7 1912.8,830.9 1913.5,839.3 1914.2,847.8 1914.9,855.3 1915.6,862.1 1916.3,871.1 1917.0,880.5 1917.7,890.5 1918.4,899.6 1919.1,907.9 1919.8,917.1 1920.5,921.1 1921.2,931.9 1921.9,934.7 1922.6,943.0 1923.3,948.8 1924.0,955.8 1924.7,961.3 1925.4,968.6 1926.1,970.7 1926.8,977.9 1927.5,985.6 1928.2,989.1 1928.9,996.0 1929.6,994.2 1930.3,997.5 1931.0,1004.1 1931.7,1005.1 1932.4,1014.8 1933.1,1015.1 1933.8,1019.3 1934.5,1022.7 1935.2,1027.7 1935.9,1028.4 1936.6,1027.0 1937.3,1032.9 1938.0,1026.8 1938.7,1029.6 1939.4,1032.4 1940.1,1031.0 1940.8,1037.8 1941.5,1037.0 1942.2,1038.3 1942.9,1038.9 1943.6,1036.8 1944.3,1042.5 1945.0,1045.8 1945.7,1049.5 1946.4,1050.4 1947.1,1047.5 1947.8,1049.4 1948.5,1041.8 1949.2,1047.4 1949.9,1053.7 1950.6,1049.9 1951.3,1051.3 1952.0,1052.5 1952.7,1046.1 1953.4,1043.5 1954.1,1050.2 1954.8,1047.7 1955.5,1046.9 1956.2,1045.4 1956.9,1048.8 1957.6,1054.3 1958.3,1058.7 1959.0,1049.8 1959.7,1055.8 1960.4,1054.5 1961.1,1059.5 1961.8,1056.4 1962.5,1064.0 1963.2,1057.7 1963.9,1060.6 1964.6,1056.4 1965.3,1059.7 1966.0,1059.6 1966.7,1054.7 1967.4,1051.0 1968.1,1052.2 1968.8,1054.6 1969.5,1061.4 1970.2,1057.5 1970.9,1058.0 1971.6,1055.0 1972.3,1058.7 1973.0,1062.2 1973.7,1064.0 1974.4,1060.9 1975.1,1058.3 1975.8,1061.6 1976.5,1057.3 1977.2,1063.8 1977.9,1064.4 1978.6,1066.8 1979.3,1065.8 1980.0,1063.7 1980.7,1065.6 1981.4,1063.6 1982.1,1064.7 1982.8,1063.9 1983.5,1069.0 1984.2,1063.1 1984.9,1061.5 1985.6,1069.4 1986.3,1066.6 1987.0,1066.9 1987.7,1070.8 1988.4,1058.8 1989.1,1056.6 1989.8,1063.8 1990.5,1059.7 1991.2,1068.4 1991.9,1069.0 1992.6,1062.4 1993.3,1067.8 1994.0,1064.0 1994.7,1064.7 1995.4,1063.3 1996.1,1065.9 1996.8,1059.2 1997.5,1066.4 1998.2,1061.8 1998.9,1060.4 1999.6,1068.2 2000.3,1058.5 2001.0,1060.3 2001.7,1064.2 2002.4,1067.4 2003.1,1066.3 2003.8,1066.0 2004.5,1058.0 2005.2,1061.1 2005.9,1068.6 2006.6,1068.5 2007.3,1069.4 2008.0,1064.0 2008.7,1065.0 2009.4,1060.7 2010.1,1057.8 2010.8,1063.7 2011.5,1062.7 2012.2,1057.3 2012.9,1063.4 2013.6,1064.4 2014.3,1058.0 2015.0,1049.5 2015.7,1050.1 2016.4,1055.8 2017.1,1056.0 2017.8,1058.5 2018.5,1058.3 2019.2,1059.1 2019.9,1055.9 2020.6,1060.1 2021.3,1059.0 2022.0,1068.8 2022.7,1068.2 2023.4,1071.2 2024.1,1065.6 2024.8,1071.4 2025.5,1064.3 2026.2,1063.4 2026.9,1062.9 2027.6,1061.0 2028.3,1058.5 2029.0,1065.6 2029.7,1060.0 2030.4,1061.7 2031.1,1056.3 2031.8,1062.4 2032.5,1064.6 2033.2,1067.8 2033.9,1060.0 2034.6,1066.7 2035.3,1066.0 2036.0,1057.6 2036.7,1060.9 2037.4,1060.1 2038.1,1067.0 2038.8,1063.1 2039.5,1057.8 2040.2,1061.5 2040.9,1065.1 2041.6,1058.6 2042.3,1067.0 2043.0,1064.1 2043.7,1064.8 2044.4,1057.4 2045.1,1065.0 2045.8,1057.5 2046.5,1061.0 2047.2,1057.1 2047.9,1055.3 2048.6,1054.0 2049.3,1060.8 2050.0,1067.3 2050.7,1067.9 2051.4,1066.7 2052.1,1064.1 2052.8,1073.1 2053.5,1063.0 2054.2,1067.2 2054.9,1066.1 2055.6,1065.4 2056.3,1064.2 2057.0,1059.1 2057.7,1058.1 2058.4,1054.9 2059.1,1063.5 2059.8,1057.2 2060.5,1064.4 2061.2,1057.0 2061.9,1064.3 2062.6,1069.2 2063.3,1064.7 2064.0,1061.1 2064.7,1060.6 2065.4,1056.9 2066.1,1064.6 2066.8,1061.7 2067.5,1063.2 2068.2,1062.1 2068.9,1054.4 2069.6,1060.5 2070.3,1060.5 2071.0,1058.2 2071.7,1061.6 2072.4,1066.1 2073.1,1055.5 2073.8,1062.6 2074.5,1059.5 2075.2,1061.4 2075.9,1063.4 2076.6,1057.8 2077.3,1055.6 2078.0,1056.8 2078.7,1058.9 2079.4,1062.8 2080.1,1060.3 2080.8,1063.5 2081.5,1058.2 2082.2,1056.8 2082.9,1062.5 2083.6,1063.7 2084.3,1061.0 2085.0,1055.7 2085.7,1058.7 2086.4,1061.4 2087.1,1057.9 2087.8,1061.7 2088.5,1055.9 2089.2,1059.6 2089.9,1053.7 2090.6,1048.8 2091.3,1049.7 2092.0,1050.0 2092.7,1055.9 2093.4,1059.6 2094.1,1056.9 2094.8,1053.8 2095.5,1048.3 2096.2,1055.1 2096.9,1056.7 2097.6,1051.1 2098.3,1052.9 2099.0,1052.3 2099.7,1051.6 2100.4,1047.5 2101.1,1051.2 2101.8,1047.4 2102.5,1049.6 2103.2,1045.5 2103.9,1049.3 2104.0,1046.8 2104.6,1054.2 2105.3,1056.6 2106.0,1055.2 2106.7,1052.0 2107.4,1052.7 2108.1,1054.4 2108.8,1050.0 2109.5,1048.4 2110.2,1058.0 2110.9,1054.8 2111.6,1055.6 2112.3,1052.5 2113.0,1051.8 2113.7,1050.2 2114.4,1056.0 2115.1,1055.0 2115.8,1049.6 2116.5,1049.6 2117.2,1056.0 2117.9,1055.3 2118.6,1047.7 2119.3,1048.9 2120.0,1051.0 2120.7,1054.2 2121.4,1046.4 2122.1,1051.6 2122.8,1052.7 2123.5,1054.6 2124.2,1048.7 2124.9,1052.5 2125.6,1054.7 2126.3,1050.0 2127.0,1054.0 2127.7,1052.9 2128.4,1053.8 2129.1,1056.4"/>
<polyline fill="none" stroke="#0000ff" stroke-width="7.6" stroke-linejoin="round" stroke-linecap="butt" points="243.3,1253.6 244.0,1253.4 244.7,1253.3 245.4,1251.1 246.1,1251.6 246.8,1253.9 247.5,1254.6 248.2,1250.7 248.9,1250.7 249.6,1256.2 250.3,1253.8 251.0,1250.0 251.7,1251.3 252.4,1253.8 253.1,1252.4 253.8,1251.9 254.5,1250.4 255.2,1250.1 255.9,1250.9 256.6,1247.3 257.3,1249.7 258.0,1248.0 258.7,1252.2 259.4,1247.9 260.1,1251.1 260.8,1251.8 261.5,1247.9 262.2,1252.5 262.9,1252.7 263.6,1247.4 264.3,1251.5 265.0,1246.0 265.7,1247.0 266.4,1245.0 267.1,1241.1 267.8,1244.6 268.5,1248.9 269.2,1247.6 269.9,1246.6 270.6,1249.2 271.3,1247.3 272.0,1249.7 272.7,1246.4 273.4,1247.6 274.1,1250.4 274.8,1249.1 275.5,1249.0 276.2,1247.4 276.9,1246.1 277.6,1251.6 278.3,1247.5 279.0,1252.5 279.7,1250.1 280.4,1254.4 281.1,1250.0 281.8,1252.8 282.5,1250.1 283.2,1248.5 283.9,1251.2 284.6,1251.7 285.3,1250.9 286.0,1250.4 286.7,1247.1 287.4,1250.0 288.1,1247.3 288.8,1251.0 289.5,1250.4 290.2,1248.8 290.9,1250.7 291.6,1248.3 292.3,1248.7 293.0,1251.1 293.7,1248.6 294.4,1251.0 295.1,1251.3 295.8,1253.7 296.5,1254.4 297.2,1252.8 297.9,1253.8 298.6,1249.3 299.3,1253.1 300.0,1253.9 300.7,1251.3 301.4,1250.9 302.1,1250.2 302.8,1251.8 303.5,1247.0 304.2,1247.0 304.9,1245.2 305.6,1248.2 306.3,1250.0 307.0,1250.8 307.7,1250.8 308.4,1246.4 309.1,1250.8 309.8,1247.4 310.5,1250.6 311.2,1245.5 311.9,1246.5 312.6,1243.8 313.3,1248.1 314.0,1248.0 314.7,1244.0 315.4,1245.9 316.1,1244.3 316.8,1246.6 317.5,1247.7 318.2,1245.8 318.9,1250.6 319.6,1247.6 320.3,1249.3 321.0,1247.4 321.7,1248.1 322.4,1247.1 323.1,1247.2 323.8,1250.4 324.5,1249.3 325.2,1246.3 325.9,1245.7 326.6,1246.6 327.3,1247.8 328.0,1244.7 328.7,1249.2 329.4,1247.2 330.1,1248.7 330.8,1249.4 331.5,1248.5 332.2,1249.7 332.9,1249.0 333.6,1244.0 334.3,1243.7 335.0,1242.8 335.7,1241.9 336.4,1241.2 337.1,1240.7 337.8,1242.5 338.5,1245.1 339.2,1247.2 339.9,1244.2 340.6,1244.9 341.3,1246.7 342.0,1248.5 342.7,1249.5 343.4,1250.3 344.1,1246.8 344.8,1248.5 345.5,1247.0 346.2,1250.7 346.9,1246.3 347.6,1249.7 348.3,1247.4 349.0,1248.2 349.7,1247.0 350.4,1245.9 351.1,1247.3 351.8,1243.2 352.5,1241.5 353.2,1245.1 353.9,1245.9 354.6,1248.8 355.3,1244.7 356.0,1247.7 356.7,1246.7 357.4,1246.3 358.1,1248.0 358.8,1247.5 359.5,1248.1 360.2,1247.0 360.9,1248.2 361.6,1246.0 362.3,1247.3 363.0,1247.9 363.7,1246.2 364.4,1250.1 365.1,1247.8 365.8,1249.3 366.5,1246.6 367.2,1247.0 367.9,1245.3 368.6,1244.4 369.3,1244.2 370.0,1245.1 370.7,1248.9 371.4,1243.7 372.1,1246.8 372.8,1243.4 373.5,1242.8 374.2,1243.9 374.9,1246.8 375.6,1246.0 376.3,1245.3 377.0,1243.7 377.7,1243.5 378.4,1244.0 379.1,1247.2 379.8,1242.5 380.5,1246.3 381.2,1242.7 381.9,1241.4 382.6,1243.2 383.3,1242.4 384.0,1248.0 384.7,1243.3 385.4,1240.9 386.1,1238.5 386.8,1238.0 387.5,1238.6 388.2,1240.6 388.9,1242.0 389.6,1245.2 390.3,1244.4 391.0,1242.0 391.7,1245.0 392.4,1248.7 393.1,1243.8 393.8,1249.6 394.5,1246.3 395.2,1247.9 395.9,1244.7 396.6,1247.0 397.3,1245.9 398.0,1242.7 398.7,1246.3 399.4,1247.0 400.1,1243.6 400.8,1242.6 401.5,1245.9 402.2,1242.2 402.9,1245.8 403.6,1243.0 404.3,1243.2 405.0,1242.1 405.7,1239.6 406.4,1241.2 407.1,1240.4 407.8,1239.9 408.5,1243.7 409.2,1242.7 409.9,1240.5 410.6,1240.4 411.3,1246.3 412.0,1241.1 412.7,1242.8 413.4,1247.3 414.1,1242.0 414.8,1242.9 415.5,1245.3 416.2,1240.4 416.9,1241.7 417.6,1246.0 418.3,1245.0 419.0,1242.5 419.7,1243.5 420.4,1242.8 421.1,1247.4 421.8,1247.3 422.5,1242.0 423.2,1243.7 423.9,1241.5 424.6,1242.0 425.3,1243.5 426.0,1244.1 426.7,1240.4 427.4,1239.6 428.1,1240.3 428.8,1239.5 429.5,1241.6 430.2,1242.9 430.9,1240.4 431.6,1241.4 432.3,1237.9 433.0,1239.9 433.7,1244.5 434.4,1243.2 435.1,1244.6 435.8,1246.2 436.5,1244.4 437.2,1245.4 437.9,1241.4 438.6,1241.9 439.3,1244.7 440.0,1242.7 440.7,1244.0 441.4,1238.7 442.1,1241.8 442.8,1240.8 443.5,1240.3 444.2,1242.2 444.9,1237.5 445.6,1239.6 446.3,1236.5 447.0,1236.9 447.7,1239.7 448.4,1235.7 449.1,1238.2 449.8,1234.1 450.5,1241.3 451.2,1241.0 451.9,1240.2 452.6,1238.3 453.3,1240.9 454.0,1236.7 454.7,1238.8 455.4,1237.9 456.1,1238.7 456.8,1239.6 457.5,1240.7 458.2,1243.9 458.9,1240.4 459.6,1243.8 460.3,1239.5 461.0,1239.3 461.7,1239.4 462.4,1244.9 463.1,1243.5 463.8,1237.8 464.5,1243.3 465.2,1239.5 465.9,1240.1 466.6,1242.4 467.3,1240.0 468.0,1243.9 468.7,1240.2 469.4,1241.5 470.1,1241.9 470.8,1240.4 471.5,1242.5 472.2,1244.4 472.9,1241.2 473.6,1238.5 474.3,1242.4 475.0,1241.0 475.7,1240.1 476.4,1241.4 477.1,1238.4 477.8,1238.6 478.5,1240.0 479.2,1237.0 479.9,1240.3 480.6,1237.3 481.3,1236.9 482.0,1240.5 482.7,1237.7 483.4,1235.2 484.1,1236.5 484.8,1237.6 485.5,1237.0 486.2,1235.1 486.9,1232.6 487.6,1234.1 488.3,1233.2 489.0,1229.5 489.7,1233.4 490.4,1233.3 491.1,1233.5 491.8,1234.3 492.5,1230.0 493.2,1231.3 493.9,1235.4 494.6,1231.8 495.3,1230.9 496.0,1229.2 496.7,1229.8 497.4,1230.9 498.1,1228.7 498.8,1230.8 499.5,1229.4 500.2,1228.8 500.9,1231.9 501.6,1234.0 502.3,1232.7 503.0,1229.2 503.7,1226.7 504.4,1226.9 505.1,1227.5 505.8,1226.2 506.5,1228.4 507.2,1227.7 507.9,1227.3 508.6,1224.0 509.3,1222.8 509.3,1225.5 510.0,1226.0 510.7,1221.0 511.4,1221.6 512.1,1223.4 512.8,1224.7 513.5,1226.6 514.2,1222.2 514.9,1224.2 515.6,1226.2 516.3,1226.5 517.0,1228.8 517.7,1227.6 518.4,1228.1 519.1,1226.7 519.8,1228.6 520.5,1229.0 521.2,1231.5 521.9,1226.8 522.6,1227.4 523.3,1228.0 524.0,1228.5 524.7,1230.4 525.4,1228.8 526.1,1232.3 526.8,1233.1 527.5,1228.0 528.2,1233.8 528.9,1229.7 529.6,1232.4 530.3,1233.8 531.0,1233.5 531.7,1233.2 532.4,1236.8 533.1,1237.6 533.8,1234.4 534.5,1234.3 535.2,1236.3 535.9,1233.8 536.6,1238.0 537.3,1237.2 538.0,1235.4 538.7,1232.1 539.4,1233.2 540.1,1231.1 540.8,1232.2 541.5,1230.1 542.2,1229.8 542.9,1234.9 543.6,1232.0 544.3,1237.4 545.0,1235.4 545.7,1236.2 546.4,1237.4 547.1,1233.0 547.8,1230.4 548.5,1231.5 549.2,1231.3 549.9,1229.7 550.6,1230.8 551.3,1234.8 552.0,1232.5 552.7,1232.0 553.4,1232.7 554.1,1236.0 554.8,1239.3 555.5,1232.1 556.2,1235.3 556.9,1233.9 557.6,1231.6 558.3,1231.1 559.0,1232.2 559.7,1230.4 560.4,1232.8 561.1,1236.7 561.8,1236.6 562.5,1234.6 563.2,1234.4 563.9,1237.3 564.6,1232.1 565.3,1232.2 566.0,1235.8 566.7,1233.7 567.4,1234.2 568.1,1232.1 568.8,1229.3 569.5,1232.2 570.2,1231.9 570.9,1229.3 571.6,1232.1 572.3,1234.7 573.0,1229.7 573.7,1230.2 574.4,1230.7 575.1,1234.4 575.8,1236.1 576.5,1232.5 577.2,1237.0 577.9,1231.6 578.6,1233.2 579.3,1234.4 580.0,1229.7 580.7,1231.6 581.4,1234.1 582.1,1231.8 582.8,1234.6 583.5,1231.9 584.2,1236.4 584.9,1232.6 585.6,1235.4 586.3,1230.2 587.0,1231.8 587.7,1230.0 588.4,1230.9 589.1,1230.6 589.8,1229.2 590.5,1229.7 591.2,1232.0 591.9,1231.1 592.6,1229.8 593.3,1233.1 594.0,1232.2 594.7,1230.4 595.4,1231.8 596.1,1230.9 596.8,1233.9 597.5,1229.9 598.2,1229.8 598.9,1232.7 599.6,1228.1 600.3,1228.8 601.0,1229.2 601.7,1229.2 602.4,1229.7 603.1,1229.4 603.8,1231.4 604.5,1226.1 605.2,1231.9 605.9,1229.7 606.6,1228.3 607.3,1228.2 608.0,1228.1 608.7,1231.3 609.4,1229.9 610.1,1229.5 610.8,1232.6 611.5,1232.5 612.2,1230.9 612.9,1229.3 613.6,1233.8 614.3,1228.0 615.0,1230.7 615.7,1228.7 616.4,1228.5 617.1,1230.2 617.8,1225.3 618.5,1227.9 619.2,1227.0 619.9,1227.9 620.6,1226.1 621.3,1225.0 622.0,1227.4 622.7,1226.8 623.4,1225.5 624.1,1224.7 624.8,1226.2 625.5,1228.8 626.2,1229.8 626.9,1229.4 627.6,1225.3 628.3,1227.1 629.0,1227.9 629.7,1229.9 630.4,1229.8 631.1,1231.0 631.8,1229.4 632.5,1225.5 633.2,1230.8 633.9,1228.5 634.6,1229.5 635.3,1227.6 636.0,1232.4 636.7,1233.4 637.4,1229.2 638.1,1229.7 638.8,1224.8 639.5,1227.1 640.2,1227.9 640.9,1225.7 641.6,1230.1 642.3,1227.6 643.0,1229.1 643.7,1228.4 644.4,1223.7 645.1,1224.7 645.8,1228.6 646.5,1224.1 647.2,1224.2 647.9,1228.3 648.6,1227.7 649.3,1222.9 650.0,1223.4 650.7,1220.3 651.4,1220.5 652.1,1219.8 652.8,1223.7 653.5,1223.6 654.2,1221.8 654.9,1226.7 655.6,1225.7 656.3,1226.3 657.0,1227.4 657.7,1224.6 658.4,1228.4 659.1,1225.4 659.8,1226.2 660.5,1224.1 661.2,1225.5 661.9,1225.3 662.6,1227.2 663.3,1225.9 664.0,1226.1 664.7,1225.9 665.4,1222.6 666.1,1220.4 666.8,1223.2 667.5,1224.8 668.2,1220.8 668.9,1223.2 669.6,1224.9 670.3,1224.6 671.0,1224.2 671.7,1227.4 672.4,1224.6 673.1,1223.4 673.8,1225.6 674.5,1224.1 675.2,1225.6 675.9,1226.7 676.6,1222.4 677.3,1225.8 678.0,1222.1 678.7,1225.6 679.4,1225.2 680.1,1225.7 680.8,1225.5 681.5,1226.4 682.2,1223.5 682.9,1227.3 683.6,1223.4 684.3,1228.1 685.0,1223.9 685.7,1224.4 686.4,1223.7 687.1,1228.0 687.8,1225.9 688.5,1227.5 689.2,1225.9 689.9,1226.5 690.6,1228.9 691.3,1227.6 692.0,1227.6 692.7,1229.1 693.4,1230.4 694.1,1226.4 694.8,1225.0 695.5,1224.8 696.2,1224.9 696.9,1226.7 697.6,1228.1 698.3,1227.7 699.0,1224.1 699.7,1224.6 700.4,1225.3 701.1,1228.4 701.8,1227.9 702.5,1229.3 703.2,1227.3 703.9,1229.0 704.6,1230.2 705.3,1228.6 706.0,1230.4 706.7,1231.7 707.4,1228.6 708.1,1227.7 708.8,1224.8 709.5,1225.0 710.2,1224.2 710.9,1224.2 711.6,1224.9 712.3,1229.6 713.0,1229.7 713.7,1230.1 714.4,1232.4 715.1,1229.1 715.8,1230.5 716.5,1229.9 717.2,1231.6 717.9,1229.3 718.6,1227.6 719.3,1226.5 720.0,1225.7 720.7,1229.6 721.4,1229.8 722.1,1225.6 722.8,1230.1 723.5,1224.1 724.2,1229.3 724.9,1226.9 725.6,1224.7 726.3,1224.9 727.0,1223.8 727.7,1229.0 728.4,1224.9 729.1,1225.5 729.8,1229.1 730.5,1227.2 731.2,1227.9 731.9,1228.7 732.6,1226.2 733.3,1226.7 734.0,1232.2 734.7,1229.2 735.4,1228.0 736.1,1228.4 736.8,1225.7 737.5,1225.3 738.2,1227.7 738.9,1224.2 739.6,1223.8 740.3,1225.5 741.0,1227.4 741.7,1230.6 742.4,1227.8 743.1,1226.8 743.8,1230.2 744.5,1226.1 745.2,1227.4 745.9,1228.5 746.6,1226.6 747.3,1228.2 748.0,1227.2 748.7,1230.6 749.4,1229.9 750.1,1231.9 750.8,1230.9 751.5,1231.2 752.2,1232.1 752.9,1228.5 753.6,1225.6 754.3,1229.0 755.0,1226.0 755.7,1228.1 756.4,1227.8 757.1,1229.0 757.8,1230.4 758.5,1231.7 759.2,1232.4 759.9,1232.7 760.6,1232.7 761.3,1233.0 762.0,1229.3 762.7,1228.4 763.4,1226.3 764.1,1229.2 764.8,1227.2 765.5,1228.4 766.2,1230.0 766.9,1230.2 767.6,1232.7 768.3,1231.3 769.0,1233.0 769.7,1227.9 770.4,1233.6 771.1,1232.4 771.8,1228.0 772.5,1228.5 773.2,1230.8 773.9,1227.1 774.6,1232.4 775.3,1234.2 776.0,1234.2 776.7,1232.1 777.4,1234.8 778.1,1235.9 778.8,1237.0 779.5,1233.4 780.2,1235.6 780.9,1231.6 781.6,1236.1 782.3,1231.3 783.0,1232.4 783.7,1233.6 784.4,1230.7 785.1,1231.5 785.8,1230.8 786.5,1232.4 787.2,1232.2 787.9,1234.0 788.6,1231.6 789.3,1232.9 790.0,1228.6 790.7,1231.6 791.4,1232.9 792.1,1228.1 792.8,1232.4 793.5,1231.5 794.2,1226.8 794.9,1230.7 795.6,1227.4 796.3,1227.8 797.0,1233.6 797.7,1231.4 798.4,1230.6 799.1,1233.5 799.8,1231.3 800.5,1229.9 801.2,1235.1 801.9,1230.7 802.6,1236.8 803.3,1238.0 804.0,1235.9 804.7,1231.8 805.4,1230.9 806.1,1230.0 806.8,1232.6 807.5,1234.0 808.2,1230.4 808.9,1228.8 809.6,1235.4 810.3,1229.4 811.0,1235.2 811.7,1236.2 812.4,1236.6 813.1,1230.6 813.8,1227.8 814.5,1227.5 815.2,1228.4 815.9,1231.8 816.6,1229.9 817.3,1232.8 818.0,1234.6 818.7,1232.3 819.4,1234.4 820.1,1233.9 820.8,1230.2 821.5,1232.7 822.2,1229.4 822.9,1229.6 823.6,1232.5 824.3,1229.5 825.0,1230.3 825.7,1232.9 826.4,1231.9 827.1,1236.0 827.8,1233.8 828.5,1234.1 829.2,1235.4 829.9,1235.7 830.6,1236.3 831.3,1236.0 832.0,1237.5 832.7,1231.6 833.4,1230.7 834.1,1235.1 834.8,1231.8 835.5,1229.3 836.2,1231.7 836.9,1230.5 837.6,1230.4 838.3,1232.0 839.0,1232.8 839.7,1229.5 840.4,1231.6 841.1,1229.5 841.8,1234.2 842.5,1231.1 843.2,1231.7 843.9,1229.5 844.6,1231.7 845.3,1230.2 846.0,1232.4 846.7,1227.8 847.4,1230.1 848.1,1228.4 848.8,1230.6 849.5,1228.6 850.2,1227.2 850.9,1222.9 851.6,1221.7 852.3,1225.2 853.0,1226.8 853.7,1220.8 854.4,1223.3 855.1,1222.9 855.8,1220.5 856.5,1223.1 857.2,1221.4 857.9,1220.6 858.6,1220.4 859.3,1218.8 860.0,1215.1 860.7,1216.6 861.4,1214.5 862.1,1211.8 862.8,1206.6 863.5,1208.3 864.2,1203.2 864.9,1203.3 865.6,1200.9 866.3,1198.5 867.0,1197.9 867.7,1194.2 868.4,1192.3 869.1,1188.9 869.8,1186.5 870.5,1180.5 871.2,1179.3 871.9,1174.6 872.6,1169.7 873.3,1167.2 874.0,1164.2 874.7,1158.9 875.4,1157.6 876.1,1153.7 876.8,1148.6 877.5,1142.9 878.2,1143.8 878.9,1137.0 879.6,1135.5 880.3,1136.6 881.0,1137.1 881.5,1132.6 881.7,1131.8 882.4,1134.2 883.1,1135.5 883.8,1138.1 884.5,1141.3 885.2,1145.0 885.9,1147.3 886.6,1147.7 887.3,1152.0 888.0,1158.8 888.7,1162.2 889.4,1164.7 890.1,1167.7 890.8,1173.8 891.5,1174.1 892.2,1178.6 892.9,1182.8 893.6,1186.7 894.3,1189.3 895.0,1191.7 895.7,1191.3 896.4,1192.9 897.1,1195.3 897.8,1199.5 898.5,1204.5 899.2,1203.6 899.9,1210.8 900.6,1209.8 901.3,1211.5 902.0,1211.0 902.7,1211.5 903.4,1217.6 904.1,1216.7 904.8,1219.7 905.5,1219.9 906.2,1218.5 906.9,1217.2 907.6,1219.8 908.3,1218.0 909.0,1219.7 909.7,1223.9 910.4,1225.1 911.1,1227.6 911.8,1226.8 912.5,1222.3 913.2,1223.5 913.9,1225.3 914.6,1226.6 915.3,1227.5 916.0,1223.9 916.7,1222.8 917.4,1220.7 918.1,1223.7 918.8,1226.5 919.5,1222.2 920.2,1224.8 920.9,1228.2 921.6,1227.6 922.3,1221.8 923.0,1223.5 923.7,1222.7 924.4,1227.1 925.1,1227.2 925.8,1223.9 926.5,1224.9 927.2,1227.3 927.9,1225.0 928.6,1225.7 929.3,1229.0 930.0,1227.4 930.7,1228.4 931.4,1233.1 932.1,1233.0 932.8,1233.9 933.5,1232.2 934.2,1229.1 934.9,1227.3 935.6,1230.4 936.3,1229.5 937.0,1230.4 937.7,1229.6 938.4,1229.4 939.1,1225.7 939.8,1227.1 940.5,1231.2 941.2,1229.7 941.9,1230.7 942.6,1224.9 943.3,1228.4 944.0,1225.6 944.7,1226.9 945.4,1226.2 946.1,1226.8 946.8,1228.4 947.5,1227.8 948.2,1230.8 948.9,1230.1 949.6,1230.0 950.3,1231.4 951.0,1227.5 951.7,1227.0 952.4,1227.3 953.1,1229.6 953.8,1229.1 954.5,1230.1 955.2,1226.5 955.9,1226.0 956.6,1228.6 957.3,1231.9 958.0,1228.6 958.7,1231.5 959.4,1231.9 960.1,1228.2 960.8,1230.6 961.5,1232.3 962.2,1228.4 962.9,1227.6 963.6,1227.5 964.3,1225.0 965.0,1225.5 965.7,1227.8 966.4,1228.7 967.1,1227.6 967.8,1226.6 968.5,1228.6 969.2,1224.8 969.9,1228.2 970.6,1227.1 971.3,1230.7 972.0,1225.2 972.7,1226.8 973.4,1226.1 974.1,1228.1 974.8,1229.9 975.5,1227.4 976.2,1230.9 976.9,1229.5 977.6,1227.1 978.3,1229.0 979.0,1227.9 979.7,1224.3 980.4,1227.8 981.1,1226.4 981.8,1226.6 982.5,1222.5 983.2,1222.1 983.9,1223.8 984.6,1225.8 985.3,1221.7 986.0,1221.5 986.7,1220.6 987.4,1227.1 988.1,1227.0 988.8,1222.7 989.5,1226.5 990.2,1224.2 990.9,1220.4 991.6,1220.7 992.3,1221.8 993.0,1220.1 993.7,1219.9 994.4,1218.7 995.1,1218.4 995.8,1218.5 996.5,1220.0 997.2,1223.2 997.9,1222.4 998.6,1219.9 999.3,1217.1 1000.0,1222.1 1000.7,1216.5 1001.4,1216.8 1002.1,1221.3 1002.8,1220.4 1003.5,1221.0 1004.2,1218.9 1004.9,1222.8 1005.6,1222.5 1006.3,1217.3 1007.0,1222.8 1007.7,1221.1 1008.4,1220.7 1009.1,1217.5 1009.8,1218.3 1010.5,1217.1 1011.2,1216.3 1011.9,1211.8 1012.6,1210.5 1013.3,1212.2 1014.0,1209.9 1014.7,1210.8 1015.4,1207.8 1016.1,1205.3 1016.8,1205.2 1017.5,1206.9 1018.2,1202.7 1018.9,1198.1 1019.6,1196.4 1020.3,1196.1 1021.0,1195.1 1021.7,1190.4 1022.4,1186.3 1023.1,1184.1 1023.8,1180.6 1024.5,1178.0 1025.2,1172.2 1025.9,1166.3 1026.6,1162.9 1027.3,1157.9 1028.0,1151.1 1028.7,1143.0 1029.4,1136.3 1030.1,1130.7 1030.8,1121.0 1031.5,1113.3 1032.2,1104.0 1032.9,1095.7 1033.6,1085.0 1034.3,1076.6 1035.0,1066.8 1035.7,1053.5 1036.4,1042.3 1037.1,1031.8 1037.8,1017.9 1038.5,1006.8 1039.2,993.0 1039.9,980.8 1040.6,969.2 1041.3,956.9 1042.0,944.8 1042.7,932.5 1043.4,922.1 1044.1,910.8 1044.8,903.6 1045.5,895.2 1046.2,888.2 1046.9,882.5 1047.6,879.0 1048.3,876.1 1049.0,875.1 1049.0,878.5 1049.7,874.6 1050.4,880.7 1051.1,883.5 1051.8,888.8 1052.5,896.4 1053.2,902.8 1053.9,912.0 1054.6,922.2 1055.3,932.0 1056.0,943.6 1056.7,955.5 1057.4,969.1 1058.1,980.3 1058.8,994.1 1059.5,1005.8 1060.2,1018.6 1060.9,1029.7 1061.6,1042.4 1062.3,1052.8 1063.0,1065.2 1063.7,1074.1 1064.4,1084.0 1065.1,1094.8 1065.8,1103.9 1066.5,1111.6 1067.2,1121.1 1067.9,1127.3 1068.6,1136.4 1069.3,1143.3 1070.0,1150.0 1070.7,1155.4 1071.4,1161.0 1072.1,1166.5 1072.8,1167.6 1073.5,1172.7 1074.2,1178.7 1074.9,1180.9 1075.6,1185.1 1076.3,1186.6 1077.0,1188.3 1077.7,1194.2 1078.4,1192.7 1079.1,1195.0 1079.8,1199.0 1080.5,1199.5 1081.2,1202.1 1081.9,1200.8 1082.6,1203.0 1083.3,1208.9 1084.0,1203.8 1084.7,1204.6 1085.4,1203.9 1086.1,1205.4 1086.8,1207.9 1087.5,1208.9 1088.2,1210.6 1088.9,1209.6 1089.6,1205.1 1090.3,1206.3 1091.0,1205.0 1091.7,1206.2 1092.4,1208.7 1093.1,1204.4 1093.8,1206.7 1094.5,1208.5 1095.2,1206.5 1095.9,1207.0 1096.6,1206.7 1096.7,1211.6 1097.3,1212.8 1098.0,1212.0 1098.7,1211.1 1099.4,1214.5 1100.1,1211.5 1100.8,1216.3 1101.5,1216.9 1102.2,1214.5 1102.9,1216.7 1103.6,1217.8 1104.3,1217.7 1105.0,1221.9 1105.7,1217.7 1106.4,1221.3 1107.1,1220.9 1107.8,1218.2 1108.5,1222.3 1109.2,1219.7 1109.9,1218.6 1110.6,1219.7 1111.3,1218.6 1112.0,1219.5 1112.7,1222.2 1113.4,1219.6 1114.1,1219.2 1114.8,1222.3 1115.5,1220.3 1116.2,1221.4 1116.9,1219.8 1117.6,1223.1 1118.3,1222.3 1119.0,1221.6 1119.7,1223.0 1120.4,1217.6 1121.1,1221.2 1121.8,1218.7 1122.5,1220.7 1123.2,1221.9 1123.9,1224.0 1124.6,1221.9 1125.3,1226.5 1126.0,1228.1 1126.7,1227.5 1127.4,1224.1 1128.1,1225.5 1128.8,1226.1 1129.5,1223.0 1130.2,1224.6 1130.9,1227.6 1131.6,1223.7 1132.3,1224.4 1133.0,1227.5 1133.7,1226.5 1134.4,1227.3 1135.1,1226.5 1135.8,1224.1 1136.5,1223.4 1137.2,1226.2 1137.9,1226.9 1138.6,1227.2 1139.3,1229.0 1140.0,1223.6 1140.7,1223.2 1141.4,1226.5 1142.1,1226.2 1142.8,1226.6 1143.5,1227.5 1144.2,1225.0 1144.9,1226.3 1145.6,1226.7 1146.3,1226.8 1147.0,1226.4 1147.7,1230.7 1148.4,1231.4 1149.1,1227.8 1149.8,1231.9 1150.5,1228.3 1151.2,1229.9 1151.9,1230.7 1152.6,1229.7 1153.3,1227.7 1154.0,1229.2 1154.7,1228.2 1155.4,1226.5 1156.1,1226.8 1156.8,1231.8 1157.5,1230.6 1158.2,1231.1 1158.9,1229.5 1159.6,1230.2 1160.3,1229.5 1161.0,1231.4 1161.7,1228.7 1162.4,1231.6 1163.1,1230.7 1163.8,1228.0 1164.5,1233.3 1165.2,1232.0 1165.9,1232.2 1166.6,1233.6 1167.3,1233.1 1168.0,1231.5 1168.7,1230.9 1169.4,1234.0 1170.1,1230.4 1170.8,1232.0 1171.5,1227.8 1172.2,1229.5 1172.9,1232.0 1173.6,1231.2 1174.3,1228.7 1175.0,1230.8 1175.7,1229.8 1176.4,1232.4 1177.1,1228.0 1177.8,1228.0 1178.5,1228.3 1179.2,1228.1 1179.9,1230.2 1180.6,1228.1 1181.3,1229.4 1182.0,1226.0 1182.7,1226.7 1183.4,1230.2 1184.1,1228.5 1184.8,1229.6 1185.5,1229.9 1186.2,1228.1 1186.9,1230.2 1187.6,1228.8 1188.3,1229.7 1189.0,1233.9 1189.7,1233.5 1190.4,1235.0 1191.1,1234.1 1191.8,1231.1 1192.5,1228.9 1193.2,1229.3 1193.9,1228.7 1194.6,1232.5 1195.3,1229.0 1196.0,1228.5 1196.7,1228.1 1197.4,1224.8 1198.1,1228.0 1198.8,1225.1 1199.5,1228.4 1200.2,1226.3 1200.9,1231.3 1201.6,1229.2 1202.3,1228.7 1203.0,1226.0 1203.7,1227.6 1204.4,1226.6 1205.1,1230.5 1205.8,1228.3 1206.5,1228.1 1207.2,1226.2 1207.9,1225.6 1208.6,1226.7 1209.3,1225.5 1210.0,1224.9 1210.7,1225.5 1211.4,1225.8 1212.1,1222.5 1212.8,1225.8 1213.5,1221.6 1214.2,1223.7 1214.9,1227.1 1215.6,1227.7 1216.3,1223.7 1217.0,1226.6 1217.7,1226.4 1218.4,1224.8 1219.1,1227.3 1219.8,1229.2 1220.5,1227.5 1221.2,1230.4 1221.9,1232.3 1222.6,1226.1 1223.3,1230.3 1224.0,1226.5 1224.7,1227.7 1225.4,1225.3 1226.1,1224.5 1226.8,1221.1 1227.5,1221.9 1228.2,1220.0 1228.9,1224.2 1229.6,1226.3 1230.3,1225.1 1231.0,1227.6 1231.7,1228.1 1232.4,1223.5 1233.1,1224.2 1233.8,1223.9 1234.5,1224.0 1235.2,1225.9 1235.9,1225.3 1236.6,1226.1 1237.3,1223.9 1238.0,1222.8 1238.7,1225.8 1239.4,1219.2 1240.1,1221.6 1240.8,1220.6 1241.5,1223.0 1242.2,1220.4 1242.9,1219.8 1243.6,1223.6 1244.3,1223.4 1245.0,1223.7 1245.7,1219.6 1246.4,1220.6 1247.1,1220.3 1247.8,1220.3 1248.5,1220.8 1249.2,1222.0 1249.9,1221.6 1250.6,1219.6 1251.3,1218.8 1252.0,1217.2 1252.7,1214.8 1253.4,1218.5 1254.1,1214.6 1254.8,1217.9 1255.5,1216.6 1256.2,1214.9 1256.9,1213.4 1257.6,1216.3 1258.3,1215.1 1259.0,1216.4 1259.7,1216.4 1260.4,1216.2 1261.1,1217.9 1261.8,1213.1 1262.5,1213.3 1263.2,1211.4 1263.9,1210.4 1264.6,1206.6 1265.3,1204.7 1266.0,1205.3 1266.7,1207.0 1267.4,1200.7 1268.1,1199.0 1268.8,1198.3 1269.5,1198.1 1270.2,1197.7 1270.9,1192.1 1271.6,1193.5 1272.3,1189.8 1273.0,1187.9 1273.7,1186.6 1274.4,1180.9 1275.1,1181.6 1275.8,1175.7 1276.5,1174.2 1277.2,1171.9 1277.9,1166.1 1278.6,1165.4 1279.3,1157.5 1280.0,1156.0 1280.7,1152.5 1281.4,1147.1 1282.1,1145.7 1282.8,1143.6 1283.5,1138.3 1284.2,1134.0 1284.9,1131.1 1285.6,1129.5 1286.3,1126.2 1287.0,1124.0 1287.7,1121.3 1288.4,1116.6 1289.1,1117.7 1289.8,1115.7 1290.5,1114.0 1290.5,1115.2 1291.2,1117.6 1291.9,1117.4 1292.6,1115.9 1293.3,1120.4 1294.0,1121.0 1294.7,1122.0 1295.4,1124.7 1296.1,1126.4 1296.8,1126.7 1297.5,1131.6 1298.2,1133.7 1298.9,1141.0 1299.6,1142.1 1300.3,1141.7 1301.0,1144.9 1301.7,1146.1 1302.4,1152.0 1303.1,1155.2 1303.8,1155.6 1304.5,1157.2 1305.2,1160.2 1305.9,1164.9 1306.6,1164.2 1307.3,1165.6 1308.0,1169.5 1308.7,1176.1 1309.4,1172.7 1310.1,1177.1 1310.8,1179.2 1311.5,1179.4 1312.2,1180.2 1312.9,1181.4 1313.0,1182.8 1313.6,1185.6 1314.3,1183.5 1315.0,1185.9 1315.7,1187.7 1316.4,1187.6 1317.1,1194.2 1317.8,1194.8 1318.5,1195.2 1319.2,1191.8 1319.9,1193.4 1320.6,1197.2 1321.3,1198.2 1322.0,1198.6 1322.7,1198.3 1323.4,1199.6 1324.1,1201.2 1324.8,1205.1 1325.5,1209.2 1326.2,1204.9 1326.9,1205.2 1327.6,1210.7 1328.3,1205.5 1329.0,1207.5 1329.7,1211.7 1330.4,1211.4 1331.1,1210.8 1331.8,1215.0 1332.5,1211.0 1333.2,1214.8 1333.9,1217.3 1334.6,1219.8 1335.3,1215.1 1336.0,1218.7 1336.7,1217.3 1337.4,1218.5 1338.1,1217.6 1338.8,1218.1 1339.5,1224.0 1340.2,1221.2 1340.9,1222.0 1341.6,1224.2 1342.3,1226.2 1343.0,1226.9 1343.7,1226.4 1344.4,1227.9 1345.1,1223.6 1345.8,1228.0 1346.5,1223.5 1347.2,1228.4 1347.9,1229.7 1348.6,1230.0 1349.3,1229.3 1350.0,1231.6 1350.7,1227.2 1351.4,1228.8 1352.1,1227.9 1352.8,1228.6 1353.5,1229.7 1354.2,1229.7 1354.9,1227.8 1355.6,1226.1 1356.3,1226.6 1357.0,1229.3 1357.7,1230.2 1358.4,1230.2 1359.1,1227.9 1359.8,1229.9 1360.5,1227.6 1361.2,1229.7 1361.9,1225.8 1362.6,1227.2 1363.3,1230.7 1364.0,1230.4 1364.7,1228.5 1365.4,1228.5 1366.1,1226.0 1366.8,1224.8 1367.5,1231.3 1368.2,1225.5 1368.9,1228.6 1369.6,1227.0 1370.3,1230.8 1371.0,1229.5 1371.7,1228.0 1372.4,1230.9 1373.1,1230.1 1373.8,1228.9 1374.5,1230.4 1375.2,1230.3 1375.9,1233.0 1376.6,1230.5 1377.3,1230.9 1378.0,1231.9 1378.7,1228.7 1379.4,1233.8 1380.1,1232.1 1380.8,1231.0 1381.5,1232.4 1382.2,1236.4 1382.9,1235.9 1383.6,1233.3 1384.3,1231.5 1385.0,1236.6 1385.7,1233.7 1386.4,1234.5 1387.1,1232.6 1387.8,1232.3 1388.5,1230.6 1389.2,1230.9 1389.9,1233.0 1390.6,1227.8 1391.3,1231.4 1392.0,1231.9 1392.7,1230.1 1393.4,1228.8 1394.1,1231.3 1394.8,1231.7 1395.5,1234.0 1396.2,1233.1 1396.9,1233.2 1397.6,1234.0 1398.3,1234.5 1399.0,1232.5 1399.7,1232.3 1400.4,1235.8 1401.1,1233.8 1401.8,1232.9 1402.5,1236.7 1403.2,1234.2 1403.9,1233.7 1404.6,1234.2 1405.3,1233.7 1406.0,1236.4 1406.7,1234.4 1407.4,1237.4 1408.1,1230.7 1408.8,1230.9 1409.5,1232.3 1410.2,1235.4 1410.9,1235.1 1411.6,1232.9 1412.3,1233.0 1413.0,1230.9 1413.7,1232.2 1414.4,1231.8 1415.1,1235.9 1415.8,1233.1 1416.5,1232.1 1417.2,1235.2 1417.9,1231.4 1418.6,1234.3 1419.3,1231.6 1420.0,1234.1 1420.7,1238.0 1421.4,1234.6 1422.1,1239.3 1422.8,1236.5 1423.5,1238.1 1424.2,1234.5 1424.9,1237.3 1425.6,1234.9 1426.3,1232.7 1427.0,1237.7 1427.7,1237.1 1428.4,1233.5 1429.1,1233.1 1429.8,1235.5 1430.5,1232.8 1431.2,1233.0 1431.9,1233.3 1432.6,1238.3 1433.3,1239.1 1434.0,1237.2 1434.7,1235.3 1435.4,1237.9 1436.1,1239.1 1436.8,1233.7 1437.5,1234.2 1438.2,1235.1 1438.9,1234.6 1439.6,1239.3 1440.3,1238.2 1441.0,1236.8 1441.7,1234.1 1442.4,1235.2 1443.1,1236.3 1443.8,1236.9 1444.5,1235.9 1445.2,1235.1 1445.9,1235.5 1446.6,1233.3 1447.3,1233.9 1448.0,1232.6 1448.7,1238.2 1449.4,1236.1 1450.1,1233.1 1450.8,1235.1 1451.5,1236.6 1452.2,1237.0 1452.9,1233.3 1453.6,1237.8 1454.3,1234.0 1455.0,1236.2 1455.7,1235.6 1456.4,1236.4 1457.1,1232.6 1457.8,1234.9 1458.5,1232.8 1459.2,1236.6 1459.9,1237.7 1460.6,1234.9 1461.3,1235.6 1462.0,1234.7 1462.7,1240.4 1463.4,1233.7 1464.1,1237.2 1464.8,1237.8 1465.5,1233.4 1466.2,1232.4 1466.9,1233.9 1467.6,1236.2 1468.3,1236.7 1469.0,1232.3 1469.7,1233.4 1470.4,1235.2 1471.1,1235.1 1471.8,1235.9 1472.5,1237.0 1473.2,1233.0 1473.9,1231.4 1474.6,1233.4 1475.3,1232.9 1476.0,1233.8 1476.7,1233.7 1477.4,1235.6 1478.1,1232.9 1478.8,1234.0 1479.5,1236.7 1480.2,1233.8 1480.9,1236.4 1481.6,1238.9 1482.3,1234.5 1483.0,1237.5 1483.7,1236.2 1484.4,1237.7 1485.1,1235.2 1485.8,1236.8 1486.5,1233.2 1487.2,1234.1 1487.9,1233.3 1488.6,1233.4 1489.3,1233.4 1490.0,1232.5 1490.7,1233.9 1491.4,1233.5 1492.1,1234.5 1492.8,1240.4 1493.5,1239.0 1494.2,1237.0 1494.9,1236.6 1495.6,1237.5 1496.3,1236.7 1497.0,1234.7 1497.7,1237.9 1498.4,1235.5 1499.1,1233.1 1499.8,1237.5 1500.5,1236.5 1501.2,1235.3 1501.9,1236.7 1502.6,1234.3 1503.3,1231.9 1504.0,1235.9 1504.7,1233.9 1505.4,1233.1 1506.1,1233.7 1506.8,1234.9 1507.5,1237.4 1508.2,1238.1 1508.9,1240.4 1509.6,1238.7 1510.3,1240.2 1511.0,1238.8 1511.7,1239.7 1512.4,1240.3 1513.1,1237.4 1513.8,1235.8 1514.5,1238.0 1515.2,1237.8 1515.9,1236.4 1516.6,1241.6 1517.3,1240.3 1518.0,1235.4 1518.7,1235.5 1519.4,1237.0 1520.1,1235.3 1520.8,1234.5 1521.5,1237.5 1522.2,1235.0 1522.9,1237.2 1523.6,1238.5 1524.3,1236.7 1525.0,1238.8 1525.7,1238.6 1526.4,1239.3 1527.1,1236.7 1527.8,1238.8 1528.5,1238.0 1529.2,1234.8 1529.9,1234.7 1530.6,1238.4 1531.3,1239.9 1532.0,1235.3 1532.7,1241.2 1533.4,1240.8 1534.1,1238.0 1534.8,1235.9 1535.5,1239.7 1536.2,1237.1 1536.9,1241.1 1537.6,1238.0 1538.3,1236.2 1539.0,1234.8 1539.7,1236.1 1540.4,1237.8 1541.1,1237.5 1541.8,1240.3 1542.5,1239.4 1543.2,1238.8 1543.9,1237.7 1544.6,1238.4 1545.3,1237.6 1546.0,1241.0 1546.7,1240.3 1547.4,1236.4 1548.1,1235.5 1548.8,1239.0 1549.5,1237.1 1550.2,1237.8 1550.9,1236.6 1551.6,1236.0 1552.3,1236.8 1553.0,1240.3 1553.7,1239.4 1554.4,1237.6 1555.1,1238.9 1555.8,1238.6 1556.5,1235.6 1557.2,1235.2 1557.9,1234.0 1558.6,1234.4 1559.3,1236.5 1560.0,1234.1 1560.7,1237.9 1561.4,1233.1 1562.1,1236.0 1562.8,1233.7 1563.5,1232.9 1564.2,1237.1 1564.9,1237.1 1565.6,1236.6 1566.3,1238.6 1567.0,1237.6 1567.7,1233.4 1568.4,1237.3 1569.1,1237.7 1569.8,1237.3 1570.5,1237.5 1571.2,1234.2 1571.9,1235.8 1572.6,1237.2 1573.3,1231.1 1574.0,1234.8 1574.7,1233.6 1575.4,1232.3 1576.1,1234.8 1576.8,1230.5 1577.5,1231.5 1578.2,1234.2 1578.9,1235.4 1579.6,1236.5 1580.3,1232.8 1581.0,1233.9 1581.7,1233.0 1582.4,1236.5 1583.1,1237.1 1583.8,1235.0 1584.5,1233.1 1585.2,1235.3 1585.9,1235.0 1586.6,1235.5 1587.3,1232.6 1588.0,1233.7 1588.7,1234.5 1589.4,1232.2 1590.1,1234.2 1590.8,1232.3 1591.5,1232.6 1592.2,1232.6 1592.9,1232.1 1593.6,1231.0 1594.3,1230.9 1595.0,1228.5 1595.7,1227.4 1596.4,1224.0 1597.1,1226.4 1597.8,1223.4 1598.5,1219.4 1599.2,1220.8 1599.9,1218.2 1600.6,1221.0 1601.3,1216.7 1602.0,1215.3 1602.7,1215.4 1603.4,1212.3 1604.1,1214.6 1604.8,1210.0 1605.5,1208.3 1606.2,1209.0 1606.9,1205.6 1607.6,1202.6 1608.3,1204.5 1609.0,1203.5 1609.7,1199.7 1610.4,1197.8 1611.1,1195.1 1611.8,1197.4 1612.5,1191.5 1613.2,1192.7 1613.9,1194.2 1614.6,1190.3 1615.3,1193.1 1616.0,1193.5 1616.7,1191.7 1617.4,1193.7 1617.5,1189.4 1618.1,1188.3 1618.8,1191.3 1619.5,1192.1 1620.2,1193.7 1620.9,1189.2 1621.6,1192.3 1622.3,1190.6 1623.0,1194.3 1623.7,1197.2 1624.4,1199.9 1625.1,1197.9 1625.8,1200.5 1626.5,1200.4 1627.2,1203.7 1627.9,1206.0 1628.6,1210.5 1629.3,1209.5 1630.0,1213.2 1630.7,1211.0 1631.4,1215.2 1632.1,1214.1 1632.8,1215.7 1633.5,1214.5 1634.2,1216.2 1634.9,1219.7 1635.6,1220.4 1636.3,1220.8 1637.0,1222.4 1637.7,1220.1 1638.4,1222.1 1639.1,1224.0 1639.8,1223.5 1640.5,1222.1 1641.2,1225.5 1641.9,1222.7 1642.6,1226.2 1643.3,1228.5 1644.0,1228.9 1644.7,1227.5 1645.4,1229.6 1646.1,1232.1 1646.8,1230.3 1647.5,1232.6 1648.2,1234.9 1648.9,1233.2 1649.6,1232.2 1650.3,1231.7 1651.0,1237.5 1651.7,1231.4 1652.4,1233.1 1653.1,1236.6 1653.8,1232.8 1654.5,1231.5 1655.2,1235.9 1655.9,1236.2 1656.6,1236.2 1657.3,1234.3 1658.0,1233.7 1658.7,1234.9 1659.4,1234.2 1660.1,1230.8 1660.8,1232.4 1661.5,1231.6 1662.2,1228.3 1662.9,1232.0 1663.6,1229.9 1664.3,1227.1 1665.0,1228.3 1665.7,1225.8 1666.4,1226.9 1667.1,1229.2 1667.8,1227.3 1668.5,1227.9 1669.2,1230.3 1669.9,1229.8 1670.6,1228.7 1671.3,1231.3 1672.0,1230.7 1672.7,1232.4 1673.4,1227.1 1674.1,1230.2 1674.8,1231.4 1675.5,1232.7 1676.2,1228.2 1676.9,1226.7 1677.6,1231.9 1678.3,1228.9 1679.0,1228.9 1679.7,1229.5 1680.4,1229.7 1681.1,1230.3 1681.8,1228.0 1682.5,1227.1 1683.2,1229.1 1683.9,1224.7 1684.6,1222.3 1685.3,1224.6 1686.0,1224.6 1686.7,1222.1 1687.4,1223.8 1688.1,1222.0 1688.8,1223.9 1689.5,1222.9 1690.2,1224.3 1690.9,1222.8 1691.6,1222.4 1692.3,1219.9 1693.0,1216.3 1693.7,1216.0 1694.4,1215.7 1695.1,1218.3 1695.8,1217.8 1696.5,1215.7 1697.2,1215.6 1697.9,1211.3 1698.6,1211.7 1699.3,1210.9 1700.0,1210.5 1700.7,1208.5 1701.4,1208.2 1702.1,1208.3 1702.8,1206.9 1703.5,1206.8 1704.2,1202.9 1704.9,1200.9 1705.6,1200.7 1706.3,1202.1 1707.0,1196.3 1707.7,1195.6 1708.4,1195.0 1709.1,1189.5 1709.8,1183.2 1710.5,1181.2 1711.2,1178.9 1711.9,1174.6 1712.6,1169.4 1713.3,1163.9 1714.0,1161.9 1714.7,1157.1 1715.4,1151.5 1716.1,1145.9 1716.8,1141.9 1717.5,1137.1 1718.2,1133.9 1718.9,1129.1 1719.6,1125.9 1720.3,1120.1 1721.0,1115.0 1721.7,1109.3 1722.4,1105.5 1723.1,1102.3 1723.8,1099.3 1724.5,1091.6 1725.2,1091.4 1725.9,1085.7 1726.6,1087.0 1727.3,1086.0 1728.0,1082.7 1728.0,1086.4 1728.7,1084.3 1729.4,1087.1 1730.1,1089.1 1730.8,1089.4 1731.5,1091.7 1732.2,1098.0 1732.9,1102.5 1733.6,1104.6 1734.3,1110.7 1735.0,1115.2 1735.7,1118.5 1736.4,1122.7 1737.1,1128.1 1737.8,1132.1 1738.5,1139.1 1739.2,1142.7 1739.9,1147.2 1740.6,1153.2 1741.3,1157.7 1742.0,1163.5 1742.7,1166.5 1743.4,1171.0 1744.1,1173.5 1744.8,1177.6 1745.5,1178.8 1746.2,1183.5 1746.9,1187.5 1747.6,1188.5 1748.3,1194.5 1749.0,1195.1 1749.7,1198.9 1750.4,1200.3 1751.1,1202.9 1751.8,1205.6 1752.5,1204.7 1753.2,1205.1 1753.9,1210.3 1754.6,1211.6 1755.3,1209.2 1756.0,1207.4 1756.7,1207.8 1757.4,1210.1 1758.1,1215.4 1758.8,1215.4 1759.5,1216.6 1760.2,1216.6 1760.9,1217.2 1761.6,1217.4 1762.3,1216.4 1763.0,1218.8 1763.7,1220.8 1764.4,1219.2 1765.1,1217.6 1765.8,1219.2 1766.5,1220.6 1767.2,1220.0 1767.9,1219.1 1768.6,1223.9 1769.3,1224.7 1770.0,1222.0 1770.7,1225.4 1771.4,1221.2 1772.1,1222.1 1772.8,1224.0 1773.5,1226.6 1774.2,1222.6 1774.9,1227.5 1775.6,1223.1 1776.3,1223.7 1777.0,1227.7 1777.7,1225.1 1778.4,1225.5 1779.1,1230.3 1779.8,1226.1 1780.5,1227.9 1781.2,1229.3 1781.9,1230.8 1782.6,1230.0 1783.3,1228.6 1784.0,1231.0 1784.7,1228.8 1785.4,1231.2 1786.1,1231.4 1786.8,1232.3 1787.5,1228.9 1788.2,1230.3 1788.9,1233.6 1789.6,1236.1 1790.3,1230.3 1791.0,1234.7 1791.7,1233.4 1792.4,1233.9 1793.1,1231.8 1793.8,1232.1 1794.5,1231.8 1795.2,1231.3 1795.9,1231.4 1796.6,1235.4 1797.3,1235.2 1798.0,1235.9 1798.7,1232.0 1799.4,1232.4 1800.1,1233.1 1800.8,1230.0 1801.5,1230.1 1802.2,1231.3 1802.9,1231.0 1803.6,1228.4 1804.3,1230.2 1805.0,1228.4 1805.7,1230.1 1806.4,1234.7 1807.1,1234.7 1807.8,1236.4 1808.5,1234.7 1809.2,1234.6 1809.9,1233.8 1810.6,1231.5 1811.3,1234.2 1812.0,1232.0 1812.7,1234.6 1813.4,1236.7 1814.1,1235.7 1814.8,1237.4 1815.5,1234.1 1816.2,1235.7 1816.9,1236.7 1817.6,1237.3 1818.3,1238.1 1819.0,1232.7 1819.7,1233.6 1820.4,1235.1 1821.1,1235.4 1821.8,1233.0 1822.5,1234.2 1823.2,1235.3 1823.9,1232.2 1824.6,1231.2 1825.3,1234.3 1826.0,1235.4 1826.7,1237.6 1827.4,1237.2 1828.1,1234.6 1828.8,1236.1 1829.5,1232.8 1830.2,1235.0 1830.9,1235.4 1831.6,1231.1 1832.3,1232.7 1833.0,1229.0 1833.7,1227.2 1834.4,1231.0 1835.1,1233.5 1835.8,1231.9 1836.5,1234.2 1837.2,1232.1 1837.9,1235.1 1838.6,1232.0 1839.3,1233.1 1840.0,1237.1 1840.7,1239.1 1841.4,1237.9 1842.1,1236.4 1842.8,1233.3 1843.5,1234.1 1844.2,1236.6 1844.9,1235.6 1845.6,1235.4 1846.3,1236.1 1847.0,1232.7 1847.7,1233.1 1848.4,1230.2 1849.1,1229.6 1849.8,1233.0 1850.5,1230.3 1851.2,1229.9 1851.9,1227.8 1852.6,1230.5 1853.3,1232.8 1854.0,1231.7 1854.7,1230.6 1855.4,1230.3 1856.1,1227.9 1856.8,1226.1 1857.5,1226.5 1858.2,1229.8 1858.9,1224.8 1859.6,1227.8 1860.3,1226.3 1861.0,1226.7 1861.7,1223.0 1862.4,1222.0 1863.1,1221.3 1863.8,1222.0 1864.5,1218.0 1865.2,1223.5 1865.9,1218.1 1866.6,1216.8 1867.3,1215.1 1868.0,1218.5 1868.7,1214.8 1869.4,1213.9 1870.1,1217.0 1870.8,1215.5 1871.5,1213.9 1872.2,1215.8 1872.9,1210.2 1873.6,1213.6 1874.3,1211.3 1875.0,1208.9 1875.7,1203.9 1876.4,1203.1 1877.1,1201.6 1877.8,1195.2 1878.5,1198.5 1879.2,1194.3 1879.9,1190.1 1880.6,1190.6 1881.3,1191.0 1882.0,1188.7 1882.7,1184.1 1883.4,1178.9 1884.1,1177.5 1884.8,1173.2 1885.5,1169.1 1886.2,1165.6 1886.9,1161.8 1887.6,1155.6 1888.3,1151.9 1889.0,1145.9 1889.7,1138.9 1890.4,1135.4 1891.1,1125.9 1891.8,1120.8 1892.5,1117.0 1893.2,1108.8 1893.9,1103.6 1894.6,1095.3 1895.3,1088.7 1896.0,1083.4 1896.7,1076.1 1897.4,1070.6 1898.1,1063.8 1898.8,1057.5 1899.5,1053.6 1900.2,1044.8 1900.9,1040.8 1901.6,1035.6 1902.3,1030.6 1903.0,1024.8 1903.7,1025.2 1904.4,1023.7 1905.1,1020.9 1905.8,1018.1 1906.0,1019.2 1906.5,1019.3 1907.2,1018.0 1907.9,1022.3 1908.6,1025.8 1909.3,1023.9 1910.0,1031.8 1910.7,1034.1 1911.4,1040.8 1912.1,1045.5 1912.8,1050.6 1913.5,1057.2 1914.2,1065.6 1914.9,1073.5 1915.6,1080.2 1916.3,1086.9 1917.0,1093.0 1917.7,1101.1 1918.4,1108.7 1919.1,1113.8 1919.8,1119.8 1920.5,1123.9 1921.2,1131.5 1921.9,1137.6 1922.6,1143.0 1923.3,1147.9 1924.0,1151.2 1924.7,1154.5 1925.4,1159.6 1926.1,1168.6 1926.8,1168.9 1927.5,1171.7 1928.2,1177.2 1928.9,1181.7 1929.6,1181.1 1930.3,1184.5 1931.0,1188.4 1931.7,1193.5 1932.4,1194.2 1933.1,1195.9 1933.8,1200.2 1934.5,1203.2 1935.2,1201.6 1935.9,1205.2 1936.6,1204.9 1937.3,1211.1 1938.0,1209.7 1938.7,1211.3 1939.4,1212.5 1940.1,1214.2 1940.8,1213.7 1941.5,1218.0 1942.2,1218.1 1942.9,1217.9 1943.6,1219.1 1944.3,1217.9 1945.0,1218.3 1945.7,1221.7 1946.4,1220.7 1947.1,1225.3 1947.8,1224.0 1948.5,1222.6 1949.2,1222.2 1949.9,1220.8 1950.6,1224.3 1951.3,1227.3 1952.0,1223.9 1952.7,1225.5 1953.4,1226.0 1954.1,1225.0 1954.8,1226.7 1955.5,1226.8 1956.2,1229.4 1956.9,1228.4 1957.6,1228.0 1958.3,1230.2 1959.0,1227.6 1959.7,1231.1 1960.4,1229.2 1961.1,1227.2 1961.8,1229.8 1962.5,1228.0 1963.2,1233.5 1963.9,1234.8 1964.6,1230.7 1965.3,1235.9 1966.0,1231.5 1966.7,1232.6 1967.4,1232.8 1968.1,1231.5 1968.8,1232.2 1969.5,1237.5 1970.2,1231.4 1970.9,1235.0 1971.6,1230.4 1972.3,1233.4 1973.0,1231.5 1973.7,1236.3 1974.4,1231.2 1975.1,1235.1 1975.8,1231.9 1976.5,1236.2 1977.2,1235.1 1977.9,1238.7 1978.6,1234.0 1979.3,1234.4 1980.0,1237.2 1980.7,1239.4 1981.4,1234.3 1982.1,1236.9 1982.8,1234.2 1983.5,1237.2 1984.2,1235.6 1984.9,1240.4 1985.6,1238.5 1986.3,1240.0 1987.0,1237.2 1987.7,1233.9 1988.4,1232.8 1989.1,1235.2 1989.8,1233.3 1990.5,1233.8 1991.2,1237.0 1991.9,1238.6 1992.6,1238.0 1993.3,1238.6 1994.0,1237.6 1994.7,1237.3 1995.4,1238.9 1996.1,1238.2 1996.8,1236.1 1997.5,1238.2 1998.2,1234.9 1998.9,1238.2 1999.6,1235.0 2000.3,1239.6 2001.0,1237.6 2001.7,1237.3 2002.4,1238.0 2003.1,1240.4 2003.8,1241.1 2004.5,1235.4 2005.2,1240.3 2005.9,1240.0 2006.6,1239.8 2007.3,1237.0 2008.0,1238.3 2008.7,1238.2 2009.4,1241.0 2010.1,1238.0 2010.8,1238.6 2011.5,1242.1 2012.2,1237.9 2012.9,1236.2 2013.6,1241.4 2014.3,1239.4 2015.0,1236.5 2015.7,1239.3 2016.4,1239.8 2017.1,1234.4 2017.8,1238.6 2018.5,1236.7 2019.2,1235.9 2019.9,1234.5 2020.6,1239.1 2021.3,1237.1 2022.0,1238.3 2022.7,1236.8 2023.4,1240.1 2024.1,1243.9 2024.8,1242.1 2025.5,1239.5 2026.2,1243.5 2026.9,1241.8 2027.6,1241.3 2028.3,1240.8 2029.0,1241.8 2029.7,1240.3 2030.4,1243.2 2031.1,1241.6 2031.8,1244.0 2032.5,1241.8 2033.2,1238.9 2033.9,1239.8 2034.6,1238.9 2035.3,1243.3 2036.0,1238.5 2036.7,1239.5 2037.4,1239.6 2038.1,1240.9 2038.8,1237.9 2039.5,1239.8 2040.2,1237.3 2040.9,1242.1 2041.6,1237.3 2042.3,1236.3 2043.0,1238.4 2043.7,1237.9 2044.4,1240.3 2045.1,1239.9 2045.8,1240.7 2046.5,1241.8 2047.2,1242.0 2047.9,1241.2 2048.6,1239.0 2049.3,1237.6 2050.0,1242.7 2050.7,1238.7 2051.4,1241.7 2052.1,1237.0 2052.8,1234.1 2053.5,1236.9 2054.2,1235.2 2054.9,1234.8 2055.6,1237.7 2056.3,1239.5 2057.0,1235.7 2057.7,1241.5 2058.4,1241.3 2059.1,1236.8 2059.8,1237.8 2060.5,1239.4 2061.2,1237.0 2061.9,1241.0 2062.6,1237.8 2063.3,1235.9 2064.0,1236.3 2064.7,1236.6 2065.4,1235.7 2066.1,1235.4 2066.8,1240.0 2067.5,1234.5 2068.2,1234.9 2068.9,1234.2 2069.6,1234.9 2070.3,1235.8 2071.0,1232.1 2071.7,1234.7 2072.4,1234.4 2073.1,1234.9 2073.8,1232.1 2074.5,1231.6 2075.2,1235.8 2075.9,1233.7 2076.6,1235.5 2077.3,1236.7 2078.0,1236.5 2078.7,1233.6 2079.4,1237.3 2080.1,1232.5 2080.8,1234.0 2081.5,1237.5 2082.2,1237.5 2082.9,1233.3 2083.6,1233.3 2084.3,1232.8 2085.0,1236.3 2085.7,1232.9 2086.4,1234.2 2087.1,1234.8 2087.8,1236.0 2088.5,1233.6 2089.2,1231.0 2089.9,1235.3 2090.6,1233.2 2091.3,1229.1 2092.0,1229.7 2092.7,1231.7 2093.4,1232.9 2094.1,1232.1 2094.8,1232.4 2095.5,1232.5 2096.2,1234.9 2096.9,1232.9 2097.6,1231.4 2098.3,1233.4 2099.0,1232.0 2099.7,1229.5 2100.4,1231.8 2101.1,1227.0 2101.8,1230.4 2102.5,1229.9 2102.5,1227.8 2103.2,1227.1 2103.9,1227.9 2104.6,1231.2 2105.3,1230.5 2106.0,1227.4 2106.7,1231.4 2107.4,1232.5 2108.1,1229.7 2108.8,1234.2 2109.5,1231.8 2110.2,1231.2 2110.9,1232.3 2111.6,1228.1 2112.3,1230.0 2113.0,1229.6 2113.7,1233.2 2114.4,1229.5 2115.1,1230.2 2115.8,1230.4 2116.5,1227.8 2117.2,1229.6 2117.9,1235.4 2118.6,1230.2 2119.3,1231.8 2120.0,1233.1 2120.7,1231.1 2121.4,1236.9 2122.1,1235.3 2122.8,1237.3 2123.5,1234.8 2124.2,1236.7 2124.9,1233.5 2125.6,1234.3 2126.3,1233.6 2127.0,1234.5 2127.7,1234.9 2128.4,1236.2 2129.1,1232.3"/>
<polyline fill="none" stroke="#000000" stroke-width="7.6" stroke-linejoin="round" stroke-linecap="butt" points="243.3,1406.7 244.0,1408.3 244.7,1407.8 245.4,1403.8 246.1,1404.8 246.8,1408.5 247.5,1402.6 248.2,1407.1 248.9,1407.2 249.6,1405.1 250.3,1404.1 251.0,1402.8 251.7,1403.4 252.4,1403.6 253.1,1402.4 253.8,1403.2 254.5,1405.7 255.2,1404.4 255.9,1404.4 256.6,1406.6 257.3,1403.1 258.0,1402.0 258.7,1404.9 259.4,1401.4 260.1,1400.7 260.8,1403.1 261.5,1402.1 262.2,1403.0 262.9,1400.4 263.6,1398.6 264.3,1398.2 265.0,1397.2 265.7,1397.1 266.4,1400.0 267.1,1405.2 267.8,1401.1 268.5,1401.4 269.2,1398.1 269.9,1404.9 270.6,1402.0 271.3,1402.3 272.0,1405.3 272.7,1402.7 273.4,1403.3 274.1,1401.7 274.8,1402.3 275.5,1399.1 276.2,1400.4 276.9,1400.0 277.6,1401.7 278.3,1399.3 279.0,1400.3 279.7,1397.5 280.4,1400.0 281.1,1398.7 281.8,1398.5 282.5,1402.4 283.2,1400.3 283.9,1404.0 284.6,1401.9 285.3,1401.4 286.0,1401.2 286.7,1401.1 287.4,1398.8 288.1,1398.9 288.8,1398.5 289.5,1398.0 290.2,1396.7 290.9,1401.8 291.6,1398.1 292.3,1400.6 293.0,1399.0 293.7,1402.3 294.4,1401.4 295.1,1397.1 295.8,1400.9 296.5,1400.7 297.2,1400.5 297.9,1397.9 298.6,1395.7 299.3,1394.8 300.0,1399.7 300.7,1397.4 301.4,1395.3 302.1,1401.0 302.8,1400.4 303.5,1399.7 304.2,1398.3 304.9,1398.3 305.6,1396.9 306.3,1394.6 307.0,1399.6 307.7,1397.6 308.4,1397.6 309.1,1396.1 309.8,1398.7 310.5,1394.1 311.2,1395.8 311.9,1394.0 312.6,1394.3 313.3,1399.1 314.0,1395.4 314.7,1391.2 315.4,1388.8 316.1,1392.9 316.8,1392.2 317.5,1395.7 318.2,1396.8 318.9,1395.1 319.6,1395.8 320.3,1397.4 321.0,1399.8 321.7,1395.4 322.4,1400.6 323.1,1395.6 323.8,1401.1 324.5,1400.8 325.2,1397.8 325.9,1400.0 326.6,1402.2 327.3,1396.3 328.0,1400.5 328.7,1400.9 329.4,1398.4 330.1,1399.5 330.8,1396.5 331.5,1394.8 332.2,1396.0 332.9,1395.3 333.6,1396.9 334.3,1399.7 335.0,1397.9 335.7,1396.7 336.4,1396.5 337.1,1400.3 337.8,1397.8 338.5,1400.4 339.2,1396.4 339.9,1395.5 340.6,1398.8 341.3,1397.1 342.0,1395.4 342.7,1394.0 343.4,1397.8 344.1,1395.3 344.8,1398.1 345.5,1393.6 346.2,1396.6 346.9,1396.2 347.6,1398.6 348.3,1395.1 349.0,1398.7 349.7,1396.8 350.4,1395.3 351.1,1394.3 351.8,1395.9 352.5,1391.4 353.2,1392.4 353.9,1391.4 354.6,1389.7 355.3,1389.9 356.0,1394.2 356.7,1394.9 357.4,1390.9 358.1,1395.6 358.8,1395.3 359.5,1395.2 360.2,1395.1 360.9,1393.1 361.6,1396.1 362.3,1393.2 363.0,1393.7 363.7,1394.5 364.4,1390.2 365.1,1388.6 365.8,1390.4 366.5,1392.3 367.2,1392.8 367.9,1392.9 368.6,1390.1 369.3,1394.9 370.0,1394.2 370.7,1395.0 371.4,1393.2 372.1,1395.2 372.8,1389.8 373.5,1390.1 374.2,1390.8 374.9,1391.6 375.6,1392.2 376.3,1391.1 377.0,1393.0 377.7,1389.4 378.4,1394.2 379.1,1392.4 379.8,1394.9 380.5,1390.1 381.2,1391.9 381.9,1395.4 382.6,1392.7 383.3,1395.4 384.0,1394.8 384.7,1394.0 385.4,1392.0 386.1,1394.9 386.8,1391.7 387.5,1396.2 388.2,1396.4 388.9,1395.8 389.6,1389.0 390.3,1391.1 391.0,1389.4 391.7,1386.9 392.4,1388.1 393.1,1389.5 393.8,1387.1 394.5,1391.5 395.2,1391.7 395.9,1389.6 396.6,1393.0 397.3,1395.0 398.0,1390.2 398.7,1393.2 399.4,1394.1 400.1,1393.7 400.8,1390.4 401.5,1393.4 402.2,1392.4 402.9,1393.5 403.6,1392.6 404.3,1389.6 405.0,1391.9 405.7,1391.8 406.4,1391.9 407.1,1388.2 407.8,1386.1 408.5,1389.3 409.2,1386.8 409.9,1388.3 410.6,1392.1 411.3,1387.0 412.0,1387.8 412.7,1390.0 413.4,1390.8 414.1,1388.7 414.8,1390.8 415.5,1388.5 416.2,1392.8 416.9,1391.9 417.6,1390.3 418.3,1390.0 419.0,1389.6 419.7,1387.0 420.4,1387.3 421.1,1386.9 421.8,1388.6 422.5,1386.1 423.2,1389.9 423.9,1388.9 424.6,1386.3 425.3,1385.1 426.0,1389.4 426.7,1385.1 427.4,1386.2 428.1,1385.2 428.8,1385.2 429.5,1390.8 430.2,1387.3 430.9,1387.6 431.6,1390.8 432.3,1388.9 433.0,1386.8 433.7,1388.2 434.4,1392.3 435.1,1389.3 435.8,1391.4 436.5,1387.2 437.2,1391.3 437.9,1391.8 438.6,1393.3 439.3,1392.6 440.0,1389.8 440.7,1386.5 441.4,1389.2 442.1,1389.3 442.8,1384.1 443.5,1382.8 444.2,1386.2 444.9,1388.4 445.6,1389.8 446.3,1384.6 447.0,1385.6 447.7,1388.0 448.4,1386.5 449.1,1386.7 449.8,1388.1 450.5,1387.8 451.2,1387.3 451.9,1386.3 452.6,1384.8 453.3,1385.1 454.0,1383.0 454.7,1386.9 455.4,1387.2 456.1,1387.5 456.8,1386.1 457.5,1385.9 458.2,1387.0 458.9,1384.6 459.6,1390.6 460.3,1389.1 461.0,1387.3 461.7,1388.7 462.4,1389.0 463.1,1387.1 463.8,1389.6 464.5,1389.4 465.2,1385.7 465.9,1384.5 466.6,1387.8 467.3,1389.0 468.0,1383.5 468.7,1386.4 469.4,1385.6 470.1,1384.8 470.8,1379.7 471.5,1380.2 472.2,1384.5 472.9,1379.0 473.6,1380.1 474.3,1382.5 475.0,1380.8 475.7,1383.3 476.4,1380.6 477.1,1385.0 477.8,1380.3 478.5,1383.4 479.2,1379.1 479.9,1380.6 480.6,1377.2 481.3,1380.8 482.0,1380.3 482.7,1382.2 483.4,1381.1 484.1,1379.1 484.8,1384.9 485.5,1383.6 486.2,1384.8 486.9,1380.4 487.6,1379.4 488.3,1378.4 489.0,1378.3 489.7,1377.6 490.4,1380.1 491.1,1377.3 491.8,1378.2 492.5,1381.5 493.2,1379.7 493.9,1377.4 494.6,1379.4 495.3,1377.0 496.0,1377.1 496.7,1374.8 497.4,1375.7 498.1,1375.3 498.8,1374.0 499.5,1373.1 500.2,1374.5 500.9,1375.9 501.6,1372.2 502.3,1372.4 503.0,1372.2 503.7,1377.6 504.4,1378.5 505.0,1373.8 505.1,1377.6 505.8,1374.2 506.5,1375.9 507.2,1374.9 507.9,1377.9 508.6,1372.6 509.3,1374.2 510.0,1375.0 510.7,1372.3 511.4,1373.6 512.1,1375.3 512.8,1377.3 513.5,1377.7 514.2,1378.0 514.9,1377.5 515.6,1378.1 516.3,1379.3 517.0,1379.2 517.7,1379.9 518.4,1377.8 519.1,1378.0 519.8,1380.8 520.5,1377.6 521.2,1384.0 521.9,1380.7 522.6,1379.7 523.3,1383.5 524.0,1378.5 524.7,1380.0 525.4,1378.6 526.1,1384.1 526.8,1382.9 527.5,1383.6 528.2,1381.7 528.9,1385.1 529.6,1384.7 530.3,1385.5 531.0,1388.3 531.7,1384.2 532.4,1384.4 533.1,1385.8 533.8,1386.8 534.5,1383.3 535.2,1384.8 535.9,1381.9 536.6,1383.0 537.3,1383.9 538.0,1379.2 538.7,1382.9 539.4,1378.2 540.1,1383.9 540.8,1381.5 541.5,1382.5 542.2,1384.1 542.9,1384.8 543.6,1386.7 544.3,1383.6 545.0,1386.3 545.7,1384.6 546.4,1386.3 547.1,1381.0 547.8,1383.4 548.5,1383.8 549.2,1382.6 549.9,1379.1 550.6,1382.3 551.3,1379.0 552.0,1380.3 552.7,1384.2 553.4,1380.3 554.1,1380.9 554.8,1382.8 555.5,1382.0 556.2,1381.5 556.9,1382.9 557.6,1382.5 558.3,1383.9 559.0,1385.2 559.7,1383.3 560.4,1382.2 561.1,1382.0 561.8,1382.8 562.5,1381.4 563.2,1382.9 563.9,1380.2 564.6,1380.2 565.3,1381.7 566.0,1380.4 566.7,1381.1 567.4,1383.5 568.1,1380.1 568.8,1382.1 569.5,1381.2 570.2,1378.9 570.9,1380.2 571.6,1376.7 572.3,1379.7 573.0,1381.6 573.7,1379.2 574.4,1380.0 575.1,1381.4 575.8,1383.0 576.5,1381.6 577.2,1380.1 577.9,1379.2 578.6,1379.7 579.3,1379.1 580.0,1379.9 580.7,1382.7 581.4,1378.7 582.1,1378.0 582.8,1378.3 583.5,1380.1 584.2,1381.9 584.9,1381.7 585.6,1379.1 586.3,1379.1 587.0,1383.2 587.7,1380.6 588.4,1382.0 589.1,1377.6 589.8,1381.1 590.5,1377.1 591.2,1378.5 591.9,1377.0 592.6,1378.7 593.3,1380.7 594.0,1381.0 594.7,1379.3 595.4,1381.6 596.1,1380.1 596.8,1380.0 597.5,1380.6 598.2,1376.4 598.9,1374.6 599.6,1375.1 600.3,1376.7 601.0,1374.4 601.7,1379.3 602.4,1380.1 603.1,1377.9 603.8,1375.2 604.5,1379.5 605.2,1376.6 605.9,1379.3 606.6,1378.1 607.3,1378.9 608.0,1376.6 608.7,1377.3 609.4,1377.6 610.1,1378.1 610.8,1375.7 611.5,1380.2 612.2,1376.1 612.9,1376.2 613.6,1376.0 614.3,1375.0 615.0,1377.9 615.7,1380.3 616.4,1380.7 617.1,1377.6 617.8,1378.6 618.5,1381.4 619.2,1382.3 619.9,1378.9 620.6,1380.2 621.3,1377.7 622.0,1377.7 622.7,1378.1 623.4,1378.4 624.1,1376.6 624.8,1375.9 625.5,1376.6 626.2,1377.5 626.9,1376.0 627.6,1378.6 628.3,1379.4 629.0,1376.3 629.7,1376.9 630.4,1376.4 631.1,1375.9 631.8,1381.0 632.5,1375.2 633.2,1376.1 633.9,1375.8 634.6,1378.3 635.3,1375.4 636.0,1376.8 636.7,1373.8 637.4,1374.5 638.1,1376.8 638.8,1373.0 639.5,1375.4 640.2,1372.9 640.9,1372.1 641.6,1374.5 642.3,1370.6 643.0,1375.1 643.7,1375.6 644.4,1374.4 645.1,1370.0 645.8,1372.9 646.5,1373.5 647.2,1374.9 647.9,1371.8 648.6,1376.2 649.3,1375.6 650.0,1369.9 650.7,1371.0 651.4,1369.8 652.1,1374.1 652.8,1374.6 653.5,1374.9 654.2,1371.9 654.9,1372.3 655.6,1372.4 656.3,1371.3 657.0,1373.7 657.7,1372.2 658.4,1371.9 659.1,1372.6 659.8,1369.9 660.5,1373.9 661.2,1374.2 661.9,1373.2 662.6,1376.3 663.3,1376.4 664.0,1372.9 664.7,1370.3 665.4,1370.1 666.1,1369.9 666.8,1370.8 667.5,1370.8 668.2,1373.2 668.9,1370.3 669.6,1373.4 670.3,1372.1 671.0,1374.2 671.7,1373.0 672.4,1370.6 673.1,1374.5 673.8,1371.0 674.5,1370.9 675.2,1374.1 675.9,1374.4 676.6,1371.3 677.3,1371.3 678.0,1374.3 678.7,1370.8 679.4,1374.2 680.1,1371.6 680.8,1375.1 681.5,1370.2 682.2,1371.3 682.9,1368.8 683.6,1371.0 684.3,1373.7 685.0,1369.2 685.7,1370.5 686.4,1372.4 687.1,1371.7 687.8,1370.3 688.5,1373.5 689.2,1372.9 689.9,1376.1 690.6,1371.9 691.3,1373.0 692.0,1371.8 692.7,1372.4 693.4,1370.4 694.1,1372.9 694.8,1371.6 695.5,1369.4 696.2,1367.8 696.9,1373.1 697.6,1372.2 698.3,1369.4 699.0,1372.8 699.7,1369.7 700.4,1371.0 701.1,1374.6 701.8,1371.5 702.5,1369.7 703.2,1370.3 703.9,1369.4 704.6,1370.3 705.3,1370.8 706.0,1370.9 706.7,1369.7 707.4,1371.2 708.1,1370.6 708.8,1373.8 709.5,1374.8 710.2,1371.5 710.9,1373.3 711.6,1373.2 712.3,1370.1 713.0,1370.1 713.7,1374.3 714.4,1371.4 715.1,1373.4 715.8,1368.7 716.5,1370.8 717.2,1372.6 717.9,1372.8 718.6,1366.8 719.3,1371.2 720.0,1370.7 720.7,1373.5 721.4,1369.8 722.1,1371.4 722.8,1374.9 723.5,1373.8 724.2,1372.9 724.9,1376.8 725.6,1372.5 726.3,1370.3 727.0,1372.4 727.7,1370.7 728.4,1371.4 729.1,1374.4 729.8,1375.9 730.5,1374.9 731.2,1375.0 731.9,1371.7 732.6,1373.7 733.3,1374.9 734.0,1374.0 734.7,1374.6 735.4,1374.1 736.1,1372.2 736.8,1374.3 737.5,1373.2 738.2,1371.8 738.9,1374.4 739.6,1375.3 740.3,1371.1 741.0,1372.5 741.7,1373.9 742.4,1372.8 743.1,1371.7 743.8,1373.0 744.5,1374.0 745.2,1375.4 745.9,1375.0 746.6,1372.3 747.3,1376.9 748.0,1376.8 748.7,1370.3 749.4,1371.7 750.1,1370.7 750.8,1375.1 751.5,1375.0 752.2,1370.1 752.9,1371.8 753.6,1371.5 754.3,1372.7 755.0,1376.2 755.7,1370.6 756.4,1371.7 757.1,1373.3 757.8,1374.0 758.5,1373.8 759.2,1372.1 759.9,1369.0 760.6,1371.4 761.3,1373.9 762.0,1372.1 762.7,1367.3 763.4,1372.3 764.1,1368.2 764.8,1372.1 765.5,1367.0 766.2,1372.0 766.9,1367.0 767.6,1370.0 768.3,1371.7 769.0,1372.1 769.7,1369.0 770.4,1369.5 771.1,1370.1 771.8,1369.1 772.5,1371.9 773.2,1371.8 773.9,1373.5 774.6,1372.7 775.3,1373.2 776.0,1372.3 776.7,1370.2 777.4,1371.7 778.1,1374.1 778.8,1369.9 779.5,1371.6 780.2,1372.4 780.9,1370.8 781.6,1374.4 782.3,1373.3 783.0,1369.9 783.7,1373.1 784.4,1370.6 785.1,1369.0 785.8,1368.3 786.5,1371.7 787.2,1374.9 787.9,1369.6 788.6,1371.7 789.3,1370.6 790.0,1368.9 790.7,1374.4 791.4,1373.6 792.1,1370.8 792.8,1374.8 793.5,1369.9 794.2,1370.7 794.9,1372.1 795.6,1374.6 796.3,1370.1 797.0,1374.7 797.7,1372.2 798.4,1369.1 799.1,1372.3 799.8,1370.9 800.5,1370.6 801.2,1372.5 801.9,1372.4 802.6,1373.6 803.3,1368.4 804.0,1372.9 804.7,1370.4 805.4,1373.3 806.1,1374.3 806.8,1375.1 807.5,1371.2 808.2,1372.7 808.9,1376.1 809.6,1376.7 810.3,1374.4 811.0,1378.5 811.7,1374.7 812.4,1373.1 813.1,1374.5 813.8,1371.2 814.5,1372.4 815.2,1372.2 815.9,1372.3 816.6,1369.9 817.3,1369.1 818.0,1373.7 818.7,1372.1 819.4,1372.9 820.1,1373.1 820.8,1369.9 821.5,1370.9 822.2,1371.7 822.9,1371.3 823.6,1372.7 824.3,1369.5 825.0,1368.9 825.7,1370.5 826.4,1367.5 827.1,1366.5 827.8,1369.2 828.5,1370.4 829.2,1368.9 829.9,1372.2 830.6,1369.3 831.3,1372.6 832.0,1372.9 832.7,1371.5 833.4,1372.5 834.1,1374.8 834.8,1374.3 835.5,1371.4 836.2,1374.0 836.9,1369.7 837.6,1373.6 838.3,1369.4 839.0,1369.4 839.7,1367.9 840.4,1372.8 841.1,1368.3 841.8,1368.9 842.5,1371.1 843.2,1370.4 843.9,1366.3 844.6,1368.3 845.3,1368.7 846.0,1371.1 846.7,1368.6 847.4,1368.2 848.1,1366.3 848.8,1365.9 849.5,1369.1 850.2,1365.8 850.9,1366.4 851.6,1367.1 852.3,1364.8 853.0,1364.6 853.7,1368.5 854.4,1364.6 855.1,1362.5 855.8,1365.4 856.5,1360.7 857.2,1362.2 857.9,1365.0 858.6,1362.6 859.3,1359.7 860.0,1356.4 860.7,1356.7 861.4,1354.7 862.1,1354.3 862.8,1350.6 863.5,1347.3 864.2,1346.3 864.9,1343.8 865.6,1343.9 866.3,1346.8 867.0,1341.9 867.7,1339.2 868.4,1335.5 869.1,1336.5 869.8,1333.6 870.5,1330.6 871.2,1327.7 871.9,1322.1 872.6,1319.3 873.3,1317.0 874.0,1315.4 874.7,1311.3 875.4,1307.0 876.1,1303.3 876.8,1297.7 877.5,1298.4 878.2,1290.6 878.9,1287.9 879.6,1289.2 880.3,1287.8 881.0,1285.5 881.7,1282.7 882.4,1279.5 883.0,1278.3 883.1,1283.4 883.8,1285.6 884.5,1282.7 885.2,1287.2 885.9,1286.5 886.6,1287.8 887.3,1291.2 888.0,1291.5 888.7,1297.4 889.4,1298.9 890.1,1304.5 890.8,1307.9 891.5,1312.9 892.2,1316.1 892.9,1317.2 893.6,1320.9 894.3,1327.6 895.0,1328.6 895.7,1330.4 896.4,1332.9 897.1,1340.7 897.8,1341.3 898.5,1341.2 899.2,1345.6 899.9,1347.3 900.6,1349.1 901.3,1353.9 902.0,1355.6 902.7,1352.0 903.4,1352.4 904.1,1355.0 904.8,1358.7 905.5,1358.2 906.2,1359.4 906.9,1358.9 907.6,1357.2 908.3,1360.8 909.0,1357.5 909.7,1362.0 910.4,1359.2 911.1,1361.3 911.8,1365.1 912.5,1363.7 913.2,1360.4 913.9,1362.9 914.6,1364.6 915.3,1361.1 916.0,1362.9 916.7,1362.1 917.4,1365.9 918.1,1365.2 918.8,1366.7 919.5,1367.3 920.2,1370.4 920.9,1367.9 921.6,1372.1 922.3,1372.7 923.0,1370.2 923.7,1370.0 924.4,1373.1 925.1,1368.2 925.8,1371.3 926.5,1367.7 927.2,1371.2 927.9,1369.5 928.6,1371.3 929.3,1373.6 930.0,1368.5 930.7,1373.0 931.4,1372.2 932.1,1371.1 932.8,1371.2 933.5,1368.0 934.2,1369.9 934.9,1371.7 935.6,1368.9 936.3,1371.8 937.0,1372.3 937.7,1371.6 938.4,1371.1 939.1,1371.0 939.8,1368.3 940.5,1372.1 941.2,1368.4 941.9,1371.8 942.6,1373.0 943.3,1372.2 944.0,1371.4 944.7,1369.6 945.4,1371.6 946.1,1369.8 946.8,1369.9 947.5,1369.1 948.2,1374.2 948.9,1373.7 949.6,1368.1 950.3,1368.0 951.0,1369.4 951.7,1368.8 952.4,1370.6 953.1,1372.5 953.8,1371.5 954.5,1370.5 955.2,1369.1 955.9,1372.2 956.6,1369.5 957.3,1368.4 958.0,1367.8 958.7,1369.5 959.4,1366.4 960.1,1369.7 960.8,1367.3 961.5,1371.2 962.2,1367.9 962.9,1368.4 963.6,1370.9 964.3,1370.3 965.0,1367.1 965.7,1365.5 966.4,1370.2 967.1,1365.1 967.8,1366.7 968.5,1371.4 969.2,1365.6 969.9,1367.0 970.6,1366.6 971.3,1366.0 972.0,1368.4 972.7,1368.6 973.4,1367.0 974.1,1364.9 974.8,1369.4 975.5,1369.9 976.2,1369.1 976.9,1367.3 977.6,1369.6 978.3,1370.8 979.0,1369.6 979.7,1371.3 980.4,1369.1 981.1,1370.0 981.8,1368.1 982.5,1371.4 983.2,1371.8 983.9,1371.3 984.6,1368.5 985.3,1373.2 986.0,1371.8 986.7,1369.1 987.4,1368.6 988.1,1369.5 988.8,1364.8 989.5,1366.6 990.2,1367.4 990.9,1365.0 991.6,1367.4 992.3,1364.1 993.0,1364.2 993.7,1363.1 994.4,1366.8 995.1,1362.8 995.8,1365.4 996.5,1361.8 997.2,1365.4 997.9,1365.0 998.6,1359.6 999.3,1365.6 1000.0,1362.1 1000.7,1358.5 1001.4,1360.8 1002.1,1357.7 1002.8,1362.7 1003.5,1359.3 1004.2,1360.2 1004.9,1360.5 1005.6,1360.7 1006.3,1361.2 1007.0,1362.3 1007.7,1358.0 1008.4,1359.5 1009.1,1355.1 1009.8,1357.4 1010.5,1359.4 1011.2,1352.1 1011.9,1357.0 1012.6,1355.4 1013.3,1352.5 1014.0,1354.9 1014.7,1350.3 1015.4,1353.3 1016.1,1348.2 1016.8,1348.3 1017.5,1351.4 1018.2,1348.1 1018.9,1345.1 1019.6,1345.2 1020.3,1341.7 1021.0,1341.9 1021.7,1340.1 1022.4,1338.0 1023.1,1330.8 1023.8,1331.6 1024.5,1330.4 1025.2,1323.7 1025.9,1321.1 1026.6,1314.4 1027.3,1313.2 1028.0,1307.0 1028.7,1302.3 1029.4,1296.0 1030.1,1289.8 1030.8,1280.3 1031.5,1275.4 1032.2,1266.1 1032.9,1258.1 1033.6,1249.1 1034.3,1240.1 1035.0,1230.6 1035.7,1220.8 1036.4,1208.0 1037.1,1197.4 1037.8,1186.5 1038.5,1175.8 1039.2,1163.0 1039.9,1150.7 1040.6,1138.8 1041.3,1126.4 1042.0,1113.6 1042.7,1101.3 1043.4,1090.3 1044.1,1079.4 1044.8,1068.5 1045.5,1057.8 1046.2,1050.1 1046.9,1042.7 1047.6,1037.3 1048.3,1032.7 1049.0,1030.0 1049.7,1026.2 1050.0,1026.8 1050.4,1027.7 1051.1,1031.3 1051.8,1033.8 1052.5,1037.7 1053.2,1044.3 1053.9,1050.8 1054.6,1061.3 1055.3,1069.2 1056.0,1079.2 1056.7,1092.0 1057.4,1102.2 1058.1,1115.2 1058.8,1127.2 1059.5,1139.6 1060.2,1150.6 1060.9,1163.7 1061.6,1174.9 1062.3,1189.1 1063.0,1200.9 1063.7,1211.4 1064.4,1221.7 1065.1,1233.8 1065.8,1242.3 1066.5,1250.8 1067.2,1260.2 1067.9,1267.7 1068.6,1276.2 1069.3,1284.7 1070.0,1292.3 1070.7,1298.3 1071.4,1301.6 1072.1,1308.1 1072.8,1312.9 1073.5,1320.3 1074.2,1320.3 1074.9,1325.8 1075.6,1329.8 1076.3,1329.1 1077.0,1330.4 1077.7,1333.4 1078.4,1333.9 1079.1,1339.6 1079.8,1336.1 1080.5,1338.7 1081.2,1339.3 1081.9,1345.1 1082.6,1344.1 1083.3,1349.6 1084.0,1351.3 1084.7,1352.8 1085.4,1348.8 1086.1,1347.0 1086.8,1349.1 1087.5,1352.1 1088.2,1350.7 1088.9,1346.6 1089.6,1349.7 1090.3,1351.2 1091.0,1352.2 1091.7,1350.7 1092.4,1352.8 1093.1,1352.8 1093.8,1349.7 1094.5,1347.9 1095.2,1351.6 1095.9,1347.8 1096.6,1349.6 1097.3,1352.5 1098.0,1349.1 1098.7,1348.6 1099.4,1352.5 1100.0,1348.9 1100.1,1353.7 1100.8,1353.4 1101.5,1350.5 1102.2,1349.5 1102.9,1348.9 1103.6,1355.5 1104.3,1350.9 1105.0,1350.4 1105.7,1355.8 1106.4,1354.0 1107.1,1355.8 1107.8,1357.4 1108.5,1354.5 1109.2,1354.8 1109.9,1357.3 1110.6,1355.4 1111.3,1359.3 1112.0,1361.8 1112.7,1362.2 1113.4,1361.7 1114.1,1358.5 1114.8,1359.5 1115.5,1365.3 1116.2,1361.0 1116.9,1364.8 1117.6,1360.8 1118.3,1366.5 1119.0,1362.9 1119.7,1364.9 1120.4,1365.5 1121.1,1367.7 1121.8,1368.4 1122.5,1367.4 1123.2,1365.6 1123.9,1364.2 1124.6,1368.9 1125.3,1369.8 1126.0,1365.5 1126.7,1371.8 1127.4,1368.0 1128.1,1370.4 1128.8,1370.7 1129.5,1371.1 1130.2,1374.5 1130.9,1371.7 1131.6,1370.8 1132.3,1371.5 1133.0,1369.0 1133.7,1368.2 1134.4,1369.1 1135.1,1370.4 1135.8,1369.3 1136.5,1368.2 1137.2,1369.0 1137.9,1369.9 1138.6,1370.4 1139.3,1376.1 1140.0,1376.1 1140.7,1371.4 1141.4,1372.9 1142.1,1374.2 1142.8,1371.3 1143.5,1372.5 1144.2,1373.0 1144.9,1374.5 1145.6,1375.1 1146.3,1370.6 1147.0,1375.6 1147.7,1374.2 1148.4,1375.8 1149.1,1374.7 1149.8,1374.5 1150.5,1371.5 1151.2,1374.0 1151.9,1371.1 1152.6,1371.5 1153.3,1371.9 1154.0,1368.8 1154.7,1367.1 1155.4,1371.4 1156.1,1372.9 1156.8,1372.3 1157.5,1369.9 1158.2,1372.9 1158.9,1371.1 1159.6,1377.0 1160.3,1375.6 1161.0,1375.4 1161.7,1373.3 1162.4,1371.5 1163.1,1374.2 1163.8,1372.3 1164.5,1374.5 1165.2,1372.7 1165.9,1370.3 1166.6,1372.9 1167.3,1373.7 1168.0,1375.7 1168.7,1375.8 1169.4,1371.4 1170.1,1373.5 1170.8,1367.3 1171.5,1368.4 1172.2,1369.1 1172.9,1370.3 1173.6,1371.9 1174.3,1372.8 1175.0,1374.5 1175.7,1373.7 1176.4,1374.6 1177.1,1373.6 1177.8,1374.3 1178.5,1372.4 1179.2,1374.1 1179.9,1373.9 1180.6,1374.6 1181.3,1371.4 1182.0,1373.1 1182.7,1372.0 1183.4,1372.3 1184.1,1370.4 1184.8,1373.7 1185.5,1374.7 1186.2,1371.4 1186.9,1369.7 1187.6,1372.2 1188.3,1369.9 1189.0,1373.7 1189.7,1369.4 1190.4,1370.6 1191.1,1371.5 1191.8,1369.5 1192.5,1370.5 1193.2,1370.0 1193.9,1372.8 1194.6,1373.4 1195.3,1369.0 1196.0,1371.4 1196.7,1368.4 1197.4,1371.2 1198.1,1371.2 1198.8,1371.2 1199.5,1374.6 1200.2,1374.1 1200.9,1370.7 1201.6,1371.9 1202.3,1375.0 1203.0,1375.9 1203.7,1373.5 1204.4,1374.6 1205.1,1374.5 1205.8,1373.1 1206.5,1372.6 1207.2,1370.7 1207.9,1372.2 1208.6,1373.7 1209.3,1374.8 1210.0,1371.2 1210.7,1371.9 1211.4,1369.6 1212.1,1373.1 1212.8,1372.6 1213.5,1374.1 1214.2,1370.5 1214.9,1373.4 1215.6,1373.4 1216.3,1371.9 1217.0,1370.9 1217.7,1372.7 1218.4,1375.2 1219.1,1371.0 1219.8,1370.8 1220.5,1373.6 1221.2,1371.9 1221.9,1375.7 1222.6,1375.7 1223.3,1376.0 1224.0,1375.0 1224.7,1373.8 1225.4,1370.7 1226.1,1376.3 1226.8,1377.9 1227.5,1377.1 1228.2,1375.5 1228.9,1374.8 1229.6,1371.2 1230.3,1372.7 1231.0,1371.7 1231.7,1371.3 1232.4,1371.1 1233.1,1369.5 1233.8,1369.8 1234.5,1369.3 1235.2,1369.6 1235.9,1371.2 1236.6,1370.0 1237.3,1369.0 1238.0,1371.1 1238.7,1365.6 1239.4,1367.5 1240.1,1367.3 1240.8,1369.1 1241.5,1372.9 1242.2,1368.3 1242.9,1372.0 1243.6,1372.9 1244.3,1370.3 1245.0,1373.0 1245.7,1371.4 1246.4,1370.1 1247.1,1370.8 1247.8,1369.2 1248.5,1369.1 1249.2,1368.9 1249.9,1372.3 1250.6,1367.6 1251.3,1366.8 1252.0,1369.3 1252.7,1364.8 1253.4,1370.0 1254.1,1368.6 1254.8,1367.5 1255.5,1366.7 1256.2,1365.6 1256.9,1364.4 1257.6,1363.8 1258.3,1365.3 1259.0,1364.4 1259.7,1367.0 1260.4,1364.3 1261.1,1366.2 1261.8,1363.7 1262.5,1358.8 1263.2,1361.2 1263.9,1357.5 1264.6,1356.0 1265.3,1360.4 1266.0,1355.5 1266.7,1352.9 1267.4,1350.9 1268.1,1353.5 1268.8,1351.4 1269.5,1347.7 1270.2,1350.7 1270.9,1346.3 1271.6,1348.1 1272.3,1344.3 1273.0,1343.2 1273.7,1340.6 1274.4,1339.1 1275.1,1338.3 1275.8,1334.2 1276.5,1327.7 1277.2,1327.0 1277.9,1322.9 1278.6,1318.5 1279.3,1315.4 1280.0,1313.0 1280.7,1313.6 1281.4,1309.4 1282.1,1307.2 1282.8,1303.3 1283.5,1298.7 1284.2,1296.0 1284.9,1294.3 1285.6,1291.2 1286.3,1289.5 1287.0,1289.3 1287.7,1284.6 1288.4,1284.4 1289.1,1285.7 1289.6,1285.5 1289.8,1283.9 1290.5,1284.3 1291.2,1281.2 1291.9,1283.6 1292.6,1286.0 1293.3,1287.4 1294.0,1292.7 1294.7,1295.9 1295.4,1297.3 1296.1,1297.2 1296.8,1303.0 1297.5,1307.7 1298.2,1311.3 1298.9,1313.4 1299.6,1315.5 1300.3,1317.8 1301.0,1322.4 1301.7,1327.2 1302.4,1328.4 1303.1,1329.0 1303.8,1331.9 1304.5,1335.2 1305.2,1341.1 1305.9,1342.6 1306.6,1346.9 1307.3,1343.2 1308.0,1346.5 1308.7,1350.9 1309.4,1352.5 1310.1,1350.5 1310.8,1356.2 1311.5,1359.8 1312.2,1363.3 1312.9,1360.9 1313.6,1359.5 1314.3,1363.9 1315.0,1362.2 1315.7,1363.5 1316.4,1362.5 1317.1,1358.5 1317.8,1360.8 1318.5,1359.8 1319.2,1361.7 1319.9,1361.8 1320.6,1363.4 1321.3,1363.1 1322.0,1364.2 1322.7,1367.9 1323.4,1364.6 1324.1,1365.1 1324.8,1369.1 1325.5,1368.1 1326.2,1368.5 1326.9,1367.6 1327.6,1366.8 1328.3,1363.0 1329.0,1367.1 1329.7,1367.7 1330.4,1366.5 1331.1,1366.0 1331.8,1370.9 1332.5,1367.5 1333.2,1369.7 1333.9,1372.0 1334.6,1372.8 1335.3,1374.5 1336.0,1371.8 1336.7,1373.4 1337.4,1371.6 1338.1,1370.4 1338.8,1371.7 1339.5,1370.3 1340.2,1372.6 1340.9,1372.9 1341.6,1368.0 1342.3,1369.5 1343.0,1370.1 1343.7,1370.2 1344.4,1372.5 1345.1,1371.7 1345.8,1372.6 1346.5,1371.9 1347.2,1370.1 1347.9,1368.4 1348.6,1369.8 1349.3,1368.8 1350.0,1374.5 1350.7,1371.4 1351.4,1370.6 1352.1,1371.0 1352.8,1370.2 1353.5,1374.1 1354.2,1368.7 1354.9,1369.4 1355.6,1373.3 1356.3,1372.9 1357.0,1372.2 1357.7,1372.9 1358.4,1371.3 1359.1,1375.2 1359.8,1373.8 1360.5,1373.1 1361.2,1371.1 1361.9,1372.1 1362.6,1373.9 1363.3,1373.6 1364.0,1371.6 1364.7,1374.7 1365.4,1375.3 1366.1,1374.2 1366.8,1374.3 1367.5,1374.7 1368.2,1375.1 1368.9,1375.6 1369.6,1375.2 1370.3,1374.1 1371.0,1377.4 1371.7,1375.4 1372.4,1375.5 1373.1,1377.7 1373.8,1378.1 1374.5,1378.3 1375.2,1377.9 1375.9,1376.8 1376.6,1375.6 1377.3,1371.8 1378.0,1375.5 1378.7,1373.1 1379.4,1372.6 1380.1,1371.2 1380.8,1372.5 1381.5,1370.1 1382.2,1374.5 1382.9,1375.7 1383.6,1376.1 1384.3,1372.0 1385.0,1374.9 1385.7,1375.8 1386.4,1371.0 1387.1,1371.1 1387.8,1371.0 1388.5,1370.2 1389.2,1370.3 1389.9,1374.2 1390.6,1374.7 1391.3,1376.8 1392.0,1377.3 1392.7,1378.5 1393.4,1375.9 1394.1,1378.6 1394.8,1378.5 1395.5,1378.7 1396.2,1374.9 1396.9,1380.5 1397.6,1377.9 1398.3,1375.0 1399.0,1376.0 1399.7,1376.6 1400.4,1377.0 1401.1,1375.4 1401.8,1375.2 1402.5,1375.6 1403.2,1377.5 1403.9,1375.5 1404.6,1374.6 1405.3,1377.8 1406.0,1376.7 1406.7,1375.2 1407.4,1380.6 1408.1,1376.9 1408.8,1378.0 1409.5,1377.3 1410.2,1375.3 1410.9,1379.5 1411.6,1378.9 1412.3,1374.2 1413.0,1376.2 1413.7,1376.6 1414.4,1374.2 1415.1,1376.7 1415.8,1376.5 1416.5,1376.2 1417.2,1376.0 1417.9,1372.3 1418.6,1373.1 1419.3,1374.3 1420.0,1374.8 1420.7,1373.1 1421.4,1373.2 1422.1,1375.9 1422.8,1372.1 1423.5,1372.6 1424.2,1373.1 1424.9,1378.3 1425.6,1373.5 1426.3,1372.7 1427.0,1375.3 1427.7,1377.4 1428.4,1375.2 1429.1,1378.6 1429.8,1375.9 1430.5,1378.9 1431.2,1375.1 1431.9,1379.7 1432.6,1375.6 1433.3,1379.2 1434.0,1379.3 1434.7,1375.7 1435.4,1374.8 1436.1,1376.8 1436.8,1376.8 1437.5,1376.0 1438.2,1377.2 1438.9,1376.0 1439.6,1375.8 1440.3,1376.7 1441.0,1374.7 1441.7,1373.1 1442.4,1371.4 1443.1,1371.3 1443.8,1372.1 1444.5,1372.9 1445.2,1376.5 1445.9,1373.7 1446.6,1374.4 1447.3,1377.6 1448.0,1376.6 1448.7,1375.9 1449.4,1377.3 1450.1,1377.9 1450.8,1378.6 1451.5,1380.2 1452.2,1379.6 1452.9,1376.6 1453.6,1376.1 1454.3,1375.5 1455.0,1374.8 1455.7,1378.0 1456.4,1373.4 1457.1,1374.9 1457.8,1377.5 1458.5,1376.0 1459.2,1373.6 1459.9,1377.2 1460.6,1374.8 1461.3,1376.0 1462.0,1372.3 1462.7,1376.3 1463.4,1371.5 1464.1,1373.8 1464.8,1377.3 1465.5,1377.6 1466.2,1377.6 1466.9,1376.6 1467.6,1372.9 1468.3,1372.9 1469.0,1375.9 1469.7,1373.0 1470.4,1378.3 1471.1,1371.4 1471.8,1373.3 1472.5,1372.5 1473.2,1371.7 1473.9,1373.7 1474.6,1370.5 1475.3,1375.1 1476.0,1374.8 1476.7,1373.3 1477.4,1377.1 1478.1,1376.7 1478.8,1373.5 1479.5,1376.9 1480.2,1378.3 1480.9,1377.1 1481.6,1375.3 1482.3,1378.7 1483.0,1379.2 1483.7,1375.1 1484.4,1373.9 1485.1,1379.7 1485.8,1377.9 1486.5,1375.7 1487.2,1378.4 1487.9,1376.5 1488.6,1379.4 1489.3,1375.1 1490.0,1374.5 1490.7,1374.2 1491.4,1375.9 1492.1,1380.3 1492.8,1375.1 1493.5,1376.1 1494.2,1379.5 1494.9,1373.4 1495.6,1376.4 1496.3,1378.9 1497.0,1374.1 1497.7,1378.1 1498.4,1376.7 1499.1,1371.6 1499.8,1374.2 1500.5,1373.7 1501.2,1374.5 1501.9,1370.9 1502.6,1371.3 1503.3,1370.1 1504.0,1370.5 1504.7,1371.5 1505.4,1377.3 1506.1,1377.1 1506.8,1373.6 1507.5,1375.9 1508.2,1374.3 1508.9,1373.9 1509.6,1374.8 1510.3,1378.4 1511.0,1373.5 1511.7,1374.2 1512.4,1375.3 1513.1,1372.5 1513.8,1374.9 1514.5,1370.8 1515.2,1374.0 1515.9,1374.2 1516.6,1374.5 1517.3,1375.9 1518.0,1374.7 1518.7,1377.2 1519.4,1372.7 1520.1,1375.3 1520.8,1373.2 1521.5,1372.7 1522.2,1374.8 1522.9,1375.7 1523.6,1375.6 1524.3,1370.7 1525.0,1376.5 1525.7,1372.9 1526.4,1371.6 1527.1,1375.7 1527.8,1376.9 1528.5,1376.8 1529.2,1375.8 1529.9,1376.6 1530.6,1378.3 1531.3,1374.6 1532.0,1377.1 1532.7,1378.6 1533.4,1376.4 1534.1,1377.9 1534.8,1374.5 1535.5,1375.2 1536.2,1374.3 1536.9,1374.5 1537.6,1378.1 1538.3,1379.1 1539.0,1378.2 1539.7,1375.0 1540.4,1379.5 1541.1,1378.1 1541.8,1373.8 1542.5,1379.3 1543.2,1377.2 1543.9,1373.8 1544.6,1378.1 1545.3,1374.0 1546.0,1376.7 1546.7,1377.6 1547.4,1376.9 1548.1,1372.4 1548.8,1377.7 1549.5,1376.2 1550.2,1377.1 1550.9,1373.2 1551.6,1377.4 1552.3,1377.6 1553.0,1374.7 1553.7,1376.0 1554.4,1376.5 1555.1,1373.8 1555.8,1374.4 1556.5,1374.0 1557.2,1372.2 1557.9,1376.5 1558.6,1374.1 1559.3,1374.5 1560.0,1372.1 1560.7,1371.6 1561.4,1374.1 1562.1,1372.9 1562.8,1375.2 1563.5,1374.2 1564.2,1374.9 1564.9,1377.7 1565.6,1374.1 1566.3,1375.8 1567.0,1377.0 1567.7,1372.5 1568.4,1377.8 1569.1,1374.7 1569.8,1373.6 1570.5,1375.9 1571.2,1375.1 1571.9,1373.9 1572.6,1375.1 1573.3,1369.7 1574.0,1373.5 1574.7,1375.9 1575.4,1377.8 1576.1,1376.3 1576.8,1376.4 1577.5,1376.3 1578.2,1376.9 1578.9,1376.1 1579.6,1377.3 1580.3,1377.2 1581.0,1375.5 1581.7,1376.2 1582.4,1370.7 1583.1,1374.2 1583.8,1371.9 1584.5,1372.8 1585.2,1369.4 1585.9,1371.2 1586.6,1372.7 1587.3,1368.2 1588.0,1369.7 1588.7,1370.2 1589.4,1373.2 1590.1,1368.5 1590.8,1371.9 1591.5,1367.7 1592.2,1366.5 1592.9,1367.6 1593.6,1367.0 1594.3,1367.0 1595.0,1366.7 1595.7,1360.0 1596.4,1361.4 1597.1,1358.7 1597.8,1357.2 1598.5,1358.8 1599.2,1358.3 1599.9,1354.2 1600.6,1355.9 1601.3,1349.5 1602.0,1349.4 1602.7,1350.7 1603.4,1347.8 1604.1,1347.2 1604.8,1345.5 1605.5,1342.5 1606.2,1344.4 1606.9,1342.0 1607.6,1337.4 1608.3,1336.2 1609.0,1338.1 1609.7,1336.5 1610.4,1334.1 1611.1,1330.5 1611.8,1328.0 1612.5,1327.2 1613.2,1325.3 1613.9,1325.0 1614.6,1322.3 1615.3,1322.2 1616.0,1322.8 1616.7,1320.2 1616.8,1323.0 1617.4,1324.2 1618.1,1323.6 1618.8,1325.6 1619.5,1326.1 1620.2,1325.0 1620.9,1326.8 1621.6,1325.5 1622.3,1329.3 1623.0,1327.1 1623.7,1329.5 1624.4,1334.3 1625.1,1333.7 1625.8,1335.8 1626.5,1339.6 1627.2,1338.3 1627.9,1342.6 1628.6,1340.2 1629.3,1344.1 1630.0,1346.3 1630.7,1348.0 1631.4,1353.9 1632.1,1349.4 1632.8,1353.1 1633.5,1356.5 1634.2,1359.5 1634.9,1361.6 1635.6,1359.6 1636.3,1359.5 1637.0,1364.1 1637.7,1360.2 1638.4,1361.8 1639.1,1365.2 1639.8,1368.0 1640.5,1371.4 1641.2,1370.7 1641.9,1371.7 1642.6,1370.2 1643.3,1371.2 1644.0,1371.0 1644.7,1368.5 1645.4,1366.1 1646.1,1367.3 1646.8,1370.7 1647.5,1370.3 1648.2,1370.3 1648.9,1366.1 1649.6,1372.0 1650.3,1369.2 1651.0,1373.3 1651.7,1370.8 1652.4,1369.8 1653.1,1372.0 1653.8,1370.4 1654.5,1371.4 1655.2,1369.8 1655.9,1372.9 1656.6,1370.9 1657.3,1368.9 1658.0,1369.7 1658.7,1373.0 1659.4,1370.7 1660.1,1374.2 1660.8,1370.4 1661.5,1369.6 1662.2,1374.4 1662.9,1370.8 1663.6,1371.9 1664.3,1370.5 1665.0,1369.7 1665.7,1371.5 1666.4,1373.7 1667.1,1369.5 1667.8,1373.9 1668.5,1374.6 1669.2,1371.7 1669.9,1369.8 1670.6,1367.4 1671.3,1366.0 1672.0,1366.1 1672.7,1368.9 1673.4,1362.7 1674.1,1367.1 1674.8,1367.1 1675.5,1362.8 1676.2,1363.0 1676.9,1367.5 1677.6,1366.5 1678.3,1363.8 1679.0,1367.5 1679.7,1364.2 1680.4,1365.4 1681.1,1362.7 1681.8,1365.0 1682.5,1361.7 1683.2,1361.7 1683.9,1365.5 1684.6,1364.1 1685.3,1363.6 1686.0,1362.7 1686.7,1361.5 1687.4,1358.9 1688.1,1361.4 1688.8,1357.1 1689.5,1357.0 1690.2,1358.1 1690.9,1355.3 1691.6,1355.2 1692.3,1357.2 1693.0,1356.0 1693.7,1353.1 1694.4,1353.4 1695.1,1351.4 1695.8,1352.2 1696.5,1351.7 1697.2,1353.2 1697.9,1347.1 1698.6,1352.7 1699.3,1353.1 1700.0,1347.9 1700.7,1348.2 1701.4,1347.2 1702.1,1344.9 1702.8,1340.8 1703.5,1340.4 1704.2,1339.7 1704.9,1333.7 1705.6,1332.8 1706.3,1328.1 1707.0,1329.7 1707.7,1326.9 1708.4,1320.8 1709.1,1321.6 1709.8,1319.2 1710.5,1313.5 1711.2,1311.4 1711.9,1309.0 1712.6,1303.8 1713.3,1300.7 1714.0,1298.2 1714.7,1291.9 1715.4,1286.3 1716.1,1279.4 1716.8,1274.8 1717.5,1273.1 1718.2,1266.9 1718.9,1261.6 1719.6,1255.1 1720.3,1249.7 1721.0,1244.2 1721.7,1239.8 1722.4,1233.2 1723.1,1229.4 1723.8,1223.6 1724.5,1221.7 1725.2,1215.7 1725.9,1212.3 1726.6,1211.5 1727.3,1212.0 1728.0,1216.7 1728.0,1215.7 1728.7,1215.4 1729.4,1214.6 1730.1,1214.3 1730.8,1219.3 1731.5,1224.6 1732.2,1225.8 1732.9,1230.1 1733.6,1234.0 1734.3,1237.5 1735.0,1244.4 1735.7,1250.2 1736.4,1255.3 1737.1,1260.0 1737.8,1266.8 1738.5,1271.7 1739.2,1278.1 1739.9,1281.8 1740.6,1289.1 1741.3,1292.0 1742.0,1296.1 1742.7,1302.1 1743.4,1305.6 1744.1,1309.8 1744.8,1311.1 1745.5,1315.7 1746.2,1316.6 1746.9,1322.6 1747.6,1325.6 1748.3,1327.5 1749.0,1330.3 1749.7,1331.8 1750.4,1334.0 1751.1,1333.4 1751.8,1341.0 1752.5,1341.5 1753.2,1340.2 1753.9,1341.1 1754.6,1344.1 1755.3,1347.3 1756.0,1344.3 1756.7,1350.9 1757.4,1348.2 1758.1,1353.1 1758.8,1354.4 1759.5,1353.0 1760.2,1354.4 1760.9,1353.7 1761.6,1353.9 1762.3,1358.4 1763.0,1359.9 1763.7,1361.5 1764.4,1358.9 1765.1,1362.2 1765.8,1358.3 1766.5,1362.6 1767.2,1363.5 1767.9,1359.4 1768.6,1363.9 1769.3,1362.8 1770.0,1362.9 1770.7,1365.3 1771.4,1364.0 1772.1,1365.6 1772.8,1365.4 1773.5,1369.3 1774.2,1370.7 1774.9,1367.1 1775.6,1372.6 1776.3,1370.2 1777.0,1369.2 1777.7,1369.2 1778.4,1369.4 1779.1,1367.1 1779.8,1366.7 1780.5,1366.0 1781.2,1366.7 1781.9,1369.0 1782.6,1365.5 1783.3,1368.1 1784.0,1369.7 1784.7,1369.2 1785.4,1371.8 1786.1,1375.1 1786.8,1376.2 1787.5,1375.7 1788.2,1371.0 1788.9,1374.2 1789.6,1372.4 1790.3,1370.6 1791.0,1372.1 1791.7,1375.3 1792.4,1375.9 1793.1,1372.0 1793.8,1370.1 1794.5,1375.9 1795.2,1376.2 1795.9,1375.2 1796.6,1372.9 1797.3,1374.2 1798.0,1375.2 1798.7,1374.0 1799.4,1373.7 1800.1,1373.1 1800.8,1373.2 1801.5,1372.4 1802.2,1372.3 1802.9,1376.0 1803.6,1370.4 1804.3,1375.1 1805.0,1376.0 1805.7,1372.6 1806.4,1373.5 1807.1,1370.7 1807.8,1372.9 1808.5,1372.9 1809.2,1373.7 1809.9,1372.4 1810.6,1374.8 1811.3,1373.9 1812.0,1374.5 1812.7,1375.4 1813.4,1373.5 1814.1,1378.4 1814.8,1376.7 1815.5,1376.8 1816.2,1373.1 1816.9,1377.1 1817.6,1371.8 1818.3,1374.0 1819.0,1372.0 1819.7,1372.2 1820.4,1375.3 1821.1,1371.2 1821.8,1374.2 1822.5,1373.0 1823.2,1377.2 1823.9,1372.5 1824.6,1373.2 1825.3,1376.1 1826.0,1374.7 1826.7,1373.7 1827.4,1375.9 1828.1,1369.9 1828.8,1373.5 1829.5,1373.7 1830.2,1373.9 1830.9,1373.9 1831.6,1370.0 1832.3,1370.1 1833.0,1375.2 1833.7,1373.2 1834.4,1371.7 1835.1,1369.1 1835.8,1371.7 1836.5,1369.5 1837.2,1373.3 1837.9,1370.3 1838.6,1373.6 1839.3,1368.3 1840.0,1370.9 1840.7,1366.8 1841.4,1371.5 1842.1,1370.3 1842.8,1368.0 1843.5,1372.7 1844.2,1370.8 1844.9,1369.1 1845.6,1372.3 1846.3,1368.2 1847.0,1371.3 1847.7,1368.3 1848.4,1372.5 1849.1,1366.1 1849.8,1369.1 1850.5,1366.1 1851.2,1366.6 1851.9,1367.8 1852.6,1365.9 1853.3,1367.8 1854.0,1364.9 1854.7,1368.8 1855.4,1365.5 1856.1,1367.1 1856.8,1367.1 1857.5,1365.3 1858.2,1369.7 1858.9,1365.9 1859.6,1366.0 1860.3,1367.3 1861.0,1366.8 1861.7,1363.8 1862.4,1362.8 1863.1,1363.8 1863.8,1361.8 1864.5,1360.0 1865.2,1364.6 1865.9,1363.9 1866.6,1362.8 1867.3,1362.4 1868.0,1362.8 1868.7,1358.9 1869.4,1355.1 1870.1,1358.2 1870.8,1356.5 1871.5,1355.1 1872.2,1353.2 1872.9,1350.1 1873.6,1347.3 1874.3,1349.0 1875.0,1344.8 1875.7,1344.8 1876.4,1340.4 1877.1,1339.0 1877.8,1340.9 1878.5,1336.9 1879.2,1337.0 1879.9,1335.0 1880.6,1331.9 1881.3,1327.6 1882.0,1326.4 1882.7,1322.2 1883.4,1319.9 1884.1,1316.4 1884.8,1308.3 1885.5,1305.2 1886.2,1301.5 1886.9,1296.1 1887.6,1291.1 1888.3,1288.0 1889.0,1278.7 1889.7,1272.6 1890.4,1270.0 1891.1,1263.1 1891.8,1257.9 1892.5,1253.8 1893.2,1246.6 1893.9,1239.1 1894.6,1231.1 1895.3,1224.9 1896.0,1219.7 1896.7,1211.8 1897.4,1202.5 1898.1,1196.8 1898.8,1188.4 1899.5,1183.2 1900.2,1174.9 1900.9,1168.2 1901.6,1161.5 1902.3,1156.5 1903.0,1154.1 1903.7,1150.3 1904.4,1146.3 1905.1,1143.6 1905.8,1138.0 1906.5,1137.2 1907.0,1138.4 1907.2,1140.6 1907.9,1139.5 1908.6,1142.6 1909.3,1145.5 1910.0,1148.7 1910.7,1150.7 1911.4,1156.9 1912.1,1161.6 1912.8,1168.4 1913.5,1174.0 1914.2,1180.0 1914.9,1186.1 1915.6,1195.7 1916.3,1203.0 1917.0,1210.7 1917.7,1215.7 1918.4,1222.9 1919.1,1231.1 1919.8,1239.4 1920.5,1245.0 1921.2,1251.2 1921.9,1258.5 1922.6,1265.3 1923.3,1270.2 1924.0,1275.8 1924.7,1280.1 1925.4,1285.1 1926.1,1293.1 1926.8,1297.6 1927.5,1302.3 1928.2,1305.3 1928.9,1309.4 1929.6,1313.5 1930.3,1319.7 1931.0,1323.6 1931.7,1325.2 1932.4,1330.9 1933.1,1331.9 1933.8,1335.6 1934.5,1338.5 1935.2,1338.3 1935.9,1340.3 1936.6,1342.3 1937.3,1344.1 1938.0,1346.5 1938.7,1346.4 1939.4,1351.0 1940.1,1348.3 1940.8,1351.3 1941.5,1353.2 1942.2,1352.3 1942.9,1354.4 1943.6,1356.5 1944.3,1358.0 1945.0,1359.9 1945.7,1360.7 1946.4,1358.4 1947.1,1363.3 1947.8,1363.2 1948.5,1363.4 1949.2,1362.5 1949.9,1365.4 1950.6,1367.2 1951.3,1369.8 1952.0,1370.4 1952.7,1367.5 1953.4,1372.5 1954.1,1370.7 1954.8,1372.5 1955.5,1374.0 1956.2,1371.1 1956.9,1375.1 1957.6,1374.7 1958.3,1374.6 1959.0,1371.3 1959.7,1372.3 1960.4,1371.2 1961.1,1374.8 1961.8,1375.7 1962.5,1371.3 1963.2,1375.1 1963.9,1374.5 1964.6,1369.6 1965.3,1375.1 1966.0,1372.2 1966.7,1371.8 1967.4,1370.9 1968.1,1376.4 1968.8,1373.8 1969.5,1374.9 1970.2,1373.6 1970.9,1378.3 1971.6,1377.3 1972.3,1380.6 1973.0,1379.2 1973.7,1380.5 1974.4,1378.0 1975.1,1376.8 1975.8,1380.2 1976.5,1379.8 1977.2,1376.5 1977.9,1378.4 1978.6,1376.5 1979.3,1375.8 1980.0,1374.5 1980.7,1374.2 1981.4,1375.3 1982.1,1374.1 1982.8,1376.0 1983.5,1377.3 1984.2,1374.5 1984.9,1377.7 1985.6,1378.3 1986.3,1380.7 1987.0,1381.5 1987.7,1382.1 1988.4,1383.6 1989.1,1383.2 1989.8,1381.2 1990.5,1382.9 1991.2,1385.0 1991.9,1385.5 1992.6,1380.7 1993.3,1379.5 1994.0,1384.2 1994.7,1382.0 1995.4,1380.5 1996.1,1380.9 1996.8,1380.1 1997.5,1383.2 1998.2,1379.7 1998.9,1381.1 1999.6,1383.4 2000.3,1381.4 2001.0,1385.8 2001.7,1383.8 2002.4,1387.1 2003.1,1386.8 2003.8,1383.6 2004.5,1385.8 2005.2,1383.0 2005.9,1383.5 2006.6,1379.0 2007.3,1378.5 2008.0,1382.5 2008.7,1385.1 2009.4,1382.9 2010.1,1384.7 2010.8,1380.1 2011.5,1386.2 2012.2,1385.7 2012.9,1383.2 2013.6,1382.9 2014.3,1382.7 2015.0,1379.3 2015.7,1382.7 2016.4,1383.2 2017.1,1382.7 2017.8,1380.9 2018.5,1379.9 2019.2,1381.7 2019.9,1385.0 2020.6,1382.2 2021.3,1381.3 2022.0,1382.4 2022.7,1384.7 2023.4,1384.9 2024.1,1386.1 2024.8,1385.2 2025.5,1385.8 2026.2,1386.4 2026.9,1384.1 2027.6,1382.3 2028.3,1386.2 2029.0,1381.4 2029.7,1383.8 2030.4,1382.0 2031.1,1385.7 2031.8,1383.0 2032.5,1383.2 2033.2,1382.3 2033.9,1386.3 2034.6,1385.7 2035.3,1386.3 2036.0,1384.5 2036.7,1383.3 2037.4,1387.2 2038.1,1385.4 2038.8,1385.5 2039.5,1386.3 2040.2,1383.3 2040.9,1381.4 2041.6,1382.0 2042.3,1380.3 2043.0,1381.2 2043.7,1381.1 2044.4,1381.8 2045.1,1383.7 2045.8,1383.7 2046.5,1380.2 2047.2,1382.3 2047.9,1384.1 2048.6,1382.5 2049.3,1382.4 2050.0,1384.4 2050.7,1382.2 2051.4,1379.4 2052.1,1381.4 2052.8,1384.3 2053.5,1381.7 2054.2,1381.5 2054.9,1382.1 2055.6,1380.4 2056.3,1379.7 2057.0,1379.2 2057.7,1383.6 2058.4,1379.6 2059.1,1380.0 2059.8,1383.3 2060.5,1381.7 2061.2,1383.4 2061.9,1383.6 2062.6,1384.6 2063.3,1379.8 2064.0,1381.6 2064.7,1386.2 2065.4,1383.7 2066.1,1387.2 2066.8,1383.2 2067.5,1381.5 2068.2,1386.4 2068.9,1383.7 2069.6,1384.1 2070.3,1386.8 2071.0,1382.0 2071.7,1387.4 2072.4,1383.6 2073.1,1382.4 2073.8,1382.3 2074.5,1381.0 2075.2,1378.0 2075.9,1383.9 2076.6,1381.0 2077.3,1382.5 2078.0,1382.7 2078.7,1385.9 2079.4,1387.4 2080.1,1384.4 2080.8,1385.8 2081.5,1385.8 2082.2,1381.4 2082.9,1382.7 2083.6,1386.3 2084.3,1382.6 2085.0,1386.8 2085.7,1384.2 2086.4,1383.4 2087.1,1381.5 2087.8,1383.5 2088.5,1384.0 2089.2,1384.7 2089.9,1386.2 2090.6,1385.9 2091.3,1385.0 2092.0,1381.7 2092.7,1382.3 2093.4,1386.6 2094.1,1380.4 2094.8,1384.8 2095.5,1383.7 2096.2,1384.8 2096.9,1382.4 2097.6,1382.0 2098.3,1382.5 2099.0,1384.4 2099.7,1380.8 2100.4,1379.1 2101.1,1379.0 2101.8,1382.7 2102.5,1378.4 2103.2,1378.2 2103.9,1380.7 2104.6,1381.8 2105.3,1381.7 2106.0,1380.2 2106.7,1380.9 2107.4,1379.5 2108.1,1379.0 2108.8,1384.4 2109.5,1380.9 2110.2,1379.4 2110.9,1384.3 2111.6,1382.4 2112.3,1379.2 2113.0,1376.5 2113.7,1377.7 2114.4,1379.7 2115.1,1379.8 2115.8,1381.9 2116.5,1383.0 2117.2,1382.3 2117.9,1379.9 2118.6,1382.7 2119.3,1381.1 2120.0,1383.0 2120.7,1380.7 2121.4,1381.7 2122.1,1381.4 2122.8,1381.6 2123.5,1382.1 2124.2,1384.7 2124.9,1380.8 2125.6,1380.6 2126.3,1383.8 2127.0,1383.9 2127.7,1383.4 2128.4,1383.9 2129.1,1383.7"/>
<polyline fill="none" stroke="#990000" stroke-width="7.6" stroke-linejoin="round" stroke-linecap="butt" points="243.3,1550.4 244.0,1556.1 244.7,1555.3 245.4,1550.1 246.1,1550.1 246.8,1558.6 247.5,1550.3 248.2,1550.6 248.9,1557.1 249.6,1554.2 250.3,1551.4 251.0,1553.2 251.7,1555.3 252.4,1552.7 253.1,1549.5 253.8,1554.8 254.5,1554.4 255.2,1552.6 255.9,1556.9 256.6,1554.2 257.3,1559.5 258.0,1549.7 258.7,1551.5 259.4,1551.8 260.1,1551.5 260.8,1552.3 261.5,1551.2 262.2,1554.9 262.9,1555.3 263.6,1546.9 264.3,1550.7 265.0,1549.8 265.7,1546.3 266.4,1553.6 267.1,1548.8 267.8,1545.0 268.5,1549.2 269.2,1545.3 269.9,1552.7 270.6,1545.8 271.3,1543.3 272.0,1546.1 272.7,1546.4 273.4,1548.5 274.1,1554.3 274.8,1552.0 275.5,1548.2 276.2,1543.5 276.9,1545.5 277.6,1552.4 278.3,1546.9 279.0,1549.8 279.7,1542.1 280.4,1539.9 281.1,1547.6 281.8,1543.7 282.5,1541.9 283.2,1540.7 283.9,1539.1 284.6,1539.1 285.3,1537.2 286.0,1546.3 286.7,1540.7 287.4,1538.2 288.1,1543.1 288.8,1538.9 289.5,1538.3 290.2,1542.8 290.9,1545.0 291.6,1537.1 292.3,1543.8 293.0,1538.6 293.7,1537.5 294.4,1537.8 295.1,1538.9 295.8,1543.0 296.5,1541.6 297.2,1545.3 297.9,1538.8 298.6,1539.7 299.3,1539.7 300.0,1546.7 300.7,1545.8 301.4,1540.0 302.1,1540.3 302.8,1538.6 303.5,1543.9 304.2,1536.8 304.9,1537.0 305.6,1540.3 306.3,1536.6 307.0,1542.3 307.7,1540.9 308.4,1538.8 309.1,1539.5 309.8,1538.6 310.5,1541.4 311.2,1542.9 311.9,1533.3 312.6,1538.7 313.3,1534.5 314.0,1537.5 314.7,1540.9 315.4,1542.2 316.1,1541.1 316.8,1533.2 317.5,1535.9 318.2,1534.1 318.9,1539.9 319.6,1530.2 320.3,1530.1 321.0,1531.7 321.7,1527.7 322.4,1535.5 323.1,1531.9 323.8,1527.7 324.5,1530.5 325.2,1526.9 325.9,1533.2 326.6,1529.0 327.3,1526.5 328.0,1529.4 328.7,1532.6 329.4,1534.0 330.1,1529.8 330.8,1532.9 331.5,1529.3 332.2,1526.8 332.9,1529.3 333.6,1528.0 334.3,1529.8 335.0,1521.4 335.7,1520.7 336.4,1526.9 337.1,1530.3 337.8,1530.0 338.5,1526.8 339.2,1521.0 339.9,1527.4 340.6,1527.5 341.3,1523.7 342.0,1524.9 342.7,1521.0 343.4,1527.1 344.1,1526.9 344.8,1529.1 345.5,1527.1 346.2,1522.7 346.9,1526.2 347.6,1519.7 348.3,1520.2 349.0,1521.2 349.7,1522.9 350.4,1520.5 351.1,1522.4 351.8,1522.8 352.5,1520.8 353.2,1525.2 353.9,1522.5 354.6,1527.5 355.3,1522.5 356.0,1528.1 356.7,1524.1 357.4,1525.7 358.1,1527.7 358.8,1526.5 359.5,1524.9 360.2,1531.9 360.9,1524.0 361.6,1527.4 362.3,1528.2 363.0,1522.6 363.7,1525.2 364.4,1532.1 365.1,1531.1 365.8,1529.1 366.5,1533.1 367.2,1529.5 367.9,1524.3 368.6,1528.1 369.3,1526.7 370.0,1528.7 370.7,1522.9 371.4,1521.1 372.1,1526.0 372.8,1522.5 373.5,1523.7 374.2,1522.3 374.9,1524.5 375.6,1520.6 376.3,1522.3 377.0,1518.3 377.7,1520.8 378.4,1524.6 379.1,1521.6 379.8,1519.9 380.5,1517.8 381.2,1522.0 381.9,1514.0 382.6,1520.4 383.3,1515.5 384.0,1514.9 384.7,1519.0 385.4,1518.9 386.1,1519.6 386.8,1522.4 387.5,1514.8 388.2,1519.3 388.9,1517.9 389.6,1518.0 390.3,1516.7 391.0,1513.1 391.7,1516.5 392.4,1521.1 393.1,1514.0 393.8,1511.3 394.5,1512.0 395.2,1514.3 395.9,1520.3 396.6,1511.9 397.3,1522.2 398.0,1517.6 398.7,1512.4 399.4,1516.8 400.1,1515.2 400.8,1520.9 401.5,1521.0 402.2,1516.9 402.9,1516.7 403.6,1522.2 404.3,1522.6 405.0,1520.7 405.7,1519.2 406.4,1522.4 407.1,1524.0 407.8,1513.9 408.5,1516.0 409.2,1515.3 409.9,1517.3 410.6,1512.0 411.3,1510.8 412.0,1512.1 412.7,1513.6 413.4,1516.5 414.1,1515.5 414.8,1508.2 415.5,1509.3 416.2,1512.7 416.9,1516.3 417.6,1515.4 418.3,1511.4 419.0,1517.1 419.7,1515.4 420.4,1505.9 421.1,1505.6 421.8,1507.8 422.5,1509.5 423.2,1517.2 423.9,1512.1 424.6,1515.4 425.3,1514.6 426.0,1515.5 426.7,1510.6 427.4,1507.0 428.1,1514.0 428.8,1513.2 429.5,1514.5 430.2,1511.4 430.9,1511.5 431.6,1511.0 432.3,1507.3 433.0,1508.2 433.7,1511.7 434.4,1507.2 435.1,1510.6 435.8,1508.8 436.5,1507.8 437.2,1514.1 437.9,1504.4 438.6,1508.9 439.3,1505.0 440.0,1513.1 440.7,1509.6 441.4,1506.9 442.1,1504.8 442.8,1509.7 443.5,1506.8 444.2,1504.5 444.9,1503.3 445.6,1507.7 446.3,1509.1 447.0,1507.6 447.7,1512.6 448.4,1513.4 449.1,1514.0 449.8,1513.8 450.5,1511.9 451.2,1510.3 451.9,1507.7 452.6,1506.2 453.3,1503.5 454.0,1508.6 454.7,1502.2 455.4,1499.9 456.1,1502.4 456.8,1503.0 457.5,1501.2 458.2,1502.0 458.9,1505.3 459.6,1500.0 460.3,1501.5 461.0,1508.3 461.7,1508.4 462.4,1512.2 463.1,1507.3 463.8,1510.1 464.5,1501.8 465.2,1503.4 465.9,1508.3 466.6,1504.6 467.3,1502.9 468.0,1504.1 468.7,1504.8 469.4,1505.1 470.1,1508.6 470.8,1513.6 471.5,1507.4 472.2,1504.9 472.9,1507.8 473.6,1503.6 474.3,1506.9 475.0,1505.9 475.7,1505.4 476.4,1502.2 477.1,1506.3 477.8,1506.2 478.5,1506.9 479.2,1509.0 479.9,1502.5 480.6,1503.8 481.3,1502.6 482.0,1501.1 482.7,1505.9 483.4,1505.1 484.1,1506.5 484.8,1505.6 485.5,1507.2 486.2,1499.5 486.9,1499.9 487.6,1500.9 488.3,1502.0 489.0,1506.3 489.7,1500.8 490.4,1498.3 491.1,1496.3 491.8,1491.1 492.5,1499.4 493.2,1492.8 493.9,1492.9 494.6,1499.6 495.3,1499.4 496.0,1496.6 496.7,1493.7 497.4,1498.2 498.1,1492.1 498.8,1486.9 499.5,1487.9 500.2,1484.6 500.9,1491.1 501.6,1483.4 502.3,1490.2 503.0,1482.9 503.7,1484.1 504.4,1486.3 505.1,1482.7 505.8,1483.1 506.5,1480.4 507.2,1483.2 507.9,1477.9 508.6,1480.7 509.3,1486.5 510.0,1479.6 510.7,1479.4 511.4,1482.9 512.1,1483.8 512.8,1477.5 513.5,1477.6 514.2,1481.0 514.9,1479.7 515.6,1477.3 516.3,1472.8 517.0,1473.2 517.7,1479.2 518.4,1479.5 519.1,1480.5 519.3,1478.1 519.8,1474.0 520.5,1471.9 521.2,1479.9 521.9,1477.9 522.6,1476.1 523.3,1477.0 524.0,1474.3 524.7,1473.8 525.4,1477.3 526.1,1478.6 526.8,1481.8 527.5,1485.5 528.2,1484.9 528.9,1480.8 529.6,1481.0 530.3,1487.4 531.0,1483.1 531.7,1486.8 532.4,1479.9 533.1,1483.4 533.8,1482.6 534.5,1486.1 535.2,1487.3 535.9,1481.8 536.6,1486.9 537.3,1487.8 538.0,1483.5 538.7,1491.4 539.4,1490.0 540.1,1495.1 540.8,1487.3 541.5,1490.6 542.2,1489.2 542.9,1492.7 543.6,1494.5 544.3,1493.8 545.0,1491.0 545.7,1491.9 546.4,1490.9 547.1,1496.4 547.8,1491.9 548.5,1492.6 549.2,1490.1 549.9,1489.3 550.6,1495.9 551.3,1489.9 552.0,1496.0 552.7,1491.9 553.4,1494.9 554.1,1488.4 554.8,1495.2 555.5,1492.1 556.2,1488.6 556.9,1489.5 557.6,1489.1 558.3,1487.0 559.0,1489.7 559.7,1488.2 560.4,1485.5 561.1,1491.1 561.8,1491.6 562.5,1496.9 563.2,1492.4 563.9,1499.5 564.6,1500.7 565.3,1501.1 566.0,1498.8 566.7,1490.6 567.4,1491.4 568.1,1491.0 568.8,1492.0 569.5,1488.2 570.2,1487.8 570.9,1487.2 571.6,1495.4 572.3,1491.7 573.0,1495.1 573.7,1493.8 574.4,1496.5 575.1,1496.1 575.8,1492.4 576.5,1493.0 577.2,1486.1 577.9,1487.6 578.6,1486.3 579.3,1486.8 580.0,1485.7 580.7,1488.2 581.4,1486.7 582.1,1485.8 582.8,1490.7 583.5,1484.5 584.2,1484.7 584.9,1484.3 585.6,1491.1 586.3,1489.2 587.0,1488.8 587.7,1492.3 588.4,1485.0 589.1,1490.8 589.8,1484.1 590.5,1485.7 591.2,1486.1 591.9,1487.7 592.6,1481.6 593.3,1484.0 594.0,1476.7 594.7,1478.8 595.4,1485.8 596.1,1484.4 596.8,1480.7 597.5,1483.7 598.2,1484.2 598.9,1479.4 599.6,1485.7 600.3,1480.8 601.0,1479.0 601.7,1482.0 602.4,1482.9 603.1,1483.8 603.8,1484.2 604.5,1478.6 605.2,1484.2 605.9,1487.3 606.6,1486.0 607.3,1488.5 608.0,1484.5 608.7,1486.1 609.4,1480.1 610.1,1485.2 610.8,1478.9 611.5,1483.0 612.2,1477.3 612.9,1481.0 613.6,1483.5 614.3,1482.8 615.0,1482.6 615.7,1486.3 616.4,1480.2 617.1,1482.4 617.8,1487.1 618.5,1491.2 619.2,1486.8 619.9,1482.0 620.6,1478.1 621.3,1481.9 622.0,1481.6 622.7,1480.1 623.4,1481.3 624.1,1477.3 624.8,1483.8 625.5,1480.1 626.2,1479.3 626.9,1482.1 627.6,1486.3 628.3,1480.5 629.0,1482.4 629.7,1487.5 630.4,1483.1 631.1,1485.8 631.8,1476.3 632.5,1483.9 633.2,1477.8 633.9,1477.5 634.6,1483.1 635.3,1484.8 636.0,1485.6 636.7,1482.8 637.4,1484.3 638.1,1484.9 638.8,1481.0 639.5,1478.0 640.2,1485.3 640.9,1479.4 641.6,1478.5 642.3,1480.4 643.0,1474.1 643.7,1475.5 644.4,1477.7 645.1,1480.3 645.8,1478.9 646.5,1480.3 647.2,1479.1 647.9,1482.2 648.6,1478.2 649.3,1480.4 650.0,1478.9 650.7,1474.7 651.4,1474.4 652.1,1483.0 652.8,1478.1 653.5,1483.7 654.2,1479.4 654.9,1476.8 655.6,1483.2 656.3,1482.2 657.0,1478.5 657.7,1481.3 658.4,1481.1 659.1,1484.4 659.8,1489.1 660.5,1486.1 661.2,1485.1 661.9,1485.1 662.6,1487.0 663.3,1478.7 664.0,1477.1 664.7,1478.2 665.4,1478.2 666.1,1478.3 666.8,1476.4 667.5,1478.4 668.2,1477.1 668.9,1477.9 669.6,1478.2 670.3,1475.5 671.0,1474.1 671.7,1471.1 672.4,1472.4 673.1,1471.7 673.8,1474.6 674.5,1477.5 675.2,1477.2 675.9,1473.5 676.6,1471.4 677.3,1470.1 678.0,1475.9 678.7,1475.0 679.4,1477.3 680.1,1472.6 680.8,1476.3 681.5,1480.9 682.2,1479.9 682.9,1480.8 683.6,1487.2 684.3,1478.2 685.0,1478.3 685.7,1482.5 686.4,1479.1 687.1,1482.3 687.8,1481.6 688.5,1477.6 689.2,1478.5 689.9,1477.0 690.6,1471.6 691.3,1476.3 692.0,1472.9 692.7,1475.8 693.4,1473.5 694.1,1473.1 694.8,1480.0 695.5,1479.1 696.2,1479.5 696.9,1474.1 697.6,1475.1 698.3,1474.0 699.0,1477.7 699.7,1479.8 700.4,1476.4 701.1,1479.5 701.8,1473.1 702.5,1477.5 703.2,1474.6 703.9,1479.0 704.6,1474.1 705.3,1477.9 706.0,1478.7 706.7,1479.1 707.4,1479.6 708.1,1483.5 708.8,1480.4 709.5,1477.9 710.2,1476.2 710.9,1477.1 711.6,1483.7 712.3,1486.3 713.0,1481.2 713.7,1485.7 714.4,1486.4 715.1,1481.1 715.8,1482.1 716.5,1485.1 717.2,1483.0 717.9,1489.3 718.6,1483.7 719.3,1486.6 720.0,1486.0 720.7,1480.1 721.4,1486.4 722.1,1480.8 722.8,1479.7 723.5,1478.6 724.2,1481.3 724.9,1479.8 725.6,1475.3 726.3,1482.2 727.0,1477.1 727.7,1482.7 728.4,1475.2 729.1,1477.1 729.8,1474.5 730.5,1476.6 731.2,1476.8 731.9,1478.8 732.6,1482.7 733.3,1480.6 734.0,1480.7 734.7,1478.1 735.4,1482.6 736.1,1481.0 736.8,1484.9 737.5,1487.8 738.2,1484.6 738.9,1481.9 739.6,1479.6 740.3,1485.1 741.0,1484.9 741.7,1484.6 742.4,1480.1 743.1,1481.0 743.8,1486.3 744.5,1480.6 745.2,1486.6 745.9,1483.9 746.6,1481.3 747.3,1481.6 748.0,1479.6 748.7,1484.5 749.4,1487.1 750.1,1477.9 750.8,1477.0 751.5,1477.7 752.2,1476.5 752.9,1484.5 753.6,1490.8 754.3,1488.1 755.0,1484.6 755.7,1491.6 756.4,1491.1 757.1,1489.1 757.8,1488.1 758.5,1491.9 759.2,1488.6 759.9,1486.6 760.6,1486.9 761.3,1486.3 762.0,1486.8 762.7,1486.3 763.4,1490.1 764.1,1488.5 764.8,1488.7 765.5,1491.8 766.2,1482.6 766.9,1484.3 767.6,1479.9 768.3,1484.9 769.0,1481.1 769.7,1480.6 770.4,1482.2 771.1,1484.1 771.8,1488.2 772.5,1484.8 773.2,1491.4 773.9,1487.4 774.6,1485.8 775.3,1487.3 776.0,1484.2 776.7,1486.9 777.4,1488.7 778.1,1490.3 778.8,1483.2 779.5,1491.1 780.2,1489.2 780.9,1490.5 781.6,1486.4 782.3,1494.2 783.0,1489.1 783.7,1492.0 784.4,1492.1 785.1,1498.0 785.8,1494.5 786.5,1500.0 787.2,1491.3 787.9,1493.7 788.6,1491.9 789.3,1491.2 790.0,1491.5 790.7,1491.2 791.4,1487.7 792.1,1490.1 792.8,1484.2 793.5,1489.0 794.2,1489.8 794.9,1488.2 795.6,1491.8 796.3,1494.5 797.0,1489.6 797.7,1493.2 798.4,1491.5 799.1,1497.3 799.8,1492.7 800.5,1495.7 801.2,1498.1 801.9,1498.3 802.6,1492.8 803.3,1500.2 804.0,1490.9 804.7,1495.2 805.4,1491.0 806.1,1496.1 806.8,1493.1 807.5,1491.7 808.2,1493.3 808.9,1494.3 809.6,1495.7 810.3,1497.4 811.0,1492.0 811.7,1489.4 812.4,1491.0 813.1,1492.0 813.8,1496.5 814.5,1494.3 815.2,1494.6 815.9,1493.3 816.6,1498.7 817.3,1493.8 818.0,1498.2 818.7,1498.2 819.4,1495.9 820.1,1492.8 820.8,1494.8 821.5,1499.5 822.2,1490.4 822.9,1496.6 823.6,1496.9 824.3,1499.4 825.0,1498.9 825.7,1496.9 826.4,1500.6 827.1,1495.8 827.8,1505.4 828.5,1505.6 829.2,1500.2 829.9,1500.2 830.6,1499.3 831.3,1504.0 832.0,1496.4 832.7,1498.9 833.4,1499.8 834.1,1502.9 834.8,1501.9 835.5,1498.8 836.2,1493.4 836.9,1500.6 837.6,1497.5 838.3,1494.5 839.0,1499.1 839.7,1498.3 840.4,1495.4 841.1,1496.2 841.8,1498.5 842.5,1496.7 843.2,1496.1 843.9,1500.8 844.6,1495.4 845.3,1493.3 846.0,1493.9 846.7,1497.0 847.4,1495.6 848.1,1494.9 848.8,1497.4 849.5,1496.3 850.2,1495.1 850.9,1490.9 851.6,1486.8 852.3,1492.6 853.0,1491.9 853.7,1492.6 854.4,1484.9 855.1,1487.7 855.8,1480.7 856.5,1483.9 857.2,1483.1 857.9,1473.2 858.6,1472.7 859.3,1475.9 860.0,1473.6 860.7,1467.9 861.4,1461.2 862.1,1457.6 862.8,1456.9 863.5,1460.1 864.2,1456.1 864.9,1450.5 865.6,1451.8 866.0,1451.5 866.3,1446.6 867.0,1447.5 867.7,1438.7 868.4,1437.8 869.1,1433.6 869.8,1432.8 870.5,1434.4 871.2,1427.2 871.9,1431.1 872.6,1424.5 873.3,1428.3 874.0,1421.3 874.7,1420.9 875.4,1420.4 876.1,1423.5 876.8,1423.8 877.5,1421.0 878.2,1419.1 878.9,1418.2 879.6,1416.1 880.3,1412.0 881.0,1408.4 881.7,1412.4 882.4,1404.0 883.1,1404.2 883.8,1399.5 884.5,1400.2 885.0,1397.3 885.2,1399.5 885.9,1405.4 886.6,1403.1 887.3,1406.9 888.0,1405.2 888.7,1409.9 889.4,1412.8 890.1,1418.5 890.8,1418.6 891.5,1425.8 892.2,1429.3 892.9,1430.9 893.6,1429.1 894.3,1435.3 895.0,1438.2 895.7,1442.6 896.4,1441.9 897.1,1450.7 897.8,1450.9 898.5,1457.9 899.2,1454.4 899.9,1459.2 900.6,1461.3 901.3,1466.6 902.0,1469.0 902.7,1467.6 903.4,1470.2 904.1,1476.1 904.8,1475.1 905.5,1475.0 906.2,1482.6 906.9,1483.6 907.6,1479.2 908.3,1483.3 909.0,1487.3 909.7,1481.9 910.4,1489.1 911.1,1490.8 911.8,1491.0 912.5,1491.3 913.2,1492.9 913.9,1491.6 914.6,1490.9 915.3,1488.7 916.0,1491.4 916.7,1493.2 917.4,1492.1 918.1,1493.8 918.8,1492.0 919.5,1494.3 920.2,1493.4 920.9,1487.0 921.6,1492.6 922.3,1489.7 923.0,1488.1 923.7,1487.9 924.4,1490.4 925.1,1491.8 925.8,1490.6 926.5,1490.9 927.2,1497.2 927.9,1492.9 928.6,1496.7 929.3,1491.3 930.0,1496.5 930.7,1495.0 931.4,1501.7 932.1,1501.4 932.8,1502.6 933.5,1497.1 934.2,1504.6 934.9,1501.8 935.6,1505.4 936.3,1505.9 937.0,1496.7 937.7,1496.2 938.4,1503.1 939.1,1505.2 939.8,1505.7 940.5,1502.2 941.2,1507.0 941.9,1498.2 942.6,1498.1 943.3,1504.6 944.0,1503.5 944.7,1504.6 945.4,1499.7 946.1,1501.7 946.8,1506.8 947.5,1501.3 948.2,1503.2 948.9,1506.0 949.6,1508.8 950.3,1500.4 951.0,1506.3 951.7,1503.2 952.4,1504.1 953.1,1501.0 953.8,1502.8 954.5,1504.3 955.2,1502.5 955.9,1505.1 956.6,1506.8 957.3,1510.3 958.0,1507.0 958.7,1503.7 959.4,1510.6 960.1,1501.6 960.8,1499.6 961.5,1508.0 962.2,1501.1 962.9,1500.2 963.6,1500.1 964.3,1499.0 965.0,1498.0 965.7,1499.3 966.4,1490.6 967.1,1494.1 967.8,1498.6 968.5,1508.8 969.2,1503.5 969.9,1505.5 970.6,1510.3 971.3,1512.5 972.0,1508.7 972.7,1511.7 973.4,1505.9 974.1,1506.8 974.8,1508.9 975.5,1505.1 976.2,1504.0 976.9,1503.7 977.6,1503.6 978.3,1507.6 979.0,1507.1 979.7,1501.0 980.4,1502.2 981.1,1505.0 981.8,1507.9 982.5,1505.3 983.2,1504.3 983.9,1499.9 984.6,1506.6 985.3,1508.6 986.0,1504.8 986.7,1502.5 987.4,1501.2 988.1,1506.3 988.8,1506.9 989.5,1502.5 990.2,1506.2 990.9,1509.0 991.6,1500.2 992.3,1500.6 993.0,1500.7 993.7,1502.1 994.4,1501.5 995.1,1505.2 995.8,1497.5 996.5,1499.5 997.2,1507.0 997.9,1496.7 998.6,1498.7 999.3,1499.9 1000.0,1497.3 1000.7,1499.9 1001.4,1502.7 1002.1,1501.7 1002.8,1501.2 1003.5,1501.3 1004.2,1499.8 1004.9,1494.0 1005.6,1499.1 1006.3,1495.8 1007.0,1491.3 1007.7,1493.4 1008.4,1491.2 1009.1,1495.5 1009.8,1489.4 1010.5,1487.7 1011.2,1492.1 1011.9,1491.1 1012.6,1493.2 1013.3,1491.3 1014.0,1486.9 1014.7,1486.8 1015.4,1487.1 1016.1,1485.4 1016.8,1487.6 1017.5,1480.0 1018.2,1483.9 1018.9,1475.1 1019.6,1476.5 1020.3,1482.1 1021.0,1473.8 1021.7,1473.8 1022.4,1475.2 1023.1,1471.2 1023.8,1467.9 1024.5,1466.2 1025.2,1464.8 1025.9,1459.5 1026.6,1450.9 1027.3,1446.5 1028.0,1442.7 1028.7,1436.8 1029.4,1435.3 1030.1,1429.9 1030.8,1420.1 1031.5,1413.0 1032.2,1406.8 1032.9,1400.4 1033.6,1393.0 1034.3,1383.8 1035.0,1375.9 1035.7,1366.6 1036.4,1356.7 1037.1,1343.3 1037.8,1334.5 1038.5,1324.1 1039.2,1313.4 1039.9,1300.4 1040.6,1287.4 1041.3,1276.6 1042.0,1265.3 1042.7,1253.7 1043.4,1244.3 1044.1,1233.8 1044.8,1223.7 1045.5,1214.4 1046.2,1203.6 1046.9,1195.1 1047.6,1190.1 1048.3,1187.4 1049.0,1183.1 1049.7,1182.3 1050.4,1179.2 1050.6,1180.9 1051.1,1181.4 1051.8,1180.1 1052.5,1185.0 1053.2,1190.8 1053.9,1195.3 1054.6,1202.7 1055.3,1206.6 1056.0,1215.0 1056.7,1228.0 1057.4,1235.7 1058.1,1246.5 1058.8,1257.0 1059.5,1270.2 1060.2,1279.7 1060.9,1294.0 1061.6,1304.0 1062.3,1316.6 1063.0,1327.9 1063.7,1337.8 1064.4,1347.7 1065.1,1358.6 1065.8,1368.8 1066.5,1377.2 1067.2,1383.6 1067.9,1390.3 1068.6,1402.3 1069.3,1408.9 1070.0,1413.2 1070.7,1421.2 1071.4,1427.1 1072.1,1431.3 1072.8,1439.9 1073.5,1440.2 1074.2,1444.3 1074.9,1449.3 1075.6,1451.4 1076.3,1458.7 1077.0,1459.5 1077.7,1457.6 1078.4,1461.2 1079.1,1461.0 1079.8,1469.7 1080.5,1471.9 1081.2,1466.5 1081.9,1472.6 1082.6,1470.1 1083.3,1472.5 1084.0,1477.4 1084.7,1480.8 1085.4,1473.9 1086.1,1474.4 1086.8,1473.4 1087.5,1471.3 1088.2,1476.3 1088.9,1473.8 1089.6,1479.3 1090.3,1481.1 1091.0,1476.2 1091.7,1480.3 1092.4,1478.4 1093.1,1483.3 1093.8,1479.1 1094.5,1484.5 1095.2,1484.1 1095.9,1484.4 1096.6,1479.7 1097.0,1485.8 1097.3,1483.8 1098.0,1490.9 1098.7,1487.4 1099.4,1485.9 1100.1,1487.2 1100.8,1484.6 1101.5,1490.0 1102.2,1489.6 1102.9,1494.2 1103.6,1495.0 1104.3,1497.9 1105.0,1494.0 1105.7,1496.6 1106.4,1500.4 1107.1,1495.3 1107.8,1493.7 1108.5,1496.7 1109.2,1493.6 1109.9,1501.3 1110.6,1500.5 1111.3,1501.1 1112.0,1497.7 1112.7,1504.0 1113.4,1505.0 1114.1,1501.9 1114.8,1503.9 1115.5,1494.8 1116.2,1500.6 1116.9,1502.4 1117.6,1497.4 1118.3,1492.4 1119.0,1496.5 1119.7,1494.3 1120.4,1493.9 1121.1,1502.1 1121.8,1502.5 1122.5,1501.4 1123.2,1502.4 1123.9,1502.5 1124.6,1501.4 1125.3,1499.1 1126.0,1501.3 1126.7,1504.8 1127.4,1505.9 1128.1,1502.2 1128.8,1501.4 1129.5,1503.2 1130.2,1503.2 1130.9,1509.8 1131.6,1502.5 1132.3,1503.7 1133.0,1504.0 1133.7,1501.0 1134.4,1502.9 1135.1,1501.9 1135.8,1497.6 1136.5,1506.3 1137.2,1505.0 1137.9,1501.6 1138.6,1510.7 1139.3,1502.4 1140.0,1507.0 1140.7,1507.0 1141.4,1506.9 1142.1,1507.9 1142.8,1507.8 1143.5,1506.5 1144.2,1506.1 1144.9,1507.3 1145.6,1507.2 1146.3,1509.0 1147.0,1501.1 1147.7,1501.0 1148.4,1511.6 1149.1,1505.8 1149.8,1509.9 1150.5,1510.4 1151.2,1515.8 1151.9,1508.7 1152.6,1515.5 1153.3,1508.9 1154.0,1509.0 1154.7,1513.1 1155.4,1509.1 1156.1,1514.1 1156.8,1514.1 1157.5,1507.5 1158.2,1513.7 1158.9,1509.2 1159.6,1514.4 1160.3,1505.9 1161.0,1505.7 1161.7,1510.4 1162.4,1507.2 1163.1,1507.8 1163.8,1514.0 1164.5,1507.9 1165.2,1506.9 1165.9,1508.4 1166.6,1512.3 1167.3,1516.4 1168.0,1515.6 1168.7,1513.2 1169.4,1511.4 1170.1,1510.2 1170.8,1510.5 1171.5,1508.7 1172.2,1514.3 1172.9,1509.9 1173.6,1506.1 1174.3,1512.1 1175.0,1509.8 1175.7,1505.1 1176.4,1512.6 1177.1,1513.1 1177.8,1507.8 1178.5,1514.6 1179.2,1510.6 1179.9,1513.4 1180.6,1512.1 1181.3,1513.6 1182.0,1510.5 1182.7,1508.9 1183.4,1514.8 1184.1,1510.1 1184.8,1509.0 1185.5,1513.4 1186.2,1511.4 1186.9,1515.7 1187.6,1509.5 1188.3,1512.9 1189.0,1507.6 1189.7,1509.7 1190.4,1511.7 1191.1,1513.4 1191.8,1513.2 1192.5,1510.2 1193.2,1516.1 1193.9,1510.4 1194.6,1510.2 1195.3,1514.4 1196.0,1513.8 1196.7,1516.6 1197.4,1520.5 1198.1,1516.3 1198.8,1510.5 1199.5,1516.1 1200.2,1505.8 1200.9,1514.5 1201.6,1511.4 1202.3,1510.0 1203.0,1511.5 1203.7,1510.3 1204.4,1515.4 1205.1,1513.6 1205.8,1511.9 1206.5,1508.9 1207.2,1509.6 1207.9,1504.8 1208.6,1511.7 1209.3,1502.0 1210.0,1504.9 1210.7,1501.7 1211.4,1510.0 1212.1,1510.6 1212.8,1504.7 1213.5,1510.7 1214.2,1505.6 1214.9,1510.2 1215.6,1509.1 1216.3,1510.9 1217.0,1512.3 1217.7,1508.7 1218.4,1508.2 1219.1,1510.8 1219.8,1513.2 1220.5,1514.0 1221.2,1507.7 1221.9,1505.2 1222.6,1504.0 1223.3,1505.9 1224.0,1505.7 1224.7,1507.2 1225.4,1512.4 1226.1,1506.2 1226.8,1510.1 1227.5,1507.7 1228.2,1507.5 1228.9,1508.7 1229.6,1507.4 1230.3,1506.6 1231.0,1502.1 1231.7,1507.7 1232.4,1511.2 1233.1,1502.7 1233.8,1502.6 1234.5,1508.6 1235.2,1507.1 1235.9,1506.5 1236.6,1512.2 1237.3,1505.7 1238.0,1511.4 1238.7,1508.0 1239.4,1502.2 1240.1,1505.0 1240.8,1501.6 1241.5,1505.2 1242.2,1509.1 1242.9,1502.1 1243.6,1504.2 1244.3,1502.6 1245.0,1504.3 1245.7,1505.2 1246.4,1513.4 1247.1,1511.8 1247.8,1516.6 1248.5,1515.7 1249.2,1515.7 1249.9,1513.4 1250.6,1508.0 1251.3,1512.1 1252.0,1506.6 1252.7,1505.7 1253.4,1510.4 1254.1,1503.2 1254.8,1501.7 1255.5,1509.2 1256.2,1503.9 1256.9,1501.8 1257.6,1501.6 1258.3,1502.3 1259.0,1509.2 1259.7,1504.0 1260.4,1507.2 1261.1,1502.4 1261.8,1505.2 1262.5,1504.4 1263.2,1500.1 1263.9,1503.5 1264.6,1497.0 1265.3,1494.5 1266.0,1498.7 1266.7,1493.8 1267.4,1497.6 1268.1,1499.4 1268.8,1501.7 1269.5,1502.7 1270.2,1494.6 1270.9,1502.4 1271.6,1497.5 1272.3,1498.2 1273.0,1495.3 1273.7,1496.2 1274.4,1489.3 1275.1,1484.3 1275.8,1489.1 1276.5,1485.6 1277.2,1483.1 1277.9,1476.5 1278.6,1475.8 1279.3,1478.0 1280.0,1478.9 1280.7,1474.5 1281.4,1469.7 1282.1,1468.4 1282.8,1461.9 1283.5,1462.7 1284.2,1459.8 1284.9,1460.7 1285.6,1458.4 1286.3,1458.0 1287.0,1455.3 1287.7,1455.2 1288.4,1451.6 1289.1,1442.9 1289.8,1446.1 1290.5,1442.0 1291.2,1437.6 1291.9,1438.3 1292.6,1441.4 1293.3,1442.0 1294.0,1434.8 1294.0,1436.2 1294.7,1441.7 1295.4,1443.9 1296.1,1436.2 1296.8,1438.2 1297.5,1444.7 1298.2,1445.2 1298.9,1448.7 1299.6,1445.7 1300.3,1450.6 1301.0,1455.0 1301.7,1454.2 1302.4,1458.2 1303.1,1456.9 1303.8,1466.3 1304.5,1467.4 1305.2,1468.7 1305.9,1473.8 1306.6,1477.0 1307.3,1480.0 1308.0,1478.2 1308.7,1481.5 1309.4,1482.1 1310.1,1488.2 1310.8,1488.4 1311.5,1489.6 1312.2,1492.6 1312.9,1493.0 1313.6,1493.6 1314.3,1490.5 1315.0,1494.3 1315.7,1491.8 1316.4,1495.9 1317.1,1491.7 1317.8,1497.6 1318.5,1500.0 1319.2,1500.3 1319.9,1500.9 1320.6,1498.7 1321.3,1505.0 1322.0,1504.9 1322.7,1503.6 1323.4,1504.0 1324.1,1500.6 1324.8,1506.4 1325.5,1501.5 1326.2,1510.8 1326.9,1506.7 1327.6,1506.7 1328.3,1509.5 1329.0,1507.2 1329.7,1513.5 1330.4,1515.6 1331.1,1514.7 1331.8,1512.6 1332.5,1515.0 1333.2,1509.0 1333.9,1510.7 1334.6,1509.0 1335.3,1512.7 1336.0,1517.2 1336.7,1515.9 1337.4,1514.3 1338.1,1514.1 1338.8,1517.5 1339.5,1517.8 1340.2,1516.7 1340.9,1515.7 1341.6,1511.0 1342.3,1515.1 1343.0,1515.8 1343.7,1512.0 1344.4,1514.9 1345.1,1520.6 1345.8,1515.0 1346.5,1515.4 1347.2,1524.0 1347.9,1517.9 1348.6,1520.3 1349.3,1526.2 1350.0,1520.0 1350.7,1521.4 1351.4,1520.1 1352.1,1511.6 1352.8,1513.8 1353.5,1519.9 1354.2,1513.1 1354.9,1512.0 1355.6,1517.6 1356.3,1511.1 1357.0,1521.0 1357.7,1517.5 1358.4,1516.7 1359.1,1510.7 1359.8,1515.7 1360.5,1519.1 1361.2,1517.1 1361.9,1513.5 1362.6,1514.1 1363.3,1514.0 1364.0,1518.3 1364.7,1524.5 1365.4,1517.9 1366.1,1522.4 1366.8,1523.1 1367.5,1522.7 1368.2,1525.1 1368.9,1524.5 1369.6,1521.6 1370.3,1527.3 1371.0,1525.3 1371.7,1522.5 1372.4,1527.8 1373.1,1523.6 1373.8,1518.3 1374.5,1524.9 1375.2,1521.8 1375.9,1519.2 1376.6,1516.5 1377.3,1513.5 1378.0,1516.6 1378.7,1518.4 1379.4,1519.6 1380.1,1524.5 1380.8,1519.8 1381.5,1517.7 1382.2,1521.0 1382.9,1523.4 1383.6,1518.9 1384.3,1522.9 1385.0,1521.5 1385.7,1524.6 1386.4,1520.6 1387.1,1523.1 1387.8,1523.4 1388.5,1517.6 1389.2,1522.3 1389.9,1521.1 1390.6,1516.5 1391.3,1515.0 1392.0,1524.7 1392.7,1514.7 1393.4,1521.1 1394.1,1515.8 1394.8,1513.6 1395.5,1521.8 1396.2,1520.3 1396.9,1518.7 1397.6,1523.9 1398.3,1523.1 1399.0,1520.7 1399.7,1525.5 1400.4,1524.3 1401.1,1518.9 1401.8,1524.4 1402.5,1525.4 1403.2,1523.9 1403.9,1524.6 1404.6,1525.7 1405.3,1524.3 1406.0,1520.8 1406.7,1520.0 1407.4,1522.5 1408.1,1521.2 1408.8,1516.9 1409.5,1516.1 1410.2,1517.4 1410.9,1523.1 1411.6,1517.5 1412.3,1516.5 1413.0,1522.5 1413.7,1515.6 1414.4,1515.1 1415.1,1514.0 1415.8,1513.1 1416.5,1519.8 1417.2,1515.8 1417.9,1515.5 1418.6,1516.6 1419.3,1515.7 1420.0,1524.6 1420.7,1519.8 1421.4,1522.5 1422.1,1526.3 1422.8,1523.2 1423.5,1525.7 1424.2,1524.3 1424.9,1526.3 1425.6,1525.3 1426.3,1526.4 1427.0,1521.4 1427.7,1520.9 1428.4,1525.0 1429.1,1528.2 1429.8,1527.7 1430.5,1526.5 1431.2,1522.5 1431.9,1522.2 1432.6,1522.1 1433.3,1523.9 1434.0,1527.8 1434.7,1520.8 1435.4,1521.0 1436.1,1524.6 1436.8,1518.6 1437.5,1519.3 1438.2,1526.5 1438.9,1517.3 1439.6,1524.3 1440.3,1522.4 1441.0,1516.1 1441.7,1522.6 1442.4,1517.8 1443.1,1518.0 1443.8,1524.6 1444.5,1524.2 1445.2,1522.6 1445.9,1520.9 1446.6,1527.2 1447.3,1523.8 1448.0,1526.9 1448.7,1524.4 1449.4,1518.0 1450.1,1524.1 1450.8,1523.2 1451.5,1525.2 1452.2,1522.8 1452.9,1517.1 1453.6,1525.8 1454.3,1523.2 1455.0,1521.3 1455.7,1522.2 1456.4,1523.0 1457.1,1530.2 1457.8,1523.6 1458.5,1531.4 1459.2,1523.5 1459.9,1529.3 1460.6,1523.6 1461.3,1526.7 1462.0,1522.5 1462.7,1528.1 1463.4,1520.6 1464.1,1522.4 1464.8,1523.0 1465.5,1518.7 1466.2,1514.8 1466.9,1516.3 1467.6,1522.3 1468.3,1515.7 1469.0,1515.4 1469.7,1524.2 1470.4,1523.1 1471.1,1521.1 1471.8,1520.5 1472.5,1527.2 1473.2,1522.7 1473.9,1520.3 1474.6,1522.3 1475.3,1523.7 1476.0,1523.5 1476.7,1527.4 1477.4,1520.5 1478.1,1529.4 1478.8,1525.4 1479.5,1527.0 1480.2,1524.3 1480.9,1523.5 1481.6,1525.2 1482.3,1526.0 1483.0,1528.4 1483.7,1530.6 1484.4,1531.9 1485.1,1526.8 1485.8,1529.1 1486.5,1528.2 1487.2,1532.0 1487.9,1529.5 1488.6,1527.1 1489.3,1526.5 1490.0,1522.5 1490.7,1524.8 1491.4,1525.1 1492.1,1520.6 1492.8,1517.0 1493.5,1519.4 1494.2,1517.0 1494.9,1517.3 1495.6,1518.6 1496.3,1525.1 1497.0,1521.4 1497.7,1521.6 1498.4,1522.6 1499.1,1521.1 1499.8,1526.1 1500.5,1525.2 1501.2,1529.7 1501.9,1528.6 1502.6,1530.7 1503.3,1531.1 1504.0,1527.0 1504.7,1522.2 1505.4,1522.4 1506.1,1520.2 1506.8,1525.2 1507.5,1519.0 1508.2,1523.1 1508.9,1520.4 1509.6,1520.2 1510.3,1522.4 1511.0,1517.9 1511.7,1516.9 1512.4,1517.7 1513.1,1530.7 1513.8,1533.1 1514.5,1535.7 1515.2,1528.6 1515.9,1524.0 1516.6,1522.9 1517.3,1526.1 1518.0,1524.7 1518.7,1527.9 1519.4,1529.3 1520.1,1527.6 1520.8,1525.6 1521.5,1528.2 1522.2,1521.4 1522.9,1529.1 1523.6,1530.8 1524.3,1531.8 1525.0,1526.3 1525.7,1530.1 1526.4,1530.3 1527.1,1526.9 1527.8,1532.6 1528.5,1524.9 1529.2,1528.0 1529.9,1528.0 1530.6,1527.7 1531.3,1524.4 1532.0,1521.7 1532.7,1524.8 1533.4,1518.1 1534.1,1520.8 1534.8,1521.7 1535.5,1524.2 1536.2,1521.5 1536.9,1524.9 1537.6,1525.8 1538.3,1525.3 1539.0,1529.2 1539.7,1525.5 1540.4,1525.7 1541.1,1521.2 1541.8,1522.7 1542.5,1522.2 1543.2,1522.0 1543.9,1525.6 1544.6,1523.6 1545.3,1527.8 1546.0,1531.3 1546.7,1525.8 1547.4,1526.9 1548.1,1529.9 1548.8,1526.5 1549.5,1527.1 1550.2,1530.9 1550.9,1529.6 1551.6,1533.2 1552.3,1528.6 1553.0,1528.6 1553.7,1525.0 1554.4,1524.9 1555.1,1527.6 1555.8,1525.1 1556.5,1529.1 1557.2,1523.8 1557.9,1521.2 1558.6,1526.5 1559.3,1522.2 1560.0,1521.5 1560.7,1524.8 1561.4,1528.6 1562.1,1525.5 1562.8,1527.3 1563.5,1524.3 1564.2,1523.4 1564.9,1526.3 1565.6,1527.5 1566.3,1523.9 1567.0,1528.1 1567.7,1524.1 1568.4,1531.3 1569.1,1527.4 1569.8,1523.2 1570.5,1523.4 1571.2,1524.8 1571.9,1525.1 1572.6,1527.0 1573.3,1528.2 1574.0,1528.4 1574.7,1526.6 1575.4,1528.7 1576.1,1528.0 1576.8,1524.4 1577.5,1522.5 1578.2,1524.4 1578.9,1528.9 1579.6,1525.0 1580.3,1532.2 1581.0,1523.5 1581.7,1521.9 1582.4,1525.4 1583.1,1527.5 1583.8,1529.2 1584.5,1528.4 1585.2,1522.2 1585.9,1529.8 1586.6,1525.7 1587.3,1529.1 1588.0,1530.6 1588.7,1523.8 1589.4,1529.9 1590.1,1522.6 1590.8,1526.9 1591.5,1523.5 1592.2,1521.9 1592.9,1525.3 1593.6,1522.1 1594.3,1527.1 1595.0,1523.9 1595.7,1522.3 1596.4,1517.6 1597.1,1522.5 1597.8,1521.7 1598.5,1522.3 1599.2,1518.5 1599.9,1521.7 1600.6,1511.2 1601.3,1517.0 1602.0,1511.4 1602.7,1501.0 1603.4,1506.5 1604.1,1500.8 1604.8,1507.8 1605.5,1505.8 1606.2,1507.8 1606.9,1508.0 1607.6,1500.2 1608.3,1501.5 1609.0,1504.6 1609.7,1500.0 1610.4,1496.8 1611.1,1495.4 1611.8,1493.3 1612.5,1492.1 1613.2,1493.9 1613.9,1496.7 1614.6,1490.2 1615.3,1484.0 1616.0,1486.8 1616.7,1488.7 1617.4,1490.1 1618.1,1489.6 1618.8,1489.2 1619.5,1490.1 1620.2,1487.2 1620.6,1482.6 1620.9,1490.5 1621.6,1490.9 1622.3,1490.5 1623.0,1487.8 1623.7,1494.8 1624.4,1489.5 1625.1,1495.9 1625.8,1494.6 1626.5,1496.6 1627.2,1490.6 1627.9,1499.6 1628.6,1492.4 1629.3,1494.8 1630.0,1499.4 1630.7,1501.4 1631.4,1499.2 1632.1,1501.9 1632.8,1508.6 1633.5,1504.9 1634.2,1508.9 1634.9,1507.1 1635.6,1511.9 1636.3,1512.8 1637.0,1514.4 1637.7,1509.7 1638.4,1512.4 1639.1,1516.1 1639.8,1521.0 1640.5,1518.0 1641.2,1513.6 1641.9,1513.6 1642.6,1518.0 1643.3,1520.6 1644.0,1519.6 1644.7,1524.7 1645.4,1520.7 1646.1,1518.2 1646.8,1524.0 1647.5,1524.9 1648.2,1519.0 1648.9,1517.9 1649.6,1513.8 1650.3,1510.8 1651.0,1519.9 1651.7,1515.0 1652.4,1523.5 1653.1,1523.8 1653.8,1521.9 1654.5,1515.5 1655.2,1514.9 1655.9,1523.9 1656.6,1526.2 1657.3,1522.0 1658.0,1521.8 1658.7,1527.4 1659.4,1524.0 1660.1,1528.8 1660.8,1525.0 1661.5,1525.1 1662.2,1530.5 1662.9,1522.6 1663.6,1526.0 1664.3,1526.6 1665.0,1530.3 1665.7,1525.9 1666.4,1527.8 1667.1,1522.2 1667.8,1526.0 1668.5,1519.7 1669.2,1520.5 1669.9,1518.9 1670.6,1520.5 1671.3,1526.4 1672.0,1522.1 1672.7,1524.1 1673.4,1527.5 1674.1,1521.5 1674.8,1526.7 1675.5,1529.8 1676.2,1522.7 1676.9,1518.9 1677.6,1522.8 1678.3,1524.2 1679.0,1527.8 1679.7,1527.0 1680.4,1523.0 1681.1,1523.1 1681.8,1523.2 1682.5,1525.1 1683.2,1522.5 1683.9,1524.5 1684.6,1530.2 1685.3,1524.2 1686.0,1520.9 1686.7,1524.7 1687.4,1520.2 1688.1,1521.7 1688.8,1520.5 1689.5,1517.3 1690.2,1521.4 1690.9,1519.3 1691.6,1522.5 1692.3,1509.7 1693.0,1517.0 1693.7,1514.8 1694.4,1513.9 1695.1,1514.6 1695.8,1510.1 1696.5,1509.1 1697.2,1507.4 1697.9,1511.1 1698.6,1510.2 1699.3,1505.2 1700.0,1505.8 1700.7,1506.3 1701.4,1507.1 1702.1,1501.4 1702.8,1506.7 1703.5,1504.7 1704.2,1498.2 1704.9,1494.8 1705.6,1492.6 1706.3,1494.6 1707.0,1490.9 1707.7,1485.2 1708.4,1482.5 1709.1,1485.9 1709.8,1482.5 1710.5,1480.7 1711.2,1472.1 1711.9,1475.8 1712.6,1468.3 1713.3,1466.7 1714.0,1462.3 1714.7,1465.2 1715.4,1457.4 1716.1,1453.6 1716.8,1448.8 1717.5,1447.5 1718.2,1442.3 1718.9,1438.1 1719.6,1431.9 1720.3,1432.5 1721.0,1422.9 1721.7,1426.0 1722.4,1423.4 1723.1,1417.4 1723.8,1413.3 1724.5,1411.1 1725.2,1408.2 1725.9,1411.2 1726.6,1406.8 1727.3,1410.8 1728.0,1405.0 1728.0,1403.9 1728.7,1406.8 1729.4,1407.9 1730.1,1405.4 1730.8,1404.3 1731.5,1406.2 1732.2,1414.7 1732.9,1418.8 1733.6,1424.3 1734.3,1424.0 1735.0,1429.7 1735.7,1432.9 1736.4,1437.0 1737.1,1443.1 1737.8,1442.6 1738.5,1445.8 1739.2,1449.9 1739.9,1454.4 1740.6,1462.8 1741.3,1464.5 1742.0,1467.9 1742.7,1471.7 1743.4,1469.8 1744.1,1478.1 1744.8,1479.9 1745.5,1476.9 1746.2,1479.6 1746.9,1482.7 1747.6,1484.3 1748.3,1492.6 1749.0,1490.3 1749.7,1497.8 1750.4,1498.4 1751.1,1493.3 1751.8,1498.9 1752.5,1505.1 1753.2,1500.5 1753.9,1503.5 1754.6,1502.9 1755.3,1506.5 1756.0,1511.7 1756.7,1505.0 1757.4,1515.5 1758.1,1514.6 1758.8,1511.1 1759.5,1517.9 1760.2,1517.8 1760.9,1519.2 1761.6,1515.1 1762.3,1513.5 1763.0,1515.0 1763.7,1519.3 1764.4,1514.6 1765.1,1517.3 1765.8,1519.1 1766.5,1514.8 1767.2,1524.0 1767.9,1520.1 1768.6,1519.4 1769.3,1519.9 1770.0,1523.3 1770.7,1525.8 1771.4,1521.1 1772.1,1519.9 1772.8,1521.5 1773.5,1521.3 1774.2,1523.5 1774.9,1515.2 1775.6,1521.1 1776.3,1524.1 1777.0,1521.3 1777.7,1521.5 1778.4,1523.1 1779.1,1524.3 1779.8,1526.3 1780.5,1520.9 1781.2,1528.2 1781.9,1527.3 1782.6,1527.3 1783.3,1533.2 1784.0,1527.2 1784.7,1531.4 1785.4,1526.1 1786.1,1529.3 1786.8,1524.7 1787.5,1525.2 1788.2,1526.5 1788.9,1523.1 1789.6,1529.0 1790.3,1527.5 1791.0,1525.8 1791.7,1528.9 1792.4,1524.0 1793.1,1526.8 1793.8,1529.4 1794.5,1528.8 1795.2,1526.5 1795.9,1530.2 1796.6,1530.2 1797.3,1532.7 1798.0,1530.4 1798.7,1535.1 1799.4,1536.7 1800.1,1534.3 1800.8,1529.1 1801.5,1533.3 1802.2,1531.9 1802.9,1532.9 1803.6,1528.4 1804.3,1534.0 1805.0,1528.4 1805.7,1534.4 1806.4,1528.0 1807.1,1530.7 1807.8,1534.8 1808.5,1531.3 1809.2,1534.8 1809.9,1537.2 1810.6,1538.7 1811.3,1539.4 1812.0,1536.2 1812.7,1540.1 1813.4,1533.4 1814.1,1534.8 1814.8,1535.4 1815.5,1528.5 1816.2,1535.8 1816.9,1536.1 1817.6,1535.7 1818.3,1539.9 1819.0,1537.1 1819.7,1534.2 1820.4,1538.3 1821.1,1536.8 1821.8,1538.8 1822.5,1541.3 1823.2,1537.8 1823.9,1537.1 1824.6,1534.3 1825.3,1528.2 1826.0,1527.2 1826.7,1528.4 1827.4,1530.7 1828.1,1535.2 1828.8,1530.8 1829.5,1536.9 1830.2,1531.7 1830.9,1532.4 1831.6,1534.5 1832.3,1537.0 1833.0,1538.3 1833.7,1534.3 1834.4,1532.9 1835.1,1537.2 1835.8,1533.1 1836.5,1531.7 1837.2,1535.6 1837.9,1529.8 1838.6,1537.2 1839.3,1537.7 1840.0,1530.5 1840.7,1537.0 1841.4,1527.5 1842.1,1527.2 1842.8,1526.1 1843.5,1532.4 1844.2,1523.3 1844.9,1526.8 1845.6,1529.0 1846.3,1526.3 1847.0,1533.2 1847.7,1525.9 1848.4,1533.1 1849.1,1531.8 1849.8,1532.5 1850.5,1531.3 1851.2,1531.8 1851.9,1531.3 1852.6,1531.9 1853.3,1523.6 1854.0,1523.5 1854.7,1526.7 1855.4,1521.7 1856.1,1526.1 1856.8,1528.4 1857.5,1522.9 1858.2,1518.6 1858.9,1517.4 1859.6,1522.9 1860.3,1526.4 1861.0,1525.8 1861.7,1527.0 1862.4,1525.3 1863.1,1529.6 1863.8,1526.6 1864.5,1529.7 1865.2,1523.9 1865.9,1528.1 1866.6,1522.5 1867.3,1524.0 1868.0,1523.1 1868.7,1524.6 1869.4,1519.5 1870.1,1525.7 1870.8,1519.8 1871.5,1516.1 1872.2,1520.6 1872.9,1517.6 1873.6,1513.6 1874.3,1511.3 1875.0,1513.1 1875.7,1514.2 1876.4,1509.7 1877.1,1507.3 1877.8,1504.2 1878.5,1504.4 1879.2,1507.2 1879.9,1498.9 1880.6,1503.4 1881.3,1498.3 1882.0,1493.0 1882.7,1487.4 1883.4,1487.0 1884.1,1487.5 1884.8,1479.2 1885.5,1479.0 1886.2,1475.3 1886.9,1474.7 1887.6,1472.7 1888.3,1466.4 1889.0,1461.9 1889.7,1462.7 1890.4,1456.2 1891.1,1453.8 1891.8,1444.9 1892.5,1439.6 1893.2,1434.8 1893.9,1431.2 1894.6,1426.4 1895.3,1423.4 1896.0,1415.1 1896.7,1407.3 1897.4,1405.5 1898.1,1398.6 1898.8,1394.8 1899.5,1393.1 1900.2,1386.3 1900.9,1378.2 1901.6,1378.9 1902.3,1369.4 1903.0,1366.1 1903.7,1367.9 1904.4,1365.7 1905.1,1361.0 1905.8,1363.2 1906.3,1357.5 1906.5,1361.5 1907.2,1365.0 1907.9,1364.8 1908.6,1364.9 1909.3,1368.4 1910.0,1371.6 1910.7,1373.3 1911.4,1382.6 1912.1,1384.5 1912.8,1388.6 1913.5,1395.9 1914.2,1398.8 1914.9,1402.1 1915.6,1407.8 1916.3,1412.6 1917.0,1418.3 1917.7,1423.8 1918.4,1426.1 1919.1,1432.2 1919.8,1435.0 1920.5,1444.2 1921.2,1450.8 1921.9,1451.3 1922.6,1459.0 1923.3,1460.4 1924.0,1468.7 1924.7,1472.2 1925.4,1476.9 1926.1,1474.7 1926.8,1477.7 1927.5,1483.3 1928.2,1482.1 1928.9,1492.1 1929.6,1489.2 1930.3,1491.1 1931.0,1494.5 1931.7,1501.4 1932.4,1499.1 1933.1,1503.5 1933.8,1503.0 1934.5,1510.3 1935.2,1506.5 1935.9,1512.7 1936.6,1522.4 1937.3,1517.7 1938.0,1512.7 1938.7,1518.7 1939.4,1513.8 1940.1,1518.1 1940.8,1522.1 1941.5,1522.2 1942.2,1525.7 1942.9,1523.6 1943.6,1522.0 1944.3,1524.4 1945.0,1527.4 1945.7,1523.3 1946.4,1524.4 1947.1,1524.4 1947.8,1525.2 1948.5,1524.1 1949.2,1524.1 1949.9,1528.1 1950.6,1532.1 1951.3,1530.9 1952.0,1527.9 1952.7,1533.9 1953.4,1531.1 1954.1,1533.7 1954.8,1527.5 1955.5,1533.7 1956.2,1529.5 1956.9,1535.0 1957.6,1528.1 1958.3,1526.1 1959.0,1530.2 1959.7,1534.3 1960.4,1535.8 1961.1,1537.6 1961.8,1532.3 1962.5,1536.3 1963.2,1531.1 1963.9,1531.9 1964.6,1529.2 1965.3,1535.1 1966.0,1538.9 1966.7,1535.8 1967.4,1535.9 1968.1,1538.2 1968.8,1532.9 1969.5,1533.8 1970.2,1536.5 1970.9,1532.2 1971.6,1537.9 1972.3,1531.2 1973.0,1533.3 1973.7,1531.6 1974.4,1534.8 1975.1,1532.5 1975.8,1532.1 1976.5,1536.7 1977.2,1536.7 1977.9,1539.3 1978.6,1533.4 1979.3,1538.2 1980.0,1532.7 1980.7,1538.7 1981.4,1537.6 1982.1,1547.6 1982.8,1540.5 1983.5,1538.3 1984.2,1534.7 1984.9,1540.9 1985.6,1538.2 1986.3,1538.7 1987.0,1541.8 1987.7,1542.2 1988.4,1539.5 1989.1,1536.6 1989.8,1546.5 1990.5,1539.5 1991.2,1538.6 1991.9,1542.2 1992.6,1545.9 1993.3,1538.2 1994.0,1537.2 1994.7,1542.2 1995.4,1541.2 1996.1,1537.4 1996.8,1535.6 1997.5,1539.9 1998.2,1533.1 1998.9,1534.2 1999.6,1534.7 2000.3,1539.3 2001.0,1535.4 2001.7,1532.5 2002.4,1538.5 2003.1,1539.6 2003.8,1532.8 2004.5,1538.2 2005.2,1539.2 2005.9,1536.2 2006.6,1536.9 2007.3,1536.6 2008.0,1541.6 2008.7,1543.8 2009.4,1536.3 2010.1,1533.7 2010.8,1536.4 2011.5,1536.4 2012.2,1533.3 2012.9,1533.4 2013.6,1531.3 2014.3,1536.1 2015.0,1534.7 2015.7,1529.7 2016.4,1532.9 2017.1,1533.2 2017.8,1533.8 2018.5,1542.9 2019.2,1537.2 2019.9,1541.2 2020.6,1538.8 2021.3,1534.6 2022.0,1535.3 2022.7,1541.6 2023.4,1541.0 2024.1,1539.8 2024.8,1536.9 2025.5,1540.3 2026.2,1542.2 2026.9,1538.7 2027.6,1542.2 2028.3,1543.2 2029.0,1536.2 2029.7,1543.1 2030.4,1538.0 2031.1,1540.9 2031.8,1541.5 2032.5,1532.0 2033.2,1537.3 2033.9,1532.5 2034.6,1537.0 2035.3,1540.8 2036.0,1536.5 2036.7,1540.0 2037.4,1540.9 2038.1,1534.0 2038.8,1537.2 2039.5,1536.7 2040.2,1541.0 2040.9,1543.3 2041.6,1536.7 2042.3,1540.3 2043.0,1539.0 2043.7,1538.0 2044.4,1543.1 2045.1,1538.5 2045.8,1543.5 2046.5,1536.3 2047.2,1540.4 2047.9,1538.3 2048.6,1546.8 2049.3,1545.1 2050.0,1542.4 2050.7,1545.2 2051.4,1542.4 2052.1,1549.3 2052.8,1548.1 2053.5,1548.0 2054.2,1546.2 2054.9,1543.5 2055.6,1548.1 2056.3,1545.2 2057.0,1540.7 2057.7,1535.7 2058.4,1541.6 2059.1,1539.3 2059.8,1541.3 2060.5,1548.2 2061.2,1547.4 2061.9,1549.6 2062.6,1548.3 2063.3,1546.9 2064.0,1543.5 2064.7,1547.0 2065.4,1539.4 2066.1,1538.0 2066.8,1539.1 2067.5,1536.6 2068.2,1540.2 2068.9,1537.8 2069.6,1536.2 2070.3,1542.2 2071.0,1542.4 2071.7,1540.3 2072.4,1544.2 2073.1,1542.1 2073.8,1543.7 2074.5,1542.0 2075.2,1542.8 2075.9,1541.2 2076.6,1535.0 2077.3,1537.3 2078.0,1540.1 2078.7,1534.9 2079.4,1541.6 2080.1,1533.8 2080.8,1534.4 2081.5,1536.5 2082.2,1537.9 2082.9,1544.2 2083.6,1537.3 2084.3,1545.5 2085.0,1547.9 2085.7,1540.8 2086.4,1550.7 2087.1,1548.2 2087.8,1542.5 2088.5,1548.6 2089.2,1540.4 2089.9,1542.4 2090.6,1540.5 2091.3,1542.2 2092.0,1538.9 2092.7,1540.9 2093.4,1543.5 2094.1,1542.3 2094.8,1541.4 2095.5,1544.4 2096.2,1544.2 2096.9,1538.0 2097.6,1544.9 2098.3,1545.1 2099.0,1544.2 2099.7,1538.8 2100.4,1543.6 2101.1,1542.5 2101.8,1541.7 2102.5,1540.9 2103.2,1538.9 2103.9,1540.0 2104.6,1536.3 2105.3,1540.9 2106.0,1536.8 2106.7,1533.7 2107.4,1534.1 2108.1,1536.2 2108.8,1538.1 2109.5,1542.1 2110.2,1540.9 2110.9,1538.6 2111.6,1539.5 2112.3,1545.5 2113.0,1546.3 2113.7,1544.4 2114.4,1545.1 2115.1,1540.7 2115.8,1543.1 2116.5,1538.9 2117.2,1538.3 2117.9,1546.3 2118.6,1543.8 2119.3,1546.2 2120.0,1544.9 2120.7,1538.6 2121.4,1536.1 2122.1,1540.5 2122.8,1539.2 2123.5,1540.4 2124.2,1539.4 2124.9,1537.4 2125.6,1537.7 2126.3,1538.3 2127.0,1540.2 2127.7,1536.6 2128.4,1538.1 2129.1,1540.0"/>
</g>
<rect x="245.3" y="40.7" width="1882.2" height="1517.3" fill="none" stroke="#111" stroke-width="5.2"/>
<line x1="241.6" y1="38" x2="241.6" y2="1560" stroke="#8a8a8a" stroke-width="2"/>
<line x1="240.6" y1="37.6" x2="2130" y2="37.6" stroke="#6d6d60" stroke-width="1.8"/>
<line x1="245.2" y1="1558.0" x2="245.2" y2="1589.5" stroke="#111" stroke-width="4.4"/>
<text class="tk" transform="translate(244.6,1658.4) scale(1,1.041)" >10</text>
<line x1="401.9" y1="1558.0" x2="401.9" y2="1575" stroke="#111" stroke-width="4.4"/>
<line x1="558.6" y1="1558.0" x2="558.6" y2="1589.5" stroke="#111" stroke-width="4.4"/>
<text class="tk" transform="translate(558.6,1658.4) scale(1,1.041)" >20</text>
<line x1="715.3" y1="1558.0" x2="715.3" y2="1575" stroke="#111" stroke-width="4.4"/>
<line x1="872.0" y1="1558.0" x2="872.0" y2="1589.5" stroke="#111" stroke-width="4.4"/>
<text class="tk" transform="translate(872.0,1658.4) scale(1,1.041)" >30</text>
<line x1="1028.7" y1="1558.0" x2="1028.7" y2="1575" stroke="#111" stroke-width="4.4"/>
<line x1="1185.4" y1="1558.0" x2="1185.4" y2="1589.5" stroke="#111" stroke-width="4.4"/>
<text class="tk" transform="translate(1185.4,1658.4) scale(1,1.041)" >40</text>
<line x1="1342.1" y1="1558.0" x2="1342.1" y2="1575" stroke="#111" stroke-width="4.4"/>
<line x1="1498.8" y1="1558.0" x2="1498.8" y2="1589.5" stroke="#111" stroke-width="4.4"/>
<text class="tk" transform="translate(1498.8,1658.4) scale(1,1.041)" >50</text>
<line x1="1655.5" y1="1558.0" x2="1655.5" y2="1575" stroke="#111" stroke-width="4.4"/>
<line x1="1812.2" y1="1558.0" x2="1812.2" y2="1589.5" stroke="#111" stroke-width="4.4"/>
<text class="tk" transform="translate(1812.2,1658.4) scale(1,1.041)" >60</text>
<line x1="1968.9" y1="1558.0" x2="1968.9" y2="1575" stroke="#111" stroke-width="4.4"/>
<line x1="2125.6" y1="1558.0" x2="2125.6" y2="1589.5" stroke="#111" stroke-width="4.4"/>
<text class="tk" transform="translate(2125.6,1658.4) scale(1,1.041)" >70</text>
<line x1="263" y1="66.2" x2="403.5" y2="66.2" stroke="#990000" stroke-width="9" stroke-linecap="round"/>
<text class="lg" transform="translate(412.6,85.5) scale(1,1.041)" >Ru/C-Fe<tspan dy="20.85" font-size="35">2</tspan><tspan dy="-20.85">O</tspan><tspan dx="1.3" dy="21.90" font-size="44">3</tspan><tspan dy="-21.90"></tspan></text>
<line x1="263" y1="159.3" x2="403.5" y2="159.3" stroke="#000000" stroke-width="9" stroke-linecap="round"/>
<text class="lg" transform="translate(412.6,180.4) scale(1,1.041)" >Ru/C-Fe<tspan dy="20.85" font-size="35">2</tspan><tspan dy="-20.85">O</tspan><tspan dx="1.3" dy="21.04" font-size="35">3</tspan><tspan dy="-21.04">-300</tspan></text>
<line x1="263" y1="252.9" x2="403.5" y2="252.9" stroke="#0000ff" stroke-width="9" stroke-linecap="round"/>
<text class="lg" transform="translate(412.6,273.1) scale(1,1.041)" >Ru/C-Fe<tspan dy="20.85" font-size="35">2</tspan><tspan dy="-20.85">O</tspan><tspan dx="1.3" dy="21.04" font-size="35">3</tspan><tspan dy="-21.04">-500</tspan></text>
<line x1="263" y1="345.2" x2="403.5" y2="345.2" stroke="#ff0000" stroke-width="9" stroke-linecap="round"/>
<text class="lg" transform="translate(412.6,365.7) scale(1,1.041)" >Ru/C-Fe<tspan dy="20.85" font-size="35">2</tspan><tspan dy="-20.85">O</tspan><tspan dx="1.3" dy="21.04" font-size="35">3</tspan><tspan dy="-21.04">-600</tspan></text>
<line x1="263" y1="438.3" x2="403.5" y2="438.3" stroke="#00ff00" stroke-width="9" stroke-linecap="round"/>
<text class="lg" transform="translate(412.6,458.8) scale(1,1.041)" >Ru/C-Fe<tspan dy="20.85" font-size="35">2</tspan><tspan dy="-20.85">O</tspan><tspan dx="1.3" dy="21.04" font-size="35">3</tspan><tspan dy="-21.04">-750</tspan></text>
<text class="an" transform="translate(1123.5,462.7) scale(1,1.041)" fill="#111111" text-anchor="middle">C</text>
<text class="an" transform="translate(1200.2,526.0) scale(1,1.041)" fill="#111111" text-anchor="middle">C</text>
<text class="an" transform="translate(1287.3,416.7) scale(1,1.041)" fill="#111111" text-anchor="middle">C</text>
<text class="an" transform="translate(1377.6,416.7) scale(1,1.041)" fill="#111111" text-anchor="middle">C</text>
<text class="an" transform="translate(1465.6,422.1) scale(1,1.041)" fill="#111111" text-anchor="middle">C</text>
<text class="an" transform="translate(1567.5,499.4) scale(1,1.041)" fill="#111111" text-anchor="middle">C</text>
<text class="an" transform="translate(1647.4,501.8) scale(1,1.041)" fill="#111111" text-anchor="middle">C</text>
<text class="an" transform="translate(1698.6,542.9) scale(1,1.041)" fill="#111111" text-anchor="middle">C</text>
<text class="an" transform="translate(1768.0,498.4) scale(1,1.041)" fill="#111111" text-anchor="middle">C</text>
<text class="an" transform="translate(1854.0,529.4) scale(1,1.041)" fill="#111111" text-anchor="middle">C</text>
<text class="an" transform="translate(2030.0,550.8) scale(1,1.041)" fill="#111111" text-anchor="middle">C</text>
<text class="an" transform="translate(1980.6,516.0) scale(1,1.041)" fill="#808080" text-anchor="middle">F</text>
<text class="an" transform="translate(758.6,505.4) scale(1,1.041)" fill="#0000ff" text-anchor="middle">G</text>
<text class="an" transform="translate(512.2,1005.2) scale(1,1.041)" fill="#ff0000" text-anchor="middle">S</text>
<text class="an" transform="translate(882.7,926.9) scale(1,1.041)" fill="#ff0000" text-anchor="middle">S</text>
<text class="an" transform="translate(1055.0,692.1) scale(1,1.041)" fill="#ff0000" text-anchor="middle">S</text>
<text class="an" transform="translate(1107.6,988.2) scale(1,1.041)" fill="#ff0000" text-anchor="middle">S</text>
<text class="an" transform="translate(1300.6,859.8) scale(1,1.041)" fill="#ff0000" text-anchor="middle">S</text>
<text class="an" transform="translate(1623.7,970.9) scale(1,1.041)" fill="#ff0000" text-anchor="middle">S</text>
<text class="an" transform="translate(1731.0,871.4) scale(1,1.041)" fill="#ff0000" text-anchor="middle">S</text>
<text class="an" transform="translate(1902.4,763.8) scale(1,1.041)" fill="#ff0000" text-anchor="middle">S</text>
<text class="an" transform="translate(1101.0,835.4) scale(1,1.041)" fill="#00e5ee" text-anchor="middle" stroke="#00e5ee" stroke-width="1.1">O</text>
<text class="an" transform="translate(1242.0,973.8) scale(1,1.041)" fill="#00e5ee" text-anchor="middle" stroke="#00e5ee" stroke-width="1.1">O</text>
<text class="an" transform="translate(1852.9,999.2) scale(1,1.041)" fill="#00e5ee" text-anchor="middle" stroke="#00e5ee" stroke-width="1.1">O</text>
<text class="an" transform="translate(1353.6,952.8) scale(1,1.041)" fill="#808080" text-anchor="middle">F</text>
<text class="an" transform="translate(1321.0,203.0) scale(1,1.041)" fill="#808080">F</text>
<text class="an" transform="translate(1355.5,203.0) scale(1,1.041)" fill="#808080">,</text>
<text class="an" transform="translate(1366.5,203.0) scale(1,1.041)" fill="#111">C</text>
<text class="yl" transform="translate(122.7,978.2) rotate(-90) scale(1,1.02)">Intensity a.u.</text>
<text class="xl" transform="translate(1081.8,1791.0) scale(1,1.041)" >2</text>
<text class="xl ser" x="1149" y="1791" style="font-size:82px">θ</text>
<text class="xl ser" x="1208" y="1790" style="font-size:84px">(</text>
<text class="xl" x="1236" y="1753" style="font-size:46px">o</text>
<text class="xl ser" x="1260" y="1790" style="font-size:84px">)</text>
</g>
</svg>
</body>
</html>
